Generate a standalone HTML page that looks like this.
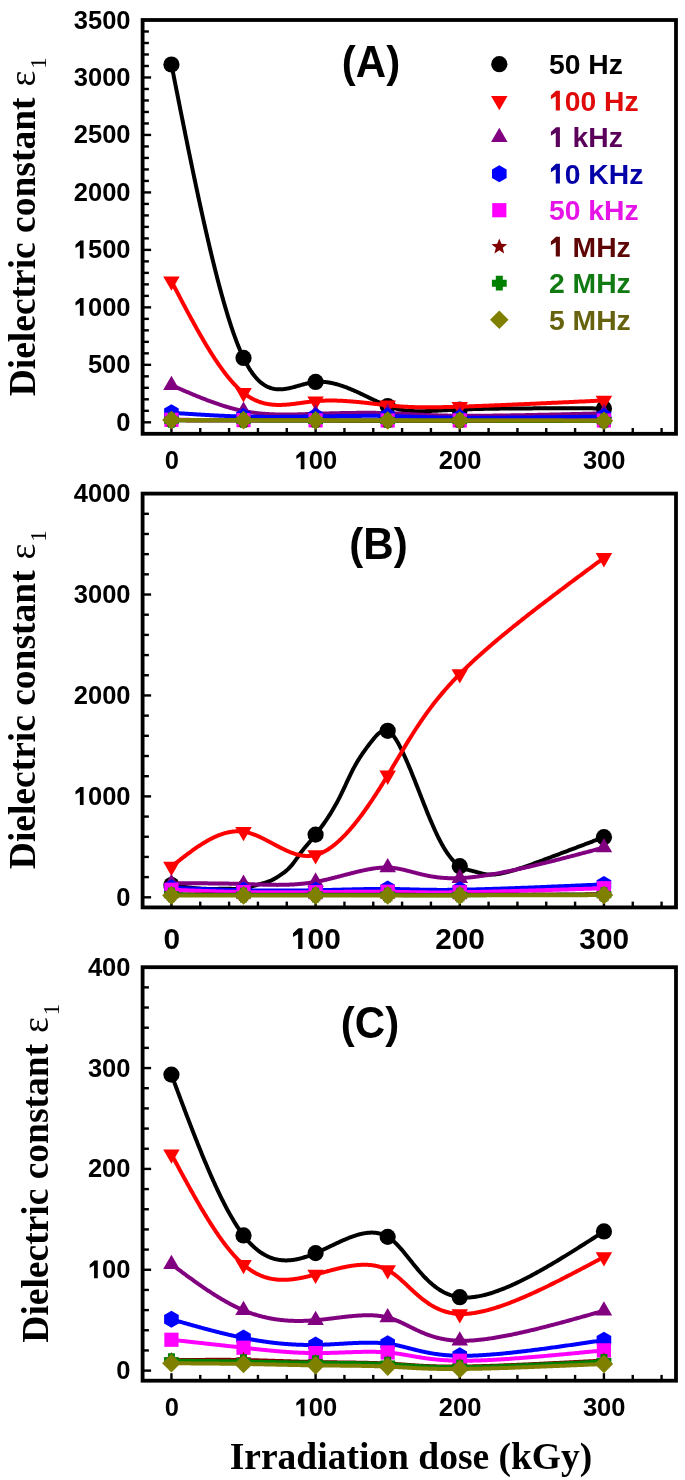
<!DOCTYPE html>
<html><head><meta charset="utf-8"><style>
html,body{margin:0;padding:0;background:#fff;width:685px;height:1480px;overflow:hidden}
svg{display:block;will-change:transform}
.t{font-family:"Liberation Sans",sans-serif;font-weight:bold}
.s{font-family:"Liberation Serif",serif}
</style></head><body>
<svg width="685" height="1480" viewBox="0 0 685 1480">
<rect width="685" height="1480" fill="#fff"/>
<line x1="142.60" y1="422.31" x2="151.10" y2="422.31" stroke="#000" stroke-width="2.4"/>
<text class="t" x="116.32" y="430.81" font-size="25.5">0</text>
<line x1="142.60" y1="410.81" x2="148.90" y2="410.81" stroke="#000" stroke-width="2.4"/>
<line x1="142.60" y1="399.32" x2="148.90" y2="399.32" stroke="#000" stroke-width="2.4"/>
<line x1="142.60" y1="387.82" x2="148.90" y2="387.82" stroke="#000" stroke-width="2.4"/>
<line x1="142.60" y1="376.33" x2="148.90" y2="376.33" stroke="#000" stroke-width="2.4"/>
<line x1="142.60" y1="364.83" x2="151.10" y2="364.83" stroke="#000" stroke-width="2.4"/>
<text class="t" x="87.95" y="373.33" font-size="25.5">500</text>
<line x1="142.60" y1="353.34" x2="148.90" y2="353.34" stroke="#000" stroke-width="2.4"/>
<line x1="142.60" y1="341.84" x2="148.90" y2="341.84" stroke="#000" stroke-width="2.4"/>
<line x1="142.60" y1="330.35" x2="148.90" y2="330.35" stroke="#000" stroke-width="2.4"/>
<line x1="142.60" y1="318.86" x2="148.90" y2="318.86" stroke="#000" stroke-width="2.4"/>
<line x1="142.60" y1="307.36" x2="151.10" y2="307.36" stroke="#000" stroke-width="2.4"/>
<text class="t" x="73.77" y="315.86" font-size="25.5"> 000</text><path transform="translate(73.77,315.86) scale(0.01245,-0.01245)" d="M789,0L490,0L490,1040L138,830L138,1090L510,1430L789,1430Z"/>
<line x1="142.60" y1="295.87" x2="148.90" y2="295.87" stroke="#000" stroke-width="2.4"/>
<line x1="142.60" y1="284.37" x2="148.90" y2="284.37" stroke="#000" stroke-width="2.4"/>
<line x1="142.60" y1="272.88" x2="148.90" y2="272.88" stroke="#000" stroke-width="2.4"/>
<line x1="142.60" y1="261.38" x2="148.90" y2="261.38" stroke="#000" stroke-width="2.4"/>
<line x1="142.60" y1="249.89" x2="151.10" y2="249.89" stroke="#000" stroke-width="2.4"/>
<text class="t" x="73.77" y="258.39" font-size="25.5"> 500</text><path transform="translate(73.77,258.39) scale(0.01245,-0.01245)" d="M789,0L490,0L490,1040L138,830L138,1090L510,1430L789,1430Z"/>
<line x1="142.60" y1="238.39" x2="148.90" y2="238.39" stroke="#000" stroke-width="2.4"/>
<line x1="142.60" y1="226.90" x2="148.90" y2="226.90" stroke="#000" stroke-width="2.4"/>
<line x1="142.60" y1="215.41" x2="148.90" y2="215.41" stroke="#000" stroke-width="2.4"/>
<line x1="142.60" y1="203.91" x2="148.90" y2="203.91" stroke="#000" stroke-width="2.4"/>
<line x1="142.60" y1="192.42" x2="151.10" y2="192.42" stroke="#000" stroke-width="2.4"/>
<text class="t" x="73.77" y="200.92" font-size="25.5">2000</text>
<line x1="142.60" y1="180.92" x2="148.90" y2="180.92" stroke="#000" stroke-width="2.4"/>
<line x1="142.60" y1="169.43" x2="148.90" y2="169.43" stroke="#000" stroke-width="2.4"/>
<line x1="142.60" y1="157.93" x2="148.90" y2="157.93" stroke="#000" stroke-width="2.4"/>
<line x1="142.60" y1="146.44" x2="148.90" y2="146.44" stroke="#000" stroke-width="2.4"/>
<line x1="142.60" y1="134.94" x2="151.10" y2="134.94" stroke="#000" stroke-width="2.4"/>
<text class="t" x="73.77" y="143.44" font-size="25.5">2500</text>
<line x1="142.60" y1="123.45" x2="148.90" y2="123.45" stroke="#000" stroke-width="2.4"/>
<line x1="142.60" y1="111.96" x2="148.90" y2="111.96" stroke="#000" stroke-width="2.4"/>
<line x1="142.60" y1="100.46" x2="148.90" y2="100.46" stroke="#000" stroke-width="2.4"/>
<line x1="142.60" y1="88.97" x2="148.90" y2="88.97" stroke="#000" stroke-width="2.4"/>
<line x1="142.60" y1="77.47" x2="151.10" y2="77.47" stroke="#000" stroke-width="2.4"/>
<text class="t" x="73.77" y="85.97" font-size="25.5">3000</text>
<line x1="142.60" y1="65.98" x2="148.90" y2="65.98" stroke="#000" stroke-width="2.4"/>
<line x1="142.60" y1="54.48" x2="148.90" y2="54.48" stroke="#000" stroke-width="2.4"/>
<line x1="142.60" y1="42.99" x2="148.90" y2="42.99" stroke="#000" stroke-width="2.4"/>
<line x1="142.60" y1="31.49" x2="148.90" y2="31.49" stroke="#000" stroke-width="2.4"/>
<text class="t" x="73.77" y="28.50" font-size="25.5">3500</text>
<line x1="171.43" y1="433.80" x2="171.43" y2="426.30" stroke="#000" stroke-width="2.4"/>
<text class="t" x="164.64" y="469.30" font-size="25.5">0</text>
<line x1="200.26" y1="433.80" x2="200.26" y2="428.00" stroke="#000" stroke-width="2.4"/>
<line x1="229.10" y1="433.80" x2="229.10" y2="428.00" stroke="#000" stroke-width="2.4"/>
<line x1="257.93" y1="433.80" x2="257.93" y2="428.00" stroke="#000" stroke-width="2.4"/>
<line x1="286.76" y1="433.80" x2="286.76" y2="428.00" stroke="#000" stroke-width="2.4"/>
<line x1="315.59" y1="433.80" x2="315.59" y2="426.30" stroke="#000" stroke-width="2.4"/>
<text class="t" x="294.62" y="469.30" font-size="25.5"> 00</text><path transform="translate(294.62,469.30) scale(0.01245,-0.01245)" d="M789,0L490,0L490,1040L138,830L138,1090L510,1430L789,1430Z"/>
<line x1="344.43" y1="433.80" x2="344.43" y2="428.00" stroke="#000" stroke-width="2.4"/>
<line x1="373.26" y1="433.80" x2="373.26" y2="428.00" stroke="#000" stroke-width="2.4"/>
<line x1="402.09" y1="433.80" x2="402.09" y2="428.00" stroke="#000" stroke-width="2.4"/>
<line x1="430.92" y1="433.80" x2="430.92" y2="428.00" stroke="#000" stroke-width="2.4"/>
<line x1="459.76" y1="433.80" x2="459.76" y2="426.30" stroke="#000" stroke-width="2.4"/>
<text class="t" x="438.78" y="469.30" font-size="25.5">200</text>
<line x1="488.59" y1="433.80" x2="488.59" y2="428.00" stroke="#000" stroke-width="2.4"/>
<line x1="517.42" y1="433.80" x2="517.42" y2="428.00" stroke="#000" stroke-width="2.4"/>
<line x1="546.25" y1="433.80" x2="546.25" y2="428.00" stroke="#000" stroke-width="2.4"/>
<line x1="575.09" y1="433.80" x2="575.09" y2="428.00" stroke="#000" stroke-width="2.4"/>
<line x1="603.92" y1="433.80" x2="603.92" y2="426.30" stroke="#000" stroke-width="2.4"/>
<text class="t" x="582.95" y="469.30" font-size="25.5">300</text>
<line x1="632.75" y1="433.80" x2="632.75" y2="428.00" stroke="#000" stroke-width="2.4"/>
<line x1="661.58" y1="433.80" x2="661.58" y2="428.00" stroke="#000" stroke-width="2.4"/>
<rect x="142.60" y="20.00" width="533.40" height="413.80" fill="none" stroke="#000" stroke-width="3.8"/>
<text class="t" transform="translate(371,77.1) scale(1,1.04)" font-size="42" text-anchor="middle">(A)</text>
<polyline points="171.43,64.48 172.16,68.14 172.88,71.80 173.61,75.46 174.33,79.12 175.05,82.78 175.78,86.43 176.50,90.08 177.23,93.73 177.95,97.37 178.67,101.01 179.40,104.65 180.12,108.28 180.85,111.91 181.57,115.53 182.30,119.14 183.02,122.75 183.74,126.35 184.47,129.94 185.19,133.53 185.91,137.11 186.64,140.67 187.36,144.23 188.09,147.78 188.81,151.32 189.53,154.85 190.26,158.37 190.98,161.88 191.70,165.37 192.43,168.86 193.15,172.33 193.87,175.79 194.60,179.23 195.32,182.66 196.04,186.08 196.77,189.48 197.49,192.86 198.21,196.23 198.94,199.59 199.66,202.92 200.38,206.25 201.10,209.55 201.83,212.83 202.55,216.10 203.27,219.35 203.99,222.58 204.71,225.79 205.44,228.98 206.16,232.15 206.88,235.29 207.60,238.42 208.32,241.53 209.05,244.61 209.77,247.67 210.49,250.71 211.21,253.72 211.93,256.71 212.65,259.67 213.37,262.61 214.09,265.53 214.81,268.42 215.53,271.28 216.25,274.12 216.97,276.93 217.69,279.71 218.41,282.47 219.13,285.19 219.85,287.89 220.57,290.56 221.29,293.20 222.01,295.80 222.73,298.38 223.45,300.93 224.17,303.45 224.89,305.93 225.61,308.38 226.32,310.80 227.04,313.19 227.76,315.54 228.48,317.86 229.20,320.14 229.91,322.39 230.63,324.61 231.35,326.79 232.07,328.93 232.78,331.03 233.50,333.10 234.22,335.13 234.93,337.13 235.65,339.08 236.36,341.00 237.08,342.88 237.80,344.71 238.51,346.51 239.23,348.27 239.94,349.98 240.66,351.66 241.37,353.29 242.09,354.88 242.80,356.43 243.51,357.94 244.23,359.40 244.94,360.82 245.65,362.19 246.37,363.53 247.08,364.82 247.79,366.07 248.51,367.29 249.22,368.46 249.93,369.59 250.64,370.69 251.36,371.74 252.07,372.76 252.78,373.75 253.49,374.69 254.20,375.60 254.92,376.48 255.63,377.32 256.34,378.13 257.05,378.90 257.76,379.64 258.48,380.35 259.19,381.03 259.90,381.67 260.61,382.29 261.32,382.87 262.04,383.43 262.75,383.96 263.46,384.45 264.17,384.92 264.88,385.37 265.60,385.78 266.31,386.17 267.02,386.54 267.73,386.88 268.45,387.19 269.16,387.48 269.87,387.75 270.59,387.99 271.30,388.22 272.01,388.42 272.73,388.60 273.44,388.75 274.16,388.89 274.87,389.01 275.59,389.11 276.30,389.20 277.02,389.26 277.73,389.31 278.45,389.34 279.17,389.35 279.88,389.35 280.60,389.34 281.32,389.31 282.03,389.26 282.75,389.21 283.47,389.14 284.19,389.05 284.91,388.96 285.63,388.85 286.35,388.74 287.07,388.61 287.79,388.48 288.51,388.34 289.23,388.18 289.95,388.02 290.68,387.86 291.40,387.68 292.12,387.51 292.85,387.32 293.57,387.13 294.30,386.94 295.02,386.74 295.75,386.54 296.48,386.34 297.20,386.13 297.93,385.92 298.66,385.72 299.39,385.51 300.12,385.30 300.85,385.09 301.58,384.89 302.31,384.68 303.04,384.48 303.77,384.28 304.51,384.09 305.24,383.90 305.98,383.71 306.71,383.53 307.45,383.35 308.18,383.18 308.92,383.02 309.66,382.86 310.40,382.72 311.14,382.58 311.88,382.45 312.62,382.33 313.36,382.22 314.11,382.12 314.85,382.04 315.59,381.96 316.34,381.90 317.09,381.85 317.83,381.81 318.58,381.78 319.33,381.77 320.08,381.76 320.83,381.77 321.58,381.79 322.33,381.82 323.08,381.86 323.83,381.91 324.58,381.98 325.33,382.05 326.09,382.13 326.84,382.22 327.59,382.32 328.35,382.43 329.10,382.56 329.85,382.68 330.61,382.82 331.36,382.97 332.11,383.13 332.87,383.29 333.62,383.46 334.37,383.64 335.13,383.83 335.88,384.03 336.63,384.23 337.39,384.44 338.14,384.66 338.89,384.88 339.64,385.11 340.39,385.35 341.14,385.59 341.89,385.84 342.64,386.09 343.39,386.36 344.14,386.62 344.89,386.89 345.64,387.17 346.38,387.45 347.13,387.74 347.87,388.03 348.62,388.32 349.36,388.62 350.10,388.93 350.84,389.23 351.58,389.54 352.32,389.86 353.06,390.18 353.79,390.50 354.53,390.82 355.26,391.15 356.00,391.47 356.73,391.81 357.46,392.14 358.19,392.47 358.92,392.81 359.64,393.15 360.37,393.49 361.09,393.83 361.81,394.17 362.53,394.51 363.25,394.85 363.97,395.20 364.68,395.54 365.39,395.88 366.10,396.23 366.81,396.57 367.52,396.91 368.23,397.25 368.93,397.59 369.63,397.93 370.33,398.27 371.03,398.61 371.72,398.94 372.42,399.28 373.11,399.61 373.80,399.94 374.48,400.26 375.17,400.59 375.85,400.91 376.53,401.22 377.21,401.54 377.88,401.85 378.55,402.16 379.22,402.46 379.89,402.76 380.55,403.06 381.22,403.35 381.87,403.64 382.53,403.92 383.18,404.20 383.83,404.47 384.48,404.73 385.13,405.00 385.77,405.25 386.41,405.50 387.04,405.75 387.68,405.98 388.31,406.21 388.93,406.44 389.56,406.66 390.18,406.87 390.80,407.08 391.41,407.28 392.03,407.47 392.64,407.66 393.25,407.84 393.86,408.02 394.46,408.19 395.07,408.36 395.67,408.52 396.27,408.67 396.88,408.82 397.48,408.96 398.08,409.10 398.68,409.24 399.28,409.37 399.87,409.49 400.47,409.61 401.07,409.72 401.67,409.83 402.27,409.93 402.87,410.03 403.47,410.13 404.07,410.22 404.67,410.30 405.27,410.38 405.87,410.46 406.48,410.53 407.09,410.60 407.69,410.67 408.30,410.73 408.91,410.79 409.53,410.84 410.14,410.89 410.76,410.93 411.38,410.97 412.01,411.01 412.63,411.05 413.26,411.08 413.89,411.11 414.53,411.13 415.17,411.15 415.81,411.17 416.45,411.19 417.10,411.20 417.76,411.21 418.41,411.21 419.08,411.22 419.74,411.22 420.41,411.22 421.09,411.21 421.77,411.21 422.45,411.20 423.14,411.19 423.84,411.17 424.54,411.16 425.25,411.14 425.96,411.12 426.68,411.10 427.40,411.07 428.13,411.05 428.87,411.02 429.61,410.99 430.36,410.96 431.12,410.93 431.88,410.90 432.65,410.86 433.43,410.83 434.21,410.79 435.00,410.75 435.80,410.71 436.61,410.67 437.43,410.63 438.25,410.59 439.08,410.54 439.92,410.50 440.77,410.46 441.63,410.41 442.49,410.37 443.37,410.32 444.25,410.27 445.15,410.23 446.05,410.18 446.96,410.13 447.88,410.09 448.82,410.04 449.76,409.99 450.71,409.95 451.67,409.90 452.64,409.85 453.63,409.81 454.62,409.76 455.63,409.72 456.64,409.67 457.67,409.63 458.71,409.59 459.76,409.55 460.82,409.51 461.89,409.47 462.97,409.43 464.07,409.39 465.18,409.35 466.29,409.31 467.42,409.28 468.56,409.24 469.71,409.21 470.87,409.18 472.04,409.14 473.22,409.11 474.41,409.08 475.61,409.05 476.83,409.02 478.05,408.99 479.28,408.97 480.52,408.94 481.77,408.91 483.03,408.89 484.30,408.86 485.57,408.84 486.86,408.81 488.16,408.79 489.46,408.77 490.77,408.75 492.09,408.73 493.43,408.71 494.76,408.69 496.11,408.67 497.47,408.65 498.83,408.63 500.20,408.62 501.58,408.60 502.96,408.58 504.36,408.57 505.76,408.55 507.17,408.54 508.58,408.53 510.01,408.51 511.43,408.50 512.87,408.49 514.31,408.48 515.76,408.47 517.22,408.46 518.68,408.45 520.15,408.44 521.63,408.43 523.11,408.42 524.60,408.41 526.09,408.40 527.59,408.40 529.09,408.39 530.60,408.38 532.11,408.38 533.63,408.37 535.16,408.37 536.69,408.36 538.22,408.36 539.76,408.35 541.31,408.35 542.86,408.35 544.41,408.35 545.97,408.34 547.53,408.34 549.10,408.34 550.67,408.34 552.24,408.34 553.82,408.33 555.40,408.33 556.98,408.33 558.57,408.33 560.16,408.33 561.75,408.33 563.35,408.33 564.95,408.34 566.55,408.34 568.16,408.34 569.77,408.34 571.38,408.34 572.99,408.34 574.61,408.34 576.22,408.35 577.84,408.35 579.46,408.35 581.09,408.35 582.71,408.36 584.34,408.36 585.96,408.36 587.59,408.36 589.22,408.37 590.85,408.37 592.48,408.37 594.11,408.38 595.75,408.38 597.38,408.38 599.02,408.39 600.65,408.39 602.28,408.39 603.92,408.40" fill="none" stroke="#000000" stroke-width="4.0" stroke-linejoin="round"/>
<circle cx="171.43" cy="64.48" r="8.10" fill="#000000"/>
<circle cx="243.51" cy="357.94" r="8.10" fill="#000000"/>
<circle cx="315.59" cy="381.96" r="8.10" fill="#000000"/>
<circle cx="387.68" cy="405.98" r="8.10" fill="#000000"/>
<circle cx="459.76" cy="409.55" r="8.10" fill="#000000"/>
<circle cx="603.92" cy="408.40" r="8.10" fill="#000000"/>
<polyline points="171.43,281.15 172.16,282.55 172.88,283.94 173.61,285.33 174.33,286.72 175.05,288.11 175.78,289.50 176.50,290.89 177.23,292.27 177.95,293.66 178.67,295.04 179.40,296.43 180.12,297.81 180.85,299.18 181.57,300.56 182.30,301.94 183.02,303.31 183.74,304.68 184.47,306.04 185.19,307.41 185.91,308.77 186.64,310.12 187.36,311.48 188.09,312.83 188.81,314.17 189.53,315.52 190.26,316.85 190.98,318.19 191.70,319.52 192.43,320.84 193.15,322.16 193.87,323.48 194.60,324.79 195.32,326.09 196.04,327.39 196.77,328.68 197.49,329.97 198.21,331.25 198.94,332.53 199.66,333.80 200.38,335.06 201.10,336.32 201.83,337.57 202.55,338.81 203.27,340.05 203.99,341.28 204.71,342.50 205.44,343.71 206.16,344.92 206.88,346.12 207.60,347.31 208.32,348.49 209.05,349.66 209.77,350.83 210.49,351.98 211.21,353.13 211.93,354.27 212.65,355.40 213.37,356.52 214.09,357.63 214.81,358.73 215.53,359.82 216.25,360.90 216.97,361.97 217.69,363.03 218.41,364.08 219.13,365.11 219.85,366.14 220.57,367.16 221.29,368.16 222.01,369.16 222.73,370.14 223.45,371.11 224.17,372.07 224.89,373.02 225.61,373.95 226.32,374.87 227.04,375.78 227.76,376.68 228.48,377.57 229.20,378.44 229.91,379.29 230.63,380.14 231.35,380.97 232.07,381.79 232.78,382.59 233.50,383.38 234.22,384.16 234.93,384.92 235.65,385.67 236.36,386.40 237.08,387.12 237.80,387.82 238.51,388.51 239.23,389.18 239.94,389.83 240.66,390.48 241.37,391.10 242.09,391.71 242.80,392.30 243.51,392.88 244.23,393.44 244.94,393.98 245.65,394.51 246.37,395.02 247.08,395.52 247.79,396.00 248.51,396.47 249.22,396.92 249.93,397.35 250.64,397.78 251.36,398.18 252.07,398.57 252.78,398.95 253.49,399.32 254.20,399.67 254.92,400.01 255.63,400.33 256.34,400.64 257.05,400.94 257.76,401.23 258.48,401.50 259.19,401.76 259.90,402.01 260.61,402.25 261.32,402.47 262.04,402.69 262.75,402.89 263.46,403.08 264.17,403.27 264.88,403.44 265.60,403.60 266.31,403.75 267.02,403.89 267.73,404.02 268.45,404.14 269.16,404.25 269.87,404.35 270.59,404.45 271.30,404.53 272.01,404.61 272.73,404.68 273.44,404.74 274.16,404.79 274.87,404.83 275.59,404.87 276.30,404.90 277.02,404.92 277.73,404.93 278.45,404.94 279.17,404.94 279.88,404.94 280.60,404.93 281.32,404.91 282.03,404.89 282.75,404.86 283.47,404.83 284.19,404.79 284.91,404.75 285.63,404.70 286.35,404.64 287.07,404.59 287.79,404.53 288.51,404.46 289.23,404.39 289.95,404.32 290.68,404.24 291.40,404.17 292.12,404.08 292.85,404.00 293.57,403.91 294.30,403.82 295.02,403.73 295.75,403.64 296.48,403.55 297.20,403.45 297.93,403.35 298.66,403.25 299.39,403.15 300.12,403.05 300.85,402.95 301.58,402.85 302.31,402.75 303.04,402.65 303.77,402.55 304.51,402.45 305.24,402.35 305.98,402.25 306.71,402.16 307.45,402.06 308.18,401.97 308.92,401.87 309.66,401.78 310.40,401.70 311.14,401.61 311.88,401.53 312.62,401.45 313.36,401.37 314.11,401.29 314.85,401.22 315.59,401.16 316.34,401.09 317.09,401.03 317.83,400.98 318.58,400.92 319.33,400.87 320.08,400.83 320.83,400.79 321.58,400.75 322.33,400.71 323.08,400.68 323.83,400.65 324.58,400.63 325.33,400.60 326.09,400.59 326.84,400.57 327.59,400.56 328.35,400.55 329.10,400.54 329.85,400.54 330.61,400.54 331.36,400.54 332.11,400.54 332.87,400.55 333.62,400.56 334.37,400.57 335.13,400.58 335.88,400.60 336.63,400.62 337.39,400.64 338.14,400.67 338.89,400.70 339.64,400.72 340.39,400.76 341.14,400.79 341.89,400.82 342.64,400.86 343.39,400.90 344.14,400.94 344.89,400.99 345.64,401.03 346.38,401.08 347.13,401.13 347.87,401.18 348.62,401.23 349.36,401.29 350.10,401.34 350.84,401.40 351.58,401.46 352.32,401.52 353.06,401.58 353.79,401.64 354.53,401.70 355.26,401.77 356.00,401.84 356.73,401.90 357.46,401.97 358.19,402.04 358.92,402.11 359.64,402.18 360.37,402.25 361.09,402.33 361.81,402.40 362.53,402.48 363.25,402.55 363.97,402.63 364.68,402.70 365.39,402.78 366.10,402.86 366.81,402.94 367.52,403.01 368.23,403.09 368.93,403.17 369.63,403.25 370.33,403.33 371.03,403.41 371.72,403.49 372.42,403.57 373.11,403.65 373.80,403.73 374.48,403.81 375.17,403.89 375.85,403.96 376.53,404.04 377.21,404.12 377.88,404.20 378.55,404.28 379.22,404.35 379.89,404.43 380.55,404.51 381.22,404.58 381.87,404.66 382.53,404.73 383.18,404.81 383.83,404.88 384.48,404.95 385.13,405.02 385.77,405.09 386.41,405.16 387.04,405.23 387.68,405.29 388.31,405.36 388.93,405.42 389.56,405.49 390.18,405.55 390.80,405.61 391.41,405.67 392.03,405.73 392.64,405.79 393.25,405.84 393.86,405.90 394.46,405.95 395.07,406.01 395.67,406.06 396.27,406.11 396.88,406.16 397.48,406.21 398.08,406.26 398.68,406.30 399.28,406.35 399.87,406.39 400.47,406.44 401.07,406.48 401.67,406.52 402.27,406.56 402.87,406.60 403.47,406.64 404.07,406.67 404.67,406.71 405.27,406.74 405.87,406.78 406.48,406.81 407.09,406.84 407.69,406.87 408.30,406.90 408.91,406.93 409.53,406.96 410.14,406.98 410.76,407.01 411.38,407.03 412.01,407.06 412.63,407.08 413.26,407.10 413.89,407.12 414.53,407.14 415.17,407.16 415.81,407.17 416.45,407.19 417.10,407.20 417.76,407.22 418.41,407.23 419.08,407.24 419.74,407.26 420.41,407.27 421.09,407.27 421.77,407.28 422.45,407.29 423.14,407.30 423.84,407.30 424.54,407.31 425.25,407.31 425.96,407.31 426.68,407.31 427.40,407.31 428.13,407.31 428.87,407.31 429.61,407.31 430.36,407.30 431.12,407.30 431.88,407.29 432.65,407.29 433.43,407.28 434.21,407.27 435.00,407.26 435.80,407.25 436.61,407.24 437.43,407.23 438.25,407.22 439.08,407.20 439.92,407.19 440.77,407.17 441.63,407.16 442.49,407.14 443.37,407.12 444.25,407.10 445.15,407.08 446.05,407.06 446.96,407.04 447.88,407.02 448.82,406.99 449.76,406.97 450.71,406.94 451.67,406.92 452.64,406.89 453.63,406.86 454.62,406.83 455.63,406.80 456.64,406.77 457.67,406.74 458.71,406.71 459.76,406.67 460.82,406.64 461.89,406.60 462.97,406.57 464.07,406.53 465.18,406.49 466.29,406.46 467.42,406.42 468.56,406.38 469.71,406.34 470.87,406.30 472.04,406.25 473.22,406.21 474.41,406.17 475.61,406.12 476.83,406.08 478.05,406.03 479.28,405.98 480.52,405.94 481.77,405.89 483.03,405.84 484.30,405.79 485.57,405.74 486.86,405.69 488.16,405.64 489.46,405.59 490.77,405.53 492.09,405.48 493.43,405.43 494.76,405.37 496.11,405.32 497.47,405.26 498.83,405.21 500.20,405.15 501.58,405.09 502.96,405.03 504.36,404.97 505.76,404.92 507.17,404.86 508.58,404.80 510.01,404.74 511.43,404.67 512.87,404.61 514.31,404.55 515.76,404.49 517.22,404.42 518.68,404.36 520.15,404.30 521.63,404.23 523.11,404.17 524.60,404.10 526.09,404.04 527.59,403.97 529.09,403.90 530.60,403.84 532.11,403.77 533.63,403.70 535.16,403.63 536.69,403.56 538.22,403.49 539.76,403.43 541.31,403.36 542.86,403.29 544.41,403.22 545.97,403.15 547.53,403.07 549.10,403.00 550.67,402.93 552.24,402.86 553.82,402.79 555.40,402.72 556.98,402.64 558.57,402.57 560.16,402.50 561.75,402.42 563.35,402.35 564.95,402.28 566.55,402.20 568.16,402.13 569.77,402.05 571.38,401.98 572.99,401.91 574.61,401.83 576.22,401.76 577.84,401.68 579.46,401.61 581.09,401.53 582.71,401.45 584.34,401.38 585.96,401.30 587.59,401.23 589.22,401.15 590.85,401.08 592.48,401.00 594.11,400.92 595.75,400.85 597.38,400.77 599.02,400.69 600.65,400.62 602.28,400.54 603.92,400.47" fill="none" stroke="#ff0000" stroke-width="4.0" stroke-linejoin="round"/>
<polygon points="163.18,276.39 179.68,276.39 171.43,290.69" fill="#ff0000"/>
<polygon points="235.26,388.11 251.76,388.11 243.51,402.41" fill="#ff0000"/>
<polygon points="307.34,396.39 323.84,396.39 315.59,410.69" fill="#ff0000"/>
<polygon points="379.43,400.53 395.93,400.53 387.68,414.83" fill="#ff0000"/>
<polygon points="451.51,401.91 468.01,401.91 459.76,416.21" fill="#ff0000"/>
<polygon points="595.67,395.70 612.17,395.70 603.92,410.00" fill="#ff0000"/>
<polyline points="171.43,385.18 172.16,385.50 172.88,385.81 173.61,386.13 174.33,386.45 175.05,386.76 175.78,387.08 176.50,387.40 177.23,387.71 177.95,388.03 178.67,388.34 179.40,388.66 180.12,388.97 180.85,389.29 181.57,389.60 182.30,389.92 183.02,390.23 183.74,390.54 184.47,390.85 185.19,391.16 185.91,391.48 186.64,391.78 187.36,392.09 188.09,392.40 188.81,392.71 189.53,393.02 190.26,393.32 190.98,393.63 191.70,393.93 192.43,394.23 193.15,394.54 193.87,394.84 194.60,395.14 195.32,395.43 196.04,395.73 196.77,396.03 197.49,396.32 198.21,396.62 198.94,396.91 199.66,397.20 200.38,397.49 201.10,397.78 201.83,398.07 202.55,398.35 203.27,398.64 203.99,398.92 204.71,399.20 205.44,399.48 206.16,399.76 206.88,400.03 207.60,400.31 208.32,400.58 209.05,400.85 209.77,401.12 210.49,401.38 211.21,401.65 211.93,401.91 212.65,402.17 213.37,402.43 214.09,402.69 214.81,402.94 215.53,403.20 216.25,403.45 216.97,403.70 217.69,403.94 218.41,404.19 219.13,404.43 219.85,404.67 220.57,404.91 221.29,405.14 222.01,405.37 222.73,405.60 223.45,405.83 224.17,406.05 224.89,406.28 225.61,406.50 226.32,406.71 227.04,406.93 227.76,407.14 228.48,407.35 229.20,407.55 229.91,407.76 230.63,407.96 231.35,408.16 232.07,408.35 232.78,408.54 233.50,408.73 234.22,408.92 234.93,409.10 235.65,409.28 236.36,409.46 237.08,409.63 237.80,409.80 238.51,409.97 239.23,410.13 239.94,410.29 240.66,410.45 241.37,410.60 242.09,410.75 242.80,410.90 243.51,411.04 244.23,411.18 244.94,411.32 245.65,411.45 246.37,411.58 247.08,411.71 247.79,411.83 248.51,411.95 249.22,412.06 249.93,412.18 250.64,412.29 251.36,412.39 252.07,412.50 252.78,412.60 253.49,412.70 254.20,412.79 254.92,412.88 255.63,412.97 256.34,413.06 257.05,413.14 257.76,413.22 258.48,413.30 259.19,413.37 259.90,413.44 260.61,413.51 261.32,413.58 262.04,413.64 262.75,413.70 263.46,413.76 264.17,413.82 264.88,413.87 265.60,413.92 266.31,413.97 267.02,414.02 267.73,414.06 268.45,414.11 269.16,414.15 269.87,414.19 270.59,414.22 271.30,414.25 272.01,414.29 272.73,414.32 273.44,414.34 274.16,414.37 274.87,414.39 275.59,414.42 276.30,414.44 277.02,414.45 277.73,414.47 278.45,414.48 279.17,414.50 279.88,414.51 280.60,414.52 281.32,414.53 282.03,414.53 282.75,414.54 283.47,414.54 284.19,414.54 284.91,414.54 285.63,414.54 286.35,414.54 287.07,414.54 287.79,414.53 288.51,414.53 289.23,414.52 289.95,414.51 290.68,414.50 291.40,414.49 292.12,414.48 292.85,414.47 293.57,414.46 294.30,414.44 295.02,414.43 295.75,414.41 296.48,414.40 297.20,414.38 297.93,414.36 298.66,414.34 299.39,414.32 300.12,414.30 300.85,414.28 301.58,414.26 302.31,414.24 303.04,414.22 303.77,414.19 304.51,414.17 305.24,414.15 305.98,414.12 306.71,414.10 307.45,414.07 308.18,414.05 308.92,414.02 309.66,414.00 310.40,413.97 311.14,413.95 311.88,413.92 312.62,413.90 313.36,413.87 314.11,413.85 314.85,413.82 315.59,413.80 316.34,413.78 317.09,413.75 317.83,413.73 318.58,413.70 319.33,413.68 320.08,413.66 320.83,413.63 321.58,413.61 322.33,413.59 323.08,413.56 323.83,413.54 324.58,413.52 325.33,413.50 326.09,413.48 326.84,413.45 327.59,413.43 328.35,413.41 329.10,413.39 329.85,413.37 330.61,413.35 331.36,413.33 332.11,413.31 332.87,413.29 333.62,413.27 334.37,413.26 335.13,413.24 335.88,413.22 336.63,413.20 337.39,413.19 338.14,413.17 338.89,413.15 339.64,413.14 340.39,413.12 341.14,413.10 341.89,413.09 342.64,413.07 343.39,413.06 344.14,413.05 344.89,413.03 345.64,413.02 346.38,413.01 347.13,412.99 347.87,412.98 348.62,412.97 349.36,412.96 350.10,412.95 350.84,412.94 351.58,412.93 352.32,412.92 353.06,412.91 353.79,412.90 354.53,412.89 355.26,412.88 356.00,412.88 356.73,412.87 357.46,412.86 358.19,412.86 358.92,412.85 359.64,412.85 360.37,412.84 361.09,412.84 361.81,412.83 362.53,412.83 363.25,412.83 363.97,412.83 364.68,412.82 365.39,412.82 366.10,412.82 366.81,412.82 367.52,412.82 368.23,412.82 368.93,412.83 369.63,412.83 370.33,412.83 371.03,412.83 371.72,412.84 372.42,412.84 373.11,412.85 373.80,412.85 374.48,412.86 375.17,412.87 375.85,412.87 376.53,412.88 377.21,412.89 377.88,412.90 378.55,412.91 379.22,412.92 379.89,412.93 380.55,412.94 381.22,412.95 381.87,412.97 382.53,412.98 383.18,412.99 383.83,413.01 384.48,413.02 385.13,413.04 385.77,413.06 386.41,413.07 387.04,413.09 387.68,413.11 388.31,413.13 388.93,413.15 389.56,413.17 390.18,413.19 390.80,413.21 391.41,413.24 392.03,413.26 392.64,413.28 393.25,413.31 393.86,413.33 394.46,413.36 395.07,413.38 395.67,413.41 396.27,413.44 396.88,413.46 397.48,413.49 398.08,413.52 398.68,413.55 399.28,413.58 399.87,413.61 400.47,413.64 401.07,413.67 401.67,413.70 402.27,413.73 402.87,413.76 403.47,413.79 404.07,413.82 404.67,413.85 405.27,413.89 405.87,413.92 406.48,413.95 407.09,413.98 407.69,414.02 408.30,414.05 408.91,414.08 409.53,414.12 410.14,414.15 410.76,414.18 411.38,414.22 412.01,414.25 412.63,414.28 413.26,414.32 413.89,414.35 414.53,414.38 415.17,414.42 415.81,414.45 416.45,414.48 417.10,414.52 417.76,414.55 418.41,414.58 419.08,414.62 419.74,414.65 420.41,414.68 421.09,414.72 421.77,414.75 422.45,414.78 423.14,414.81 423.84,414.84 424.54,414.88 425.25,414.91 425.96,414.94 426.68,414.97 427.40,415.00 428.13,415.03 428.87,415.06 429.61,415.09 430.36,415.12 431.12,415.15 431.88,415.17 432.65,415.20 433.43,415.23 434.21,415.26 435.00,415.28 435.80,415.31 436.61,415.33 437.43,415.36 438.25,415.38 439.08,415.41 439.92,415.43 440.77,415.45 441.63,415.47 442.49,415.50 443.37,415.52 444.25,415.54 445.15,415.56 446.05,415.57 446.96,415.59 447.88,415.61 448.82,415.63 449.76,415.64 450.71,415.66 451.67,415.67 452.64,415.68 453.63,415.70 454.62,415.71 455.63,415.72 456.64,415.73 457.67,415.74 458.71,415.75 459.76,415.75 460.82,415.76 461.89,415.77 462.97,415.77 464.07,415.77 465.18,415.78 466.29,415.78 467.42,415.78 468.56,415.78 469.71,415.78 470.87,415.78 472.04,415.77 473.22,415.77 474.41,415.77 475.61,415.76 476.83,415.76 478.05,415.75 479.28,415.74 480.52,415.74 481.77,415.73 483.03,415.72 484.30,415.71 485.57,415.70 486.86,415.68 488.16,415.67 489.46,415.66 490.77,415.64 492.09,415.63 493.43,415.62 494.76,415.60 496.11,415.58 497.47,415.57 498.83,415.55 500.20,415.53 501.58,415.51 502.96,415.49 504.36,415.47 505.76,415.45 507.17,415.43 508.58,415.41 510.01,415.38 511.43,415.36 512.87,415.34 514.31,415.31 515.76,415.29 517.22,415.26 518.68,415.24 520.15,415.21 521.63,415.18 523.11,415.16 524.60,415.13 526.09,415.10 527.59,415.07 529.09,415.04 530.60,415.01 532.11,414.98 533.63,414.95 535.16,414.92 536.69,414.89 538.22,414.86 539.76,414.83 541.31,414.79 542.86,414.76 544.41,414.73 545.97,414.69 547.53,414.66 549.10,414.63 550.67,414.59 552.24,414.56 553.82,414.52 555.40,414.49 556.98,414.45 558.57,414.42 560.16,414.38 561.75,414.34 563.35,414.31 564.95,414.27 566.55,414.23 568.16,414.20 569.77,414.16 571.38,414.12 572.99,414.08 574.61,414.04 576.22,414.01 577.84,413.97 579.46,413.93 581.09,413.89 582.71,413.85 584.34,413.81 585.96,413.77 587.59,413.73 589.22,413.70 590.85,413.66 592.48,413.62 594.11,413.58 595.75,413.54 597.38,413.50 599.02,413.46 600.65,413.42 602.28,413.38 603.92,413.34" fill="none" stroke="#800080" stroke-width="4.0" stroke-linejoin="round"/>
<polygon points="163.18,389.95 179.68,389.95 171.43,375.65" fill="#800080"/>
<polygon points="235.26,415.81 251.76,415.81 243.51,401.51" fill="#800080"/>
<polygon points="307.34,418.57 323.84,418.57 315.59,404.27" fill="#800080"/>
<polygon points="379.43,417.88 395.93,417.88 387.68,403.58" fill="#800080"/>
<polygon points="451.51,420.52 468.01,420.52 459.76,406.22" fill="#800080"/>
<polygon points="595.67,418.11 612.17,418.11 603.92,403.81" fill="#800080"/>
<polyline points="171.43,412.77 172.16,412.81 172.88,412.86 173.61,412.91 174.33,412.96 175.05,413.00 175.78,413.05 176.50,413.10 177.23,413.15 177.95,413.19 178.67,413.24 179.40,413.29 180.12,413.33 180.85,413.38 181.57,413.43 182.30,413.48 183.02,413.52 183.74,413.57 184.47,413.62 185.19,413.66 185.91,413.71 186.64,413.76 187.36,413.80 188.09,413.85 188.81,413.89 189.53,413.94 190.26,413.99 190.98,414.03 191.70,414.08 192.43,414.12 193.15,414.17 193.87,414.21 194.60,414.26 195.32,414.30 196.04,414.35 196.77,414.39 197.49,414.43 198.21,414.48 198.94,414.52 199.66,414.56 200.38,414.61 201.10,414.65 201.83,414.69 202.55,414.74 203.27,414.78 203.99,414.82 204.71,414.86 205.44,414.90 206.16,414.94 206.88,414.98 207.60,415.02 208.32,415.06 209.05,415.10 209.77,415.14 210.49,415.18 211.21,415.22 211.93,415.26 212.65,415.30 213.37,415.34 214.09,415.38 214.81,415.41 215.53,415.45 216.25,415.49 216.97,415.52 217.69,415.56 218.41,415.59 219.13,415.63 219.85,415.66 220.57,415.70 221.29,415.73 222.01,415.77 222.73,415.80 223.45,415.83 224.17,415.86 224.89,415.90 225.61,415.93 226.32,415.96 227.04,415.99 227.76,416.02 228.48,416.05 229.20,416.08 229.91,416.11 230.63,416.14 231.35,416.16 232.07,416.19 232.78,416.22 233.50,416.24 234.22,416.27 234.93,416.30 235.65,416.32 236.36,416.34 237.08,416.37 237.80,416.39 238.51,416.41 239.23,416.44 239.94,416.46 240.66,416.48 241.37,416.50 242.09,416.52 242.80,416.54 243.51,416.56 244.23,416.58 244.94,416.59 245.65,416.61 246.37,416.63 247.08,416.64 247.79,416.66 248.51,416.67 249.22,416.69 249.93,416.70 250.64,416.72 251.36,416.73 252.07,416.74 252.78,416.75 253.49,416.76 254.20,416.78 254.92,416.79 255.63,416.80 256.34,416.80 257.05,416.81 257.76,416.82 258.48,416.83 259.19,416.84 259.90,416.84 260.61,416.85 261.32,416.86 262.04,416.86 262.75,416.87 263.46,416.87 264.17,416.88 264.88,416.88 265.60,416.88 266.31,416.89 267.02,416.89 267.73,416.89 268.45,416.89 269.16,416.90 269.87,416.90 270.59,416.90 271.30,416.90 272.01,416.90 272.73,416.90 273.44,416.90 274.16,416.90 274.87,416.89 275.59,416.89 276.30,416.89 277.02,416.89 277.73,416.89 278.45,416.88 279.17,416.88 279.88,416.88 280.60,416.87 281.32,416.87 282.03,416.86 282.75,416.86 283.47,416.85 284.19,416.85 284.91,416.84 285.63,416.84 286.35,416.83 287.07,416.82 287.79,416.82 288.51,416.81 289.23,416.80 289.95,416.80 290.68,416.79 291.40,416.78 292.12,416.77 292.85,416.76 293.57,416.76 294.30,416.75 295.02,416.74 295.75,416.73 296.48,416.72 297.20,416.71 297.93,416.70 298.66,416.69 299.39,416.68 300.12,416.67 300.85,416.66 301.58,416.65 302.31,416.64 303.04,416.63 303.77,416.62 304.51,416.61 305.24,416.60 305.98,416.59 306.71,416.58 307.45,416.57 308.18,416.56 308.92,416.55 309.66,416.54 310.40,416.52 311.14,416.51 311.88,416.50 312.62,416.49 313.36,416.48 314.11,416.47 314.85,416.46 315.59,416.44 316.34,416.43 317.09,416.42 317.83,416.41 318.58,416.40 319.33,416.39 320.08,416.37 320.83,416.36 321.58,416.35 322.33,416.34 323.08,416.33 323.83,416.32 324.58,416.30 325.33,416.29 326.09,416.28 326.84,416.27 327.59,416.26 328.35,416.25 329.10,416.23 329.85,416.22 330.61,416.21 331.36,416.20 332.11,416.19 332.87,416.18 333.62,416.17 334.37,416.16 335.13,416.15 335.88,416.14 336.63,416.13 337.39,416.12 338.14,416.11 338.89,416.10 339.64,416.09 340.39,416.08 341.14,416.07 341.89,416.06 342.64,416.05 343.39,416.04 344.14,416.03 344.89,416.02 345.64,416.01 346.38,416.00 347.13,415.99 347.87,415.99 348.62,415.98 349.36,415.97 350.10,415.96 350.84,415.96 351.58,415.95 352.32,415.94 353.06,415.93 353.79,415.93 354.53,415.92 355.26,415.92 356.00,415.91 356.73,415.90 357.46,415.90 358.19,415.89 358.92,415.89 359.64,415.88 360.37,415.88 361.09,415.88 361.81,415.87 362.53,415.87 363.25,415.87 363.97,415.86 364.68,415.86 365.39,415.86 366.10,415.86 366.81,415.85 367.52,415.85 368.23,415.85 368.93,415.85 369.63,415.85 370.33,415.85 371.03,415.85 371.72,415.85 372.42,415.85 373.11,415.85 373.80,415.86 374.48,415.86 375.17,415.86 375.85,415.86 376.53,415.87 377.21,415.87 377.88,415.87 378.55,415.88 379.22,415.88 379.89,415.89 380.55,415.89 381.22,415.90 381.87,415.91 382.53,415.91 383.18,415.92 383.83,415.93 384.48,415.94 385.13,415.94 385.77,415.95 386.41,415.96 387.04,415.97 387.68,415.98 388.31,415.99 388.93,416.01 389.56,416.02 390.18,416.03 390.80,416.04 391.41,416.06 392.03,416.07 392.64,416.08 393.25,416.10 393.86,416.11 394.46,416.13 395.07,416.14 395.67,416.16 396.27,416.17 396.88,416.19 397.48,416.21 398.08,416.23 398.68,416.24 399.28,416.26 399.87,416.28 400.47,416.30 401.07,416.31 401.67,416.33 402.27,416.35 402.87,416.37 403.47,416.39 404.07,416.41 404.67,416.43 405.27,416.45 405.87,416.47 406.48,416.49 407.09,416.51 407.69,416.53 408.30,416.55 408.91,416.57 409.53,416.59 410.14,416.62 410.76,416.64 411.38,416.66 412.01,416.68 412.63,416.70 413.26,416.72 413.89,416.74 414.53,416.77 415.17,416.79 415.81,416.81 416.45,416.83 417.10,416.85 417.76,416.87 418.41,416.89 419.08,416.92 419.74,416.94 420.41,416.96 421.09,416.98 421.77,417.00 422.45,417.02 423.14,417.04 423.84,417.06 424.54,417.08 425.25,417.11 425.96,417.13 426.68,417.15 427.40,417.17 428.13,417.19 428.87,417.21 429.61,417.23 430.36,417.25 431.12,417.26 431.88,417.28 432.65,417.30 433.43,417.32 434.21,417.34 435.00,417.36 435.80,417.38 436.61,417.39 437.43,417.41 438.25,417.43 439.08,417.44 439.92,417.46 440.77,417.48 441.63,417.49 442.49,417.51 443.37,417.52 444.25,417.54 445.15,417.55 446.05,417.56 446.96,417.58 447.88,417.59 448.82,417.60 449.76,417.61 450.71,417.63 451.67,417.64 452.64,417.65 453.63,417.66 454.62,417.67 455.63,417.68 456.64,417.68 457.67,417.69 458.71,417.70 459.76,417.71 460.82,417.71 461.89,417.72 462.97,417.73 464.07,417.73 465.18,417.74 466.29,417.74 467.42,417.74 468.56,417.75 469.71,417.75 470.87,417.75 472.04,417.75 473.22,417.75 474.41,417.75 475.61,417.75 476.83,417.75 478.05,417.75 479.28,417.75 480.52,417.75 481.77,417.74 483.03,417.74 484.30,417.74 485.57,417.73 486.86,417.73 488.16,417.73 489.46,417.72 490.77,417.72 492.09,417.71 493.43,417.70 494.76,417.70 496.11,417.69 497.47,417.68 498.83,417.67 500.20,417.67 501.58,417.66 502.96,417.65 504.36,417.64 505.76,417.63 507.17,417.62 508.58,417.61 510.01,417.60 511.43,417.59 512.87,417.58 514.31,417.57 515.76,417.55 517.22,417.54 518.68,417.53 520.15,417.52 521.63,417.50 523.11,417.49 524.60,417.48 526.09,417.46 527.59,417.45 529.09,417.43 530.60,417.42 532.11,417.40 533.63,417.39 535.16,417.37 536.69,417.36 538.22,417.34 539.76,417.33 541.31,417.31 542.86,417.29 544.41,417.28 545.97,417.26 547.53,417.24 549.10,417.22 550.67,417.21 552.24,417.19 553.82,417.17 555.40,417.15 556.98,417.13 558.57,417.12 560.16,417.10 561.75,417.08 563.35,417.06 564.95,417.04 566.55,417.02 568.16,417.00 569.77,416.98 571.38,416.96 572.99,416.94 574.61,416.92 576.22,416.90 577.84,416.88 579.46,416.86 581.09,416.84 582.71,416.82 584.34,416.80 585.96,416.78 587.59,416.76 589.22,416.74 590.85,416.72 592.48,416.70 594.11,416.68 595.75,416.66 597.38,416.64 599.02,416.62 600.65,416.60 602.28,416.58 603.92,416.56" fill="none" stroke="#0000ff" stroke-width="4.0" stroke-linejoin="round"/>
<polygon points="171.43,421.22 164.11,416.99 164.11,408.54 171.43,404.32 178.75,408.54 178.75,416.99" fill="#0000ff"/>
<polygon points="243.51,425.01 236.20,420.78 236.20,412.33 243.51,408.11 250.83,412.33 250.83,420.78" fill="#0000ff"/>
<polygon points="315.59,424.89 308.28,420.67 308.28,412.22 315.59,407.99 322.91,412.22 322.91,420.67" fill="#0000ff"/>
<polygon points="387.68,424.43 380.36,420.21 380.36,411.76 387.68,407.53 394.99,411.76 394.99,420.21" fill="#0000ff"/>
<polygon points="459.76,426.16 452.44,421.93 452.44,413.48 459.76,409.26 467.07,413.48 467.07,421.93" fill="#0000ff"/>
<polygon points="603.92,425.01 596.60,420.78 596.60,412.33 603.92,408.11 611.24,412.33 611.24,420.78" fill="#0000ff"/>
<polyline points="171.43,419.78 172.16,419.78 172.88,419.78 173.61,419.79 174.33,419.79 175.05,419.80 175.78,419.80 176.50,419.80 177.23,419.81 177.95,419.81 178.67,419.81 179.40,419.82 180.12,419.82 180.85,419.82 181.57,419.83 182.30,419.83 183.02,419.84 183.74,419.84 184.47,419.84 185.19,419.85 185.91,419.85 186.64,419.85 187.36,419.86 188.09,419.86 188.81,419.87 189.53,419.87 190.26,419.87 190.98,419.88 191.70,419.88 192.43,419.88 193.15,419.89 193.87,419.89 194.60,419.89 195.32,419.90 196.04,419.90 196.77,419.91 197.49,419.91 198.21,419.91 198.94,419.92 199.66,419.92 200.38,419.92 201.10,419.93 201.83,419.93 202.55,419.93 203.27,419.94 203.99,419.94 204.71,419.94 205.44,419.95 206.16,419.95 206.88,419.95 207.60,419.96 208.32,419.96 209.05,419.97 209.77,419.97 210.49,419.97 211.21,419.98 211.93,419.98 212.65,419.98 213.37,419.99 214.09,419.99 214.81,419.99 215.53,420.00 216.25,420.00 216.97,420.00 217.69,420.01 218.41,420.01 219.13,420.01 219.85,420.02 220.57,420.02 221.29,420.02 222.01,420.03 222.73,420.03 223.45,420.03 224.17,420.04 224.89,420.04 225.61,420.04 226.32,420.05 227.04,420.05 227.76,420.05 228.48,420.06 229.20,420.06 229.91,420.06 230.63,420.07 231.35,420.07 232.07,420.07 232.78,420.08 233.50,420.08 234.22,420.08 234.93,420.09 235.65,420.09 236.36,420.09 237.08,420.09 237.80,420.10 238.51,420.10 239.23,420.10 239.94,420.11 240.66,420.11 241.37,420.11 242.09,420.12 242.80,420.12 243.51,420.12 244.23,420.12 244.94,420.13 245.65,420.13 246.37,420.13 247.08,420.14 247.79,420.14 248.51,420.14 249.22,420.14 249.93,420.15 250.64,420.15 251.36,420.15 252.07,420.16 252.78,420.16 253.49,420.16 254.20,420.16 254.92,420.17 255.63,420.17 256.34,420.17 257.05,420.18 257.76,420.18 258.48,420.18 259.19,420.18 259.90,420.19 260.61,420.19 261.32,420.19 262.04,420.19 262.75,420.20 263.46,420.20 264.17,420.20 264.88,420.20 265.60,420.21 266.31,420.21 267.02,420.21 267.73,420.21 268.45,420.22 269.16,420.22 269.87,420.22 270.59,420.22 271.30,420.23 272.01,420.23 272.73,420.23 273.44,420.23 274.16,420.24 274.87,420.24 275.59,420.24 276.30,420.24 277.02,420.24 277.73,420.25 278.45,420.25 279.17,420.25 279.88,420.25 280.60,420.26 281.32,420.26 282.03,420.26 282.75,420.26 283.47,420.27 284.19,420.27 284.91,420.27 285.63,420.27 286.35,420.27 287.07,420.28 287.79,420.28 288.51,420.28 289.23,420.28 289.95,420.28 290.68,420.29 291.40,420.29 292.12,420.29 292.85,420.29 293.57,420.29 294.30,420.30 295.02,420.30 295.75,420.30 296.48,420.30 297.20,420.31 297.93,420.31 298.66,420.31 299.39,420.31 300.12,420.31 300.85,420.31 301.58,420.32 302.31,420.32 303.04,420.32 303.77,420.32 304.51,420.32 305.24,420.33 305.98,420.33 306.71,420.33 307.45,420.33 308.18,420.33 308.92,420.34 309.66,420.34 310.40,420.34 311.14,420.34 311.88,420.34 312.62,420.34 313.36,420.35 314.11,420.35 314.85,420.35 315.59,420.35 316.34,420.35 317.09,420.35 317.83,420.36 318.58,420.36 319.33,420.36 320.08,420.36 320.83,420.36 321.58,420.37 322.33,420.37 323.08,420.37 323.83,420.37 324.58,420.37 325.33,420.37 326.09,420.37 326.84,420.38 327.59,420.38 328.35,420.38 329.10,420.38 329.85,420.38 330.61,420.38 331.36,420.39 332.11,420.39 332.87,420.39 333.62,420.39 334.37,420.39 335.13,420.39 335.88,420.39 336.63,420.40 337.39,420.40 338.14,420.40 338.89,420.40 339.64,420.40 340.39,420.40 341.14,420.40 341.89,420.41 342.64,420.41 343.39,420.41 344.14,420.41 344.89,420.41 345.64,420.41 346.38,420.41 347.13,420.42 347.87,420.42 348.62,420.42 349.36,420.42 350.10,420.42 350.84,420.42 351.58,420.42 352.32,420.42 353.06,420.42 353.79,420.43 354.53,420.43 355.26,420.43 356.00,420.43 356.73,420.43 357.46,420.43 358.19,420.43 358.92,420.43 359.64,420.43 360.37,420.44 361.09,420.44 361.81,420.44 362.53,420.44 363.25,420.44 363.97,420.44 364.68,420.44 365.39,420.44 366.10,420.44 366.81,420.44 367.52,420.45 368.23,420.45 368.93,420.45 369.63,420.45 370.33,420.45 371.03,420.45 371.72,420.45 372.42,420.45 373.11,420.45 373.80,420.45 374.48,420.45 375.17,420.45 375.85,420.46 376.53,420.46 377.21,420.46 377.88,420.46 378.55,420.46 379.22,420.46 379.89,420.46 380.55,420.46 381.22,420.46 381.87,420.46 382.53,420.46 383.18,420.46 383.83,420.46 384.48,420.46 385.13,420.46 385.77,420.46 386.41,420.47 387.04,420.47 387.68,420.47 388.31,420.47 388.93,420.47 389.56,420.47 390.18,420.47 390.80,420.47 391.41,420.47 392.03,420.47 392.64,420.47 393.25,420.47 393.86,420.47 394.46,420.47 395.07,420.47 395.67,420.47 396.27,420.47 396.88,420.47 397.48,420.47 398.08,420.47 398.68,420.47 399.28,420.47 399.87,420.47 400.47,420.47 401.07,420.47 401.67,420.47 402.27,420.47 402.87,420.47 403.47,420.47 404.07,420.47 404.67,420.47 405.27,420.47 405.87,420.47 406.48,420.47 407.09,420.47 407.69,420.47 408.30,420.47 408.91,420.47 409.53,420.47 410.14,420.47 410.76,420.47 411.38,420.47 412.01,420.47 412.63,420.47 413.26,420.47 413.89,420.47 414.53,420.47 415.17,420.47 415.81,420.47 416.45,420.47 417.10,420.47 417.76,420.47 418.41,420.47 419.08,420.47 419.74,420.47 420.41,420.47 421.09,420.47 421.77,420.47 422.45,420.47 423.14,420.47 423.84,420.47 424.54,420.47 425.25,420.47 425.96,420.47 426.68,420.47 427.40,420.47 428.13,420.47 428.87,420.47 429.61,420.47 430.36,420.47 431.12,420.47 431.88,420.47 432.65,420.47 433.43,420.47 434.21,420.47 435.00,420.47 435.80,420.47 436.61,420.47 437.43,420.47 438.25,420.47 439.08,420.47 439.92,420.47 440.77,420.47 441.63,420.47 442.49,420.47 443.37,420.47 444.25,420.47 445.15,420.47 446.05,420.47 446.96,420.47 447.88,420.47 448.82,420.47 449.76,420.47 450.71,420.47 451.67,420.47 452.64,420.47 453.63,420.47 454.62,420.47 455.63,420.47 456.64,420.47 457.67,420.47 458.71,420.47 459.76,420.47 460.82,420.47 461.89,420.47 462.97,420.47 464.07,420.47 465.18,420.47 466.29,420.47 467.42,420.47 468.56,420.47 469.71,420.47 470.87,420.47 472.04,420.47 473.22,420.47 474.41,420.47 475.61,420.46 476.83,420.46 478.05,420.46 479.28,420.46 480.52,420.46 481.77,420.46 483.03,420.46 484.30,420.46 485.57,420.46 486.86,420.46 488.16,420.46 489.46,420.46 490.77,420.46 492.09,420.46 493.43,420.46 494.76,420.46 496.11,420.46 497.47,420.46 498.83,420.46 500.20,420.46 501.58,420.46 502.96,420.46 504.36,420.46 505.76,420.46 507.17,420.46 508.58,420.46 510.01,420.46 511.43,420.46 512.87,420.46 514.31,420.46 515.76,420.46 517.22,420.46 518.68,420.46 520.15,420.46 521.63,420.46 523.11,420.46 524.60,420.46 526.09,420.46 527.59,420.46 529.09,420.46 530.60,420.46 532.11,420.46 533.63,420.46 535.16,420.46 536.69,420.46 538.22,420.46 539.76,420.46 541.31,420.46 542.86,420.46 544.41,420.46 545.97,420.46 547.53,420.46 549.10,420.46 550.67,420.46 552.24,420.46 553.82,420.46 555.40,420.46 556.98,420.46 558.57,420.46 560.16,420.46 561.75,420.46 563.35,420.46 564.95,420.46 566.55,420.47 568.16,420.47 569.77,420.47 571.38,420.47 572.99,420.47 574.61,420.47 576.22,420.47 577.84,420.47 579.46,420.47 581.09,420.47 582.71,420.47 584.34,420.47 585.96,420.47 587.59,420.47 589.22,420.47 590.85,420.47 592.48,420.47 594.11,420.47 595.75,420.47 597.38,420.47 599.02,420.47 600.65,420.47 602.28,420.47 603.92,420.47" fill="none" stroke="#ff00ff" stroke-width="4.0" stroke-linejoin="round"/>
<polygon points="164.33,412.68 178.53,412.68 178.53,426.88 164.33,426.88" fill="#ff00ff"/>
<polygon points="236.41,413.02 250.61,413.02 250.61,427.22 236.41,427.22" fill="#ff00ff"/>
<polygon points="308.49,413.25 322.69,413.25 322.69,427.45 308.49,427.45" fill="#ff00ff"/>
<polygon points="380.58,413.37 394.78,413.37 394.78,427.57 380.58,427.57" fill="#ff00ff"/>
<polygon points="452.66,413.37 466.86,413.37 466.86,427.57 452.66,427.57" fill="#ff00ff"/>
<polygon points="596.82,413.37 611.02,413.37 611.02,427.57 596.82,427.57" fill="#ff00ff"/>
<polyline points="171.43,420.35 172.16,420.35 172.88,420.35 173.61,420.36 174.33,420.36 175.05,420.36 175.78,420.36 176.50,420.36 177.23,420.36 177.95,420.36 178.67,420.36 179.40,420.36 180.12,420.37 180.85,420.37 181.57,420.37 182.30,420.37 183.02,420.37 183.74,420.37 184.47,420.37 185.19,420.37 185.91,420.38 186.64,420.38 187.36,420.38 188.09,420.38 188.81,420.38 189.53,420.38 190.26,420.38 190.98,420.38 191.70,420.38 192.43,420.39 193.15,420.39 193.87,420.39 194.60,420.39 195.32,420.39 196.04,420.39 196.77,420.39 197.49,420.39 198.21,420.39 198.94,420.40 199.66,420.40 200.38,420.40 201.10,420.40 201.83,420.40 202.55,420.40 203.27,420.40 203.99,420.40 204.71,420.41 205.44,420.41 206.16,420.41 206.88,420.41 207.60,420.41 208.32,420.41 209.05,420.41 209.77,420.41 210.49,420.41 211.21,420.42 211.93,420.42 212.65,420.42 213.37,420.42 214.09,420.42 214.81,420.42 215.53,420.42 216.25,420.42 216.97,420.42 217.69,420.43 218.41,420.43 219.13,420.43 219.85,420.43 220.57,420.43 221.29,420.43 222.01,420.43 222.73,420.43 223.45,420.44 224.17,420.44 224.89,420.44 225.61,420.44 226.32,420.44 227.04,420.44 227.76,420.44 228.48,420.44 229.20,420.44 229.91,420.45 230.63,420.45 231.35,420.45 232.07,420.45 232.78,420.45 233.50,420.45 234.22,420.45 234.93,420.45 235.65,420.45 236.36,420.46 237.08,420.46 237.80,420.46 238.51,420.46 239.23,420.46 239.94,420.46 240.66,420.46 241.37,420.46 242.09,420.46 242.80,420.47 243.51,420.47 244.23,420.47 244.94,420.47 245.65,420.47 246.37,420.47 247.08,420.47 247.79,420.47 248.51,420.47 249.22,420.48 249.93,420.48 250.64,420.48 251.36,420.48 252.07,420.48 252.78,420.48 253.49,420.48 254.20,420.48 254.92,420.48 255.63,420.48 256.34,420.49 257.05,420.49 257.76,420.49 258.48,420.49 259.19,420.49 259.90,420.49 260.61,420.49 261.32,420.49 262.04,420.49 262.75,420.50 263.46,420.50 264.17,420.50 264.88,420.50 265.60,420.50 266.31,420.50 267.02,420.50 267.73,420.50 268.45,420.50 269.16,420.51 269.87,420.51 270.59,420.51 271.30,420.51 272.01,420.51 272.73,420.51 273.44,420.51 274.16,420.51 274.87,420.51 275.59,420.52 276.30,420.52 277.02,420.52 277.73,420.52 278.45,420.52 279.17,420.52 279.88,420.52 280.60,420.52 281.32,420.52 282.03,420.53 282.75,420.53 283.47,420.53 284.19,420.53 284.91,420.53 285.63,420.53 286.35,420.53 287.07,420.53 287.79,420.53 288.51,420.54 289.23,420.54 289.95,420.54 290.68,420.54 291.40,420.54 292.12,420.54 292.85,420.54 293.57,420.54 294.30,420.54 295.02,420.55 295.75,420.55 296.48,420.55 297.20,420.55 297.93,420.55 298.66,420.55 299.39,420.55 300.12,420.55 300.85,420.56 301.58,420.56 302.31,420.56 303.04,420.56 303.77,420.56 304.51,420.56 305.24,420.56 305.98,420.56 306.71,420.57 307.45,420.57 308.18,420.57 308.92,420.57 309.66,420.57 310.40,420.57 311.14,420.57 311.88,420.57 312.62,420.58 313.36,420.58 314.11,420.58 314.85,420.58 315.59,420.58 316.34,420.58 317.09,420.58 317.83,420.59 318.58,420.59 319.33,420.59 320.08,420.59 320.83,420.59 321.58,420.59 322.33,420.59 323.08,420.60 323.83,420.60 324.58,420.60 325.33,420.60 326.09,420.60 326.84,420.60 327.59,420.60 328.35,420.60 329.10,420.61 329.85,420.61 330.61,420.61 331.36,420.61 332.11,420.61 332.87,420.61 333.62,420.61 334.37,420.62 335.13,420.62 335.88,420.62 336.63,420.62 337.39,420.62 338.14,420.62 338.89,420.62 339.64,420.63 340.39,420.63 341.14,420.63 341.89,420.63 342.64,420.63 343.39,420.63 344.14,420.63 344.89,420.64 345.64,420.64 346.38,420.64 347.13,420.64 347.87,420.64 348.62,420.64 349.36,420.64 350.10,420.65 350.84,420.65 351.58,420.65 352.32,420.65 353.06,420.65 353.79,420.65 354.53,420.65 355.26,420.65 356.00,420.66 356.73,420.66 357.46,420.66 358.19,420.66 358.92,420.66 359.64,420.66 360.37,420.66 361.09,420.66 361.81,420.66 362.53,420.67 363.25,420.67 363.97,420.67 364.68,420.67 365.39,420.67 366.10,420.67 366.81,420.67 367.52,420.67 368.23,420.67 368.93,420.68 369.63,420.68 370.33,420.68 371.03,420.68 371.72,420.68 372.42,420.68 373.11,420.68 373.80,420.68 374.48,420.68 375.17,420.68 375.85,420.68 376.53,420.69 377.21,420.69 377.88,420.69 378.55,420.69 379.22,420.69 379.89,420.69 380.55,420.69 381.22,420.69 381.87,420.69 382.53,420.69 383.18,420.69 383.83,420.69 384.48,420.69 385.13,420.69 385.77,420.69 386.41,420.70 387.04,420.70 387.68,420.70 388.31,420.70 388.93,420.70 389.56,420.70 390.18,420.70 390.80,420.70 391.41,420.70 392.03,420.70 392.64,420.70 393.25,420.70 393.86,420.70 394.46,420.70 395.07,420.70 395.67,420.70 396.27,420.70 396.88,420.70 397.48,420.70 398.08,420.70 398.68,420.70 399.28,420.70 399.87,420.70 400.47,420.70 401.07,420.70 401.67,420.70 402.27,420.70 402.87,420.70 403.47,420.70 404.07,420.70 404.67,420.70 405.27,420.70 405.87,420.70 406.48,420.70 407.09,420.70 407.69,420.70 408.30,420.70 408.91,420.70 409.53,420.70 410.14,420.70 410.76,420.70 411.38,420.70 412.01,420.70 412.63,420.70 413.26,420.70 413.89,420.70 414.53,420.70 415.17,420.70 415.81,420.70 416.45,420.70 417.10,420.70 417.76,420.70 418.41,420.70 419.08,420.70 419.74,420.70 420.41,420.70 421.09,420.70 421.77,420.70 422.45,420.70 423.14,420.70 423.84,420.70 424.54,420.70 425.25,420.70 425.96,420.70 426.68,420.69 427.40,420.69 428.13,420.69 428.87,420.69 429.61,420.69 430.36,420.69 431.12,420.69 431.88,420.69 432.65,420.69 433.43,420.69 434.21,420.69 435.00,420.69 435.80,420.69 436.61,420.69 437.43,420.69 438.25,420.69 439.08,420.69 439.92,420.69 440.77,420.69 441.63,420.69 442.49,420.69 443.37,420.69 444.25,420.69 445.15,420.69 446.05,420.69 446.96,420.69 447.88,420.69 448.82,420.69 449.76,420.69 450.71,420.69 451.67,420.69 452.64,420.69 453.63,420.69 454.62,420.69 455.63,420.70 456.64,420.70 457.67,420.70 458.71,420.70 459.76,420.70 460.82,420.70 461.89,420.70 462.97,420.70 464.07,420.70 465.18,420.70 466.29,420.70 467.42,420.70 468.56,420.70 469.71,420.70 470.87,420.70 472.04,420.70 473.22,420.70 474.41,420.70 475.61,420.70 476.83,420.70 478.05,420.71 479.28,420.71 480.52,420.71 481.77,420.71 483.03,420.71 484.30,420.71 485.57,420.71 486.86,420.71 488.16,420.71 489.46,420.71 490.77,420.71 492.09,420.71 493.43,420.71 494.76,420.72 496.11,420.72 497.47,420.72 498.83,420.72 500.20,420.72 501.58,420.72 502.96,420.72 504.36,420.72 505.76,420.72 507.17,420.73 508.58,420.73 510.01,420.73 511.43,420.73 512.87,420.73 514.31,420.73 515.76,420.73 517.22,420.73 518.68,420.73 520.15,420.74 521.63,420.74 523.11,420.74 524.60,420.74 526.09,420.74 527.59,420.74 529.09,420.74 530.60,420.74 532.11,420.75 533.63,420.75 535.16,420.75 536.69,420.75 538.22,420.75 539.76,420.75 541.31,420.75 542.86,420.75 544.41,420.76 545.97,420.76 547.53,420.76 549.10,420.76 550.67,420.76 552.24,420.76 553.82,420.76 555.40,420.77 556.98,420.77 558.57,420.77 560.16,420.77 561.75,420.77 563.35,420.77 564.95,420.77 566.55,420.78 568.16,420.78 569.77,420.78 571.38,420.78 572.99,420.78 574.61,420.78 576.22,420.79 577.84,420.79 579.46,420.79 581.09,420.79 582.71,420.79 584.34,420.79 585.96,420.79 587.59,420.80 589.22,420.80 590.85,420.80 592.48,420.80 594.11,420.80 595.75,420.80 597.38,420.81 599.02,420.81 600.65,420.81 602.28,420.81 603.92,420.81" fill="none" stroke="#800000" stroke-width="4.0" stroke-linejoin="round"/>
<polygon points="171.43,412.05 173.55,417.44 179.33,417.79 174.86,421.46 176.31,427.07 171.43,423.95 166.55,427.07 168.01,421.46 163.54,417.79 169.32,417.44" fill="#800000"/>
<polygon points="243.51,412.17 245.63,417.55 251.41,417.90 246.94,421.58 248.39,427.18 243.51,424.07 238.63,427.18 240.09,421.58 235.62,417.90 241.40,417.55" fill="#800000"/>
<polygon points="315.59,412.28 317.71,417.67 323.49,418.02 319.02,421.69 320.47,427.30 315.59,424.18 310.72,427.30 312.17,421.69 307.70,418.02 313.48,417.67" fill="#800000"/>
<polygon points="387.68,412.40 389.79,417.78 395.57,418.13 391.10,421.81 392.55,427.41 387.68,424.30 382.80,427.41 384.25,421.81 379.78,418.13 385.56,417.78" fill="#800000"/>
<polygon points="459.76,412.40 461.87,417.78 467.65,418.13 463.18,421.81 464.64,427.41 459.76,424.30 454.88,427.41 456.33,421.81 451.86,418.13 457.64,417.78" fill="#800000"/>
<polygon points="603.92,412.51 606.03,417.90 611.81,418.25 607.34,421.92 608.80,427.53 603.92,424.41 599.04,427.53 600.50,421.92 596.03,418.25 601.80,417.90" fill="#800000"/>
<polyline points="171.43,420.24 172.16,420.24 172.88,420.24 173.61,420.24 174.33,420.24 175.05,420.24 175.78,420.24 176.50,420.24 177.23,420.25 177.95,420.25 178.67,420.25 179.40,420.25 180.12,420.25 180.85,420.25 181.57,420.25 182.30,420.25 183.02,420.26 183.74,420.26 184.47,420.26 185.19,420.26 185.91,420.26 186.64,420.26 187.36,420.26 188.09,420.26 188.81,420.26 189.53,420.27 190.26,420.27 190.98,420.27 191.70,420.27 192.43,420.27 193.15,420.27 193.87,420.27 194.60,420.27 195.32,420.28 196.04,420.28 196.77,420.28 197.49,420.28 198.21,420.28 198.94,420.28 199.66,420.28 200.38,420.28 201.10,420.28 201.83,420.29 202.55,420.29 203.27,420.29 203.99,420.29 204.71,420.29 205.44,420.29 206.16,420.29 206.88,420.29 207.60,420.30 208.32,420.30 209.05,420.30 209.77,420.30 210.49,420.30 211.21,420.30 211.93,420.30 212.65,420.30 213.37,420.30 214.09,420.31 214.81,420.31 215.53,420.31 216.25,420.31 216.97,420.31 217.69,420.31 218.41,420.31 219.13,420.31 219.85,420.31 220.57,420.32 221.29,420.32 222.01,420.32 222.73,420.32 223.45,420.32 224.17,420.32 224.89,420.32 225.61,420.32 226.32,420.32 227.04,420.33 227.76,420.33 228.48,420.33 229.20,420.33 229.91,420.33 230.63,420.33 231.35,420.33 232.07,420.33 232.78,420.34 233.50,420.34 234.22,420.34 234.93,420.34 235.65,420.34 236.36,420.34 237.08,420.34 237.80,420.34 238.51,420.34 239.23,420.34 239.94,420.35 240.66,420.35 241.37,420.35 242.09,420.35 242.80,420.35 243.51,420.35 244.23,420.35 244.94,420.35 245.65,420.35 246.37,420.36 247.08,420.36 247.79,420.36 248.51,420.36 249.22,420.36 249.93,420.36 250.64,420.36 251.36,420.36 252.07,420.36 252.78,420.37 253.49,420.37 254.20,420.37 254.92,420.37 255.63,420.37 256.34,420.37 257.05,420.37 257.76,420.37 258.48,420.37 259.19,420.38 259.90,420.38 260.61,420.38 261.32,420.38 262.04,420.38 262.75,420.38 263.46,420.38 264.17,420.38 264.88,420.38 265.60,420.38 266.31,420.39 267.02,420.39 267.73,420.39 268.45,420.39 269.16,420.39 269.87,420.39 270.59,420.39 271.30,420.39 272.01,420.39 272.73,420.40 273.44,420.40 274.16,420.40 274.87,420.40 275.59,420.40 276.30,420.40 277.02,420.40 277.73,420.40 278.45,420.40 279.17,420.41 279.88,420.41 280.60,420.41 281.32,420.41 282.03,420.41 282.75,420.41 283.47,420.41 284.19,420.41 284.91,420.41 285.63,420.42 286.35,420.42 287.07,420.42 287.79,420.42 288.51,420.42 289.23,420.42 289.95,420.42 290.68,420.42 291.40,420.42 292.12,420.43 292.85,420.43 293.57,420.43 294.30,420.43 295.02,420.43 295.75,420.43 296.48,420.43 297.20,420.43 297.93,420.44 298.66,420.44 299.39,420.44 300.12,420.44 300.85,420.44 301.58,420.44 302.31,420.44 303.04,420.44 303.77,420.45 304.51,420.45 305.24,420.45 305.98,420.45 306.71,420.45 307.45,420.45 308.18,420.45 308.92,420.45 309.66,420.46 310.40,420.46 311.14,420.46 311.88,420.46 312.62,420.46 313.36,420.46 314.11,420.46 314.85,420.47 315.59,420.47 316.34,420.47 317.09,420.47 317.83,420.47 318.58,420.47 319.33,420.47 320.08,420.47 320.83,420.48 321.58,420.48 322.33,420.48 323.08,420.48 323.83,420.48 324.58,420.48 325.33,420.48 326.09,420.49 326.84,420.49 327.59,420.49 328.35,420.49 329.10,420.49 329.85,420.49 330.61,420.50 331.36,420.50 332.11,420.50 332.87,420.50 333.62,420.50 334.37,420.50 335.13,420.50 335.88,420.51 336.63,420.51 337.39,420.51 338.14,420.51 338.89,420.51 339.64,420.51 340.39,420.51 341.14,420.52 341.89,420.52 342.64,420.52 343.39,420.52 344.14,420.52 344.89,420.52 345.64,420.52 346.38,420.53 347.13,420.53 347.87,420.53 348.62,420.53 349.36,420.53 350.10,420.53 350.84,420.53 351.58,420.53 352.32,420.54 353.06,420.54 353.79,420.54 354.53,420.54 355.26,420.54 356.00,420.54 356.73,420.54 357.46,420.55 358.19,420.55 358.92,420.55 359.64,420.55 360.37,420.55 361.09,420.55 361.81,420.55 362.53,420.55 363.25,420.55 363.97,420.56 364.68,420.56 365.39,420.56 366.10,420.56 366.81,420.56 367.52,420.56 368.23,420.56 368.93,420.56 369.63,420.56 370.33,420.56 371.03,420.57 371.72,420.57 372.42,420.57 373.11,420.57 373.80,420.57 374.48,420.57 375.17,420.57 375.85,420.57 376.53,420.57 377.21,420.57 377.88,420.57 378.55,420.57 379.22,420.58 379.89,420.58 380.55,420.58 381.22,420.58 381.87,420.58 382.53,420.58 383.18,420.58 383.83,420.58 384.48,420.58 385.13,420.58 385.77,420.58 386.41,420.58 387.04,420.58 387.68,420.58 388.31,420.58 388.93,420.58 389.56,420.58 390.18,420.58 390.80,420.58 391.41,420.58 392.03,420.58 392.64,420.58 393.25,420.58 393.86,420.58 394.46,420.58 395.07,420.58 395.67,420.58 396.27,420.58 396.88,420.58 397.48,420.58 398.08,420.58 398.68,420.58 399.28,420.58 399.87,420.58 400.47,420.58 401.07,420.58 401.67,420.58 402.27,420.58 402.87,420.58 403.47,420.58 404.07,420.58 404.67,420.58 405.27,420.58 405.87,420.58 406.48,420.58 407.09,420.58 407.69,420.58 408.30,420.58 408.91,420.58 409.53,420.58 410.14,420.58 410.76,420.58 411.38,420.58 412.01,420.58 412.63,420.58 413.26,420.58 413.89,420.58 414.53,420.58 415.17,420.58 415.81,420.57 416.45,420.57 417.10,420.57 417.76,420.57 418.41,420.57 419.08,420.57 419.74,420.57 420.41,420.57 421.09,420.57 421.77,420.57 422.45,420.57 423.14,420.57 423.84,420.57 424.54,420.57 425.25,420.57 425.96,420.57 426.68,420.57 427.40,420.57 428.13,420.57 428.87,420.57 429.61,420.57 430.36,420.57 431.12,420.57 431.88,420.57 432.65,420.57 433.43,420.57 434.21,420.57 435.00,420.57 435.80,420.57 436.61,420.57 437.43,420.57 438.25,420.57 439.08,420.57 439.92,420.57 440.77,420.57 441.63,420.57 442.49,420.57 443.37,420.57 444.25,420.57 445.15,420.57 446.05,420.57 446.96,420.57 447.88,420.57 448.82,420.57 449.76,420.57 450.71,420.57 451.67,420.58 452.64,420.58 453.63,420.58 454.62,420.58 455.63,420.58 456.64,420.58 457.67,420.58 458.71,420.58 459.76,420.58 460.82,420.58 461.89,420.58 462.97,420.58 464.07,420.59 465.18,420.59 466.29,420.59 467.42,420.59 468.56,420.59 469.71,420.59 470.87,420.59 472.04,420.59 473.22,420.60 474.41,420.60 475.61,420.60 476.83,420.60 478.05,420.60 479.28,420.60 480.52,420.60 481.77,420.61 483.03,420.61 484.30,420.61 485.57,420.61 486.86,420.61 488.16,420.61 489.46,420.62 490.77,420.62 492.09,420.62 493.43,420.62 494.76,420.62 496.11,420.63 497.47,420.63 498.83,420.63 500.20,420.63 501.58,420.63 502.96,420.64 504.36,420.64 505.76,420.64 507.17,420.64 508.58,420.64 510.01,420.65 511.43,420.65 512.87,420.65 514.31,420.65 515.76,420.66 517.22,420.66 518.68,420.66 520.15,420.66 521.63,420.67 523.11,420.67 524.60,420.67 526.09,420.67 527.59,420.68 529.09,420.68 530.60,420.68 532.11,420.68 533.63,420.69 535.16,420.69 536.69,420.69 538.22,420.69 539.76,420.70 541.31,420.70 542.86,420.70 544.41,420.70 545.97,420.71 547.53,420.71 549.10,420.71 550.67,420.71 552.24,420.72 553.82,420.72 555.40,420.72 556.98,420.73 558.57,420.73 560.16,420.73 561.75,420.73 563.35,420.74 564.95,420.74 566.55,420.74 568.16,420.75 569.77,420.75 571.38,420.75 572.99,420.75 574.61,420.76 576.22,420.76 577.84,420.76 579.46,420.77 581.09,420.77 582.71,420.77 584.34,420.78 585.96,420.78 587.59,420.78 589.22,420.78 590.85,420.79 592.48,420.79 594.11,420.79 595.75,420.80 597.38,420.80 599.02,420.80 600.65,420.81 602.28,420.81 603.92,420.81" fill="none" stroke="#008000" stroke-width="4.0" stroke-linejoin="round"/>
<polygon points="167.93,412.84 174.93,412.84 174.93,416.74 178.83,416.74 178.83,423.74 174.93,423.74 174.93,427.64 167.93,427.64 167.93,423.74 164.03,423.74 164.03,416.74 167.93,416.74" fill="#008000"/>
<polygon points="240.01,412.95 247.01,412.95 247.01,416.85 250.91,416.85 250.91,423.85 247.01,423.85 247.01,427.75 240.01,427.75 240.01,423.85 236.11,423.85 236.11,416.85 240.01,416.85" fill="#008000"/>
<polygon points="312.09,413.07 319.09,413.07 319.09,416.97 322.99,416.97 322.99,423.97 319.09,423.97 319.09,427.87 312.09,427.87 312.09,423.97 308.19,423.97 308.19,416.97 312.09,416.97" fill="#008000"/>
<polygon points="384.18,413.18 391.18,413.18 391.18,417.08 395.08,417.08 395.08,424.08 391.18,424.08 391.18,427.98 384.18,427.98 384.18,424.08 380.28,424.08 380.28,417.08 384.18,417.08" fill="#008000"/>
<polygon points="456.26,413.18 463.26,413.18 463.26,417.08 467.16,417.08 467.16,424.08 463.26,424.08 463.26,427.98 456.26,427.98 456.26,424.08 452.36,424.08 452.36,417.08 456.26,417.08" fill="#008000"/>
<polygon points="600.42,413.41 607.42,413.41 607.42,417.31 611.32,417.31 611.32,424.31 607.42,424.31 607.42,428.21 600.42,428.21 600.42,424.31 596.52,424.31 596.52,417.31 600.42,417.31" fill="#008000"/>
<polyline points="171.43,420.01 172.16,420.01 172.88,420.01 173.61,420.01 174.33,420.01 175.05,420.01 175.78,420.01 176.50,420.01 177.23,420.01 177.95,420.01 178.67,420.01 179.40,420.02 180.12,420.02 180.85,420.02 181.57,420.02 182.30,420.02 183.02,420.02 183.74,420.02 184.47,420.02 185.19,420.02 185.91,420.02 186.64,420.02 187.36,420.02 188.09,420.03 188.81,420.03 189.53,420.03 190.26,420.03 190.98,420.03 191.70,420.03 192.43,420.03 193.15,420.03 193.87,420.03 194.60,420.03 195.32,420.03 196.04,420.03 196.77,420.04 197.49,420.04 198.21,420.04 198.94,420.04 199.66,420.04 200.38,420.04 201.10,420.04 201.83,420.04 202.55,420.04 203.27,420.04 203.99,420.05 204.71,420.05 205.44,420.05 206.16,420.05 206.88,420.05 207.60,420.05 208.32,420.05 209.05,420.05 209.77,420.05 210.49,420.06 211.21,420.06 211.93,420.06 212.65,420.06 213.37,420.06 214.09,420.06 214.81,420.06 215.53,420.06 216.25,420.06 216.97,420.07 217.69,420.07 218.41,420.07 219.13,420.07 219.85,420.07 220.57,420.07 221.29,420.07 222.01,420.07 222.73,420.08 223.45,420.08 224.17,420.08 224.89,420.08 225.61,420.08 226.32,420.08 227.04,420.08 227.76,420.09 228.48,420.09 229.20,420.09 229.91,420.09 230.63,420.09 231.35,420.09 232.07,420.09 232.78,420.10 233.50,420.10 234.22,420.10 234.93,420.10 235.65,420.10 236.36,420.10 237.08,420.11 237.80,420.11 238.51,420.11 239.23,420.11 239.94,420.11 240.66,420.11 241.37,420.12 242.09,420.12 242.80,420.12 243.51,420.12 244.23,420.12 244.94,420.13 245.65,420.13 246.37,420.13 247.08,420.13 247.79,420.13 248.51,420.14 249.22,420.14 249.93,420.14 250.64,420.14 251.36,420.14 252.07,420.15 252.78,420.15 253.49,420.15 254.20,420.15 254.92,420.15 255.63,420.16 256.34,420.16 257.05,420.16 257.76,420.16 258.48,420.16 259.19,420.17 259.90,420.17 260.61,420.17 261.32,420.17 262.04,420.18 262.75,420.18 263.46,420.18 264.17,420.18 264.88,420.19 265.60,420.19 266.31,420.19 267.02,420.19 267.73,420.19 268.45,420.20 269.16,420.20 269.87,420.20 270.59,420.20 271.30,420.21 272.01,420.21 272.73,420.21 273.44,420.21 274.16,420.22 274.87,420.22 275.59,420.22 276.30,420.22 277.02,420.23 277.73,420.23 278.45,420.23 279.17,420.23 279.88,420.24 280.60,420.24 281.32,420.24 282.03,420.24 282.75,420.25 283.47,420.25 284.19,420.25 284.91,420.25 285.63,420.26 286.35,420.26 287.07,420.26 287.79,420.26 288.51,420.27 289.23,420.27 289.95,420.27 290.68,420.27 291.40,420.28 292.12,420.28 292.85,420.28 293.57,420.28 294.30,420.29 295.02,420.29 295.75,420.29 296.48,420.29 297.20,420.29 297.93,420.30 298.66,420.30 299.39,420.30 300.12,420.30 300.85,420.31 301.58,420.31 302.31,420.31 303.04,420.31 303.77,420.32 304.51,420.32 305.24,420.32 305.98,420.32 306.71,420.33 307.45,420.33 308.18,420.33 308.92,420.33 309.66,420.33 310.40,420.34 311.14,420.34 311.88,420.34 312.62,420.34 313.36,420.35 314.11,420.35 314.85,420.35 315.59,420.35 316.34,420.35 317.09,420.36 317.83,420.36 318.58,420.36 319.33,420.36 320.08,420.36 320.83,420.37 321.58,420.37 322.33,420.37 323.08,420.37 323.83,420.37 324.58,420.38 325.33,420.38 326.09,420.38 326.84,420.38 327.59,420.38 328.35,420.38 329.10,420.39 329.85,420.39 330.61,420.39 331.36,420.39 332.11,420.39 332.87,420.40 333.62,420.40 334.37,420.40 335.13,420.40 335.88,420.40 336.63,420.40 337.39,420.40 338.14,420.41 338.89,420.41 339.64,420.41 340.39,420.41 341.14,420.41 341.89,420.41 342.64,420.42 343.39,420.42 344.14,420.42 344.89,420.42 345.64,420.42 346.38,420.42 347.13,420.42 347.87,420.43 348.62,420.43 349.36,420.43 350.10,420.43 350.84,420.43 351.58,420.43 352.32,420.43 353.06,420.43 353.79,420.44 354.53,420.44 355.26,420.44 356.00,420.44 356.73,420.44 357.46,420.44 358.19,420.44 358.92,420.44 359.64,420.44 360.37,420.44 361.09,420.45 361.81,420.45 362.53,420.45 363.25,420.45 363.97,420.45 364.68,420.45 365.39,420.45 366.10,420.45 366.81,420.45 367.52,420.45 368.23,420.45 368.93,420.45 369.63,420.46 370.33,420.46 371.03,420.46 371.72,420.46 372.42,420.46 373.11,420.46 373.80,420.46 374.48,420.46 375.17,420.46 375.85,420.46 376.53,420.46 377.21,420.46 377.88,420.46 378.55,420.46 379.22,420.46 379.89,420.46 380.55,420.46 381.22,420.46 381.87,420.46 382.53,420.46 383.18,420.47 383.83,420.47 384.48,420.47 385.13,420.47 385.77,420.47 386.41,420.47 387.04,420.47 387.68,420.47 388.31,420.47 388.93,420.47 389.56,420.47 390.18,420.47 390.80,420.47 391.41,420.47 392.03,420.47 392.64,420.47 393.25,420.47 393.86,420.47 394.46,420.47 395.07,420.47 395.67,420.47 396.27,420.47 396.88,420.47 397.48,420.47 398.08,420.47 398.68,420.47 399.28,420.46 399.87,420.46 400.47,420.46 401.07,420.46 401.67,420.46 402.27,420.46 402.87,420.46 403.47,420.46 404.07,420.46 404.67,420.46 405.27,420.46 405.87,420.46 406.48,420.46 407.09,420.46 407.69,420.46 408.30,420.46 408.91,420.46 409.53,420.46 410.14,420.46 410.76,420.46 411.38,420.46 412.01,420.46 412.63,420.46 413.26,420.46 413.89,420.46 414.53,420.46 415.17,420.46 415.81,420.46 416.45,420.46 417.10,420.46 417.76,420.46 418.41,420.46 419.08,420.46 419.74,420.46 420.41,420.45 421.09,420.45 421.77,420.45 422.45,420.45 423.14,420.45 423.84,420.45 424.54,420.45 425.25,420.45 425.96,420.45 426.68,420.45 427.40,420.45 428.13,420.45 428.87,420.45 429.61,420.45 430.36,420.45 431.12,420.45 431.88,420.45 432.65,420.45 433.43,420.45 434.21,420.45 435.00,420.45 435.80,420.45 436.61,420.45 437.43,420.45 438.25,420.45 439.08,420.45 439.92,420.45 440.77,420.45 441.63,420.45 442.49,420.46 443.37,420.46 444.25,420.46 445.15,420.46 446.05,420.46 446.96,420.46 447.88,420.46 448.82,420.46 449.76,420.46 450.71,420.46 451.67,420.46 452.64,420.46 453.63,420.46 454.62,420.46 455.63,420.46 456.64,420.46 457.67,420.46 458.71,420.47 459.76,420.47 460.82,420.47 461.89,420.47 462.97,420.47 464.07,420.47 465.18,420.47 466.29,420.47 467.42,420.47 468.56,420.48 469.71,420.48 470.87,420.48 472.04,420.48 473.22,420.48 474.41,420.48 475.61,420.48 476.83,420.49 478.05,420.49 479.28,420.49 480.52,420.49 481.77,420.49 483.03,420.49 484.30,420.49 485.57,420.50 486.86,420.50 488.16,420.50 489.46,420.50 490.77,420.50 492.09,420.51 493.43,420.51 494.76,420.51 496.11,420.51 497.47,420.51 498.83,420.52 500.20,420.52 501.58,420.52 502.96,420.52 504.36,420.52 505.76,420.53 507.17,420.53 508.58,420.53 510.01,420.53 511.43,420.53 512.87,420.54 514.31,420.54 515.76,420.54 517.22,420.54 518.68,420.55 520.15,420.55 521.63,420.55 523.11,420.55 524.60,420.56 526.09,420.56 527.59,420.56 529.09,420.56 530.60,420.57 532.11,420.57 533.63,420.57 535.16,420.57 536.69,420.58 538.22,420.58 539.76,420.58 541.31,420.58 542.86,420.59 544.41,420.59 545.97,420.59 547.53,420.60 549.10,420.60 550.67,420.60 552.24,420.60 553.82,420.61 555.40,420.61 556.98,420.61 558.57,420.61 560.16,420.62 561.75,420.62 563.35,420.62 564.95,420.63 566.55,420.63 568.16,420.63 569.77,420.63 571.38,420.64 572.99,420.64 574.61,420.64 576.22,420.65 577.84,420.65 579.46,420.65 581.09,420.65 582.71,420.66 584.34,420.66 585.96,420.66 587.59,420.67 589.22,420.67 590.85,420.67 592.48,420.68 594.11,420.68 595.75,420.68 597.38,420.68 599.02,420.69 600.65,420.69 602.28,420.69 603.92,420.70" fill="none" stroke="#808000" stroke-width="4.0" stroke-linejoin="round"/>
<polygon points="171.43,410.71 180.73,420.01 171.43,429.31 162.13,420.01" fill="#808000"/>
<polygon points="243.51,410.82 252.81,420.12 243.51,429.42 234.21,420.12" fill="#808000"/>
<polygon points="315.59,411.05 324.89,420.35 315.59,429.65 306.29,420.35" fill="#808000"/>
<polygon points="387.68,411.17 396.98,420.47 387.68,429.77 378.38,420.47" fill="#808000"/>
<polygon points="459.76,411.17 469.06,420.47 459.76,429.77 450.46,420.47" fill="#808000"/>
<polygon points="603.92,411.40 613.22,420.70 603.92,430.00 594.62,420.70" fill="#808000"/>
<line x1="142.60" y1="897.31" x2="151.10" y2="897.31" stroke="#000" stroke-width="2.4"/>
<text class="t" x="116.32" y="905.81" font-size="25.5">0</text>
<line x1="142.60" y1="877.12" x2="148.90" y2="877.12" stroke="#000" stroke-width="2.4"/>
<line x1="142.60" y1="856.94" x2="148.90" y2="856.94" stroke="#000" stroke-width="2.4"/>
<line x1="142.60" y1="836.75" x2="148.90" y2="836.75" stroke="#000" stroke-width="2.4"/>
<line x1="142.60" y1="816.57" x2="148.90" y2="816.57" stroke="#000" stroke-width="2.4"/>
<line x1="142.60" y1="796.38" x2="151.10" y2="796.38" stroke="#000" stroke-width="2.4"/>
<text class="t" x="73.77" y="804.88" font-size="25.5"> 000</text><path transform="translate(73.77,804.88) scale(0.01245,-0.01245)" d="M789,0L490,0L490,1040L138,830L138,1090L510,1430L789,1430Z"/>
<line x1="142.60" y1="776.20" x2="148.90" y2="776.20" stroke="#000" stroke-width="2.4"/>
<line x1="142.60" y1="756.01" x2="148.90" y2="756.01" stroke="#000" stroke-width="2.4"/>
<line x1="142.60" y1="735.82" x2="148.90" y2="735.82" stroke="#000" stroke-width="2.4"/>
<line x1="142.60" y1="715.64" x2="148.90" y2="715.64" stroke="#000" stroke-width="2.4"/>
<line x1="142.60" y1="695.45" x2="151.10" y2="695.45" stroke="#000" stroke-width="2.4"/>
<text class="t" x="73.77" y="703.95" font-size="25.5">2000</text>
<line x1="142.60" y1="675.27" x2="148.90" y2="675.27" stroke="#000" stroke-width="2.4"/>
<line x1="142.60" y1="655.08" x2="148.90" y2="655.08" stroke="#000" stroke-width="2.4"/>
<line x1="142.60" y1="634.90" x2="148.90" y2="634.90" stroke="#000" stroke-width="2.4"/>
<line x1="142.60" y1="614.71" x2="148.90" y2="614.71" stroke="#000" stroke-width="2.4"/>
<line x1="142.60" y1="594.53" x2="151.10" y2="594.53" stroke="#000" stroke-width="2.4"/>
<text class="t" x="73.77" y="603.03" font-size="25.5">3000</text>
<line x1="142.60" y1="574.34" x2="148.90" y2="574.34" stroke="#000" stroke-width="2.4"/>
<line x1="142.60" y1="554.16" x2="148.90" y2="554.16" stroke="#000" stroke-width="2.4"/>
<line x1="142.60" y1="533.97" x2="148.90" y2="533.97" stroke="#000" stroke-width="2.4"/>
<line x1="142.60" y1="513.79" x2="148.90" y2="513.79" stroke="#000" stroke-width="2.4"/>
<text class="t" x="73.77" y="502.10" font-size="25.5">4000</text>
<line x1="171.43" y1="907.40" x2="171.43" y2="899.90" stroke="#000" stroke-width="2.4"/>
<text class="t" x="163.45" y="949.10" font-size="29.8">0</text>
<line x1="200.26" y1="907.40" x2="200.26" y2="901.60" stroke="#000" stroke-width="2.4"/>
<line x1="229.10" y1="907.40" x2="229.10" y2="901.60" stroke="#000" stroke-width="2.4"/>
<line x1="257.93" y1="907.40" x2="257.93" y2="901.60" stroke="#000" stroke-width="2.4"/>
<line x1="286.76" y1="907.40" x2="286.76" y2="901.60" stroke="#000" stroke-width="2.4"/>
<line x1="315.59" y1="907.40" x2="315.59" y2="899.90" stroke="#000" stroke-width="2.4"/>
<text class="t" x="291.03" y="949.10" font-size="29.8"> 00</text><path transform="translate(291.03,949.10) scale(0.01455,-0.01455)" d="M789,0L490,0L490,1040L138,830L138,1090L510,1430L789,1430Z"/>
<line x1="344.43" y1="907.40" x2="344.43" y2="901.60" stroke="#000" stroke-width="2.4"/>
<line x1="373.26" y1="907.40" x2="373.26" y2="901.60" stroke="#000" stroke-width="2.4"/>
<line x1="402.09" y1="907.40" x2="402.09" y2="901.60" stroke="#000" stroke-width="2.4"/>
<line x1="430.92" y1="907.40" x2="430.92" y2="901.60" stroke="#000" stroke-width="2.4"/>
<line x1="459.76" y1="907.40" x2="459.76" y2="899.90" stroke="#000" stroke-width="2.4"/>
<text class="t" x="435.20" y="949.10" font-size="29.8">200</text>
<line x1="488.59" y1="907.40" x2="488.59" y2="901.60" stroke="#000" stroke-width="2.4"/>
<line x1="517.42" y1="907.40" x2="517.42" y2="901.60" stroke="#000" stroke-width="2.4"/>
<line x1="546.25" y1="907.40" x2="546.25" y2="901.60" stroke="#000" stroke-width="2.4"/>
<line x1="575.09" y1="907.40" x2="575.09" y2="901.60" stroke="#000" stroke-width="2.4"/>
<line x1="603.92" y1="907.40" x2="603.92" y2="899.90" stroke="#000" stroke-width="2.4"/>
<text class="t" x="579.36" y="949.10" font-size="29.8">300</text>
<line x1="632.75" y1="907.40" x2="632.75" y2="901.60" stroke="#000" stroke-width="2.4"/>
<line x1="661.58" y1="907.40" x2="661.58" y2="901.60" stroke="#000" stroke-width="2.4"/>
<rect x="142.60" y="493.60" width="533.40" height="413.80" fill="none" stroke="#000" stroke-width="3.8"/>
<text class="t" transform="translate(378.5,558.9) scale(1,1.04)" font-size="42" text-anchor="middle">(B)</text>
<polyline points="171.43,884.99 172.15,885.11 172.87,885.22 173.59,885.33 174.32,885.44 175.04,885.55 175.76,885.66 176.48,885.77 177.20,885.88 177.92,885.99 178.64,886.10 179.36,886.21 180.08,886.31 180.80,886.42 181.52,886.53 182.24,886.63 182.97,886.73 183.69,886.83 184.41,886.93 185.13,887.03 185.85,887.13 186.57,887.22 187.29,887.31 188.01,887.41 188.73,887.50 189.45,887.58 190.17,887.67 190.89,887.75 191.62,887.83 192.34,887.91 193.06,887.99 193.78,888.06 194.50,888.13 195.22,888.20 195.94,888.27 196.66,888.33 197.38,888.40 198.10,888.45 198.82,888.51 199.54,888.56 200.26,888.61 200.99,888.65 201.71,888.70 202.43,888.73 203.15,888.77 203.87,888.80 204.59,888.83 205.31,888.85 206.03,888.87 206.75,888.89 207.47,888.91 208.19,888.92 208.91,888.93 209.64,888.93 210.36,888.94 211.08,888.94 211.80,888.94 212.52,888.93 213.24,888.93 213.96,888.92 214.68,888.92 215.40,888.91 216.12,888.90 216.84,888.89 217.56,888.88 218.29,888.87 219.01,888.86 219.73,888.85 220.45,888.84 221.17,888.84 221.89,888.83 222.61,888.82 223.33,888.81 224.05,888.81 224.77,888.81 225.49,888.81 226.21,888.81 226.93,888.81 227.66,888.81 228.38,888.82 229.10,888.83 229.82,888.84 230.54,888.86 231.26,888.87 231.98,888.89 232.70,888.90 233.42,888.92 234.14,888.93 234.86,888.93 235.58,888.94 236.31,888.93 237.03,888.93 237.75,888.91 238.47,888.89 239.19,888.85 239.91,888.81 240.63,888.76 241.35,888.70 242.07,888.62 242.79,888.53 243.51,888.43 244.23,888.31 244.96,888.17 245.68,888.03 246.40,887.87 247.12,887.70 247.84,887.52 248.56,887.34 249.28,887.14 250.00,886.94 250.72,886.74 251.44,886.53 252.16,886.31 252.88,886.10 253.60,885.88 254.33,885.67 255.05,885.46 255.77,885.24 256.49,885.04 257.21,884.83 257.93,884.63 258.65,884.44 259.37,884.25 260.09,884.06 260.81,883.88 261.53,883.69 262.25,883.50 262.98,883.31 263.70,883.11 264.42,882.91 265.14,882.70 265.86,882.47 266.58,882.24 267.30,882.00 268.02,881.74 268.74,881.47 269.46,881.19 270.18,880.88 270.90,880.57 271.63,880.23 272.35,879.88 273.07,879.52 273.79,879.14 274.51,878.75 275.23,878.35 275.95,877.93 276.67,877.50 277.39,877.06 278.11,876.61 278.83,876.15 279.55,875.68 280.27,875.20 281.00,874.70 281.72,874.20 282.44,873.69 283.16,873.16 283.88,872.62 284.60,872.06 285.32,871.48 286.04,870.88 286.76,870.26 287.48,869.61 288.20,868.94 288.92,868.23 289.65,867.50 290.37,866.74 291.09,865.94 291.81,865.10 292.53,864.23 293.25,863.32 293.97,862.37 294.69,861.40 295.41,860.40 296.13,859.39 296.85,858.37 297.57,857.34 298.30,856.30 299.02,855.27 299.74,854.25 300.46,853.25 301.18,852.26 301.90,851.30 302.62,850.36 303.34,849.45 304.06,848.56 304.78,847.68 305.50,846.83 306.22,845.98 306.94,845.13 307.67,844.30 308.39,843.46 309.11,842.62 309.83,841.77 310.55,840.91 311.27,840.04 311.99,839.16 312.71,838.27 313.43,837.37 314.15,836.46 314.87,835.55 315.59,834.63 316.32,833.71 317.04,832.77 317.76,831.84 318.48,830.89 319.20,829.94 319.92,828.97 320.64,828.00 321.36,827.02 322.08,826.03 322.80,825.03 323.52,824.02 324.24,822.99 324.97,821.95 325.69,820.90 326.41,819.84 327.13,818.76 327.85,817.67 328.57,816.57 329.29,815.44 330.01,814.31 330.73,813.15 331.45,811.98 332.17,810.79 332.89,809.58 333.61,808.35 334.34,807.11 335.06,805.84 335.78,804.55 336.50,803.25 337.22,801.92 337.94,800.57 338.66,799.19 339.38,797.80 340.10,796.38 340.82,794.93 341.54,793.46 342.26,791.97 342.99,790.45 343.71,788.92 344.43,787.38 345.15,785.83 345.87,784.27 346.59,782.71 347.31,781.15 348.03,779.61 348.75,778.07 349.47,776.55 350.19,775.04 350.91,773.56 351.64,772.11 352.36,770.68 353.08,769.29 353.80,767.93 354.52,766.60 355.24,765.30 355.96,764.03 356.68,762.78 357.40,761.56 358.12,760.37 358.84,759.20 359.56,758.05 360.28,756.93 361.01,755.82 361.73,754.74 362.45,753.67 363.17,752.62 363.89,751.59 364.61,750.57 365.33,749.57 366.05,748.58 366.77,747.61 367.49,746.64 368.21,745.69 368.93,744.74 369.66,743.80 370.38,742.87 371.10,741.95 371.82,741.03 372.54,740.13 373.26,739.24 373.98,738.38 374.70,737.53 375.42,736.72 376.14,735.94 376.86,735.19 377.58,734.48 378.31,733.81 379.03,733.19 379.75,732.62 380.47,732.11 381.19,731.65 381.91,731.26 382.63,730.93 383.35,730.67 384.07,730.48 384.79,730.37 385.51,730.34 386.23,730.40 386.95,730.54 387.68,730.78 388.40,731.11 389.12,731.53 389.84,732.04 390.56,732.64 391.28,733.32 392.00,734.08 392.72,734.91 393.44,735.81 394.16,736.78 394.88,737.82 395.60,738.91 396.33,740.06 397.05,741.27 397.77,742.52 398.49,743.83 399.21,745.17 399.93,746.56 400.65,747.98 401.37,749.43 402.09,750.91 402.81,752.42 403.53,753.96 404.25,755.53 404.98,757.12 405.70,758.73 406.42,760.37 407.14,762.02 407.86,763.70 408.58,765.40 409.30,767.11 410.02,768.85 410.74,770.59 411.46,772.36 412.18,774.13 412.90,775.92 413.62,777.72 414.35,779.53 415.07,781.34 415.79,783.17 416.51,785.00 417.23,786.84 417.95,788.68 418.67,790.52 419.39,792.36 420.11,794.21 420.83,796.05 421.55,797.89 422.27,799.73 423.00,801.57 423.72,803.40 424.44,805.22 425.16,807.03 425.88,808.84 426.60,810.64 427.32,812.42 428.04,814.19 428.76,815.95 429.48,817.70 430.20,819.42 430.92,821.13 431.65,822.83 432.37,824.50 433.09,826.15 433.81,827.78 434.53,829.39 435.25,830.97 435.97,832.53 436.69,834.06 437.41,835.57 438.13,837.04 438.85,838.49 439.57,839.91 440.29,841.29 441.02,842.65 441.74,843.97 442.46,845.26 443.18,846.52 443.90,847.75 444.62,848.95 445.34,850.11 446.06,851.24 446.78,852.34 447.50,853.41 448.22,854.44 448.94,855.43 449.67,856.39 450.39,857.32 451.11,858.21 451.83,859.07 452.55,859.89 453.27,860.68 453.99,861.43 454.71,862.15 455.43,862.83 456.15,863.48 456.87,864.10 457.59,864.68 458.32,865.23 459.04,865.74 459.76,866.22 460.48,866.67 461.20,867.08 461.92,867.47 462.64,867.83 463.36,868.16 464.08,868.47 464.80,868.76 465.52,869.02 466.24,869.27 466.96,869.51 467.69,869.73 468.41,869.93 469.13,870.13 469.85,870.32 470.57,870.50 471.29,870.68 472.01,870.85 472.73,871.03 473.45,871.21 474.17,871.39 474.89,871.57 475.61,871.76 476.34,871.96 477.06,872.16 477.78,872.37 478.50,872.57 479.22,872.77 479.94,872.97 480.66,873.17 481.38,873.36 482.10,873.54 482.82,873.71 483.54,873.87 484.26,874.01 484.99,874.15 485.71,874.26 486.43,874.36 487.15,874.44 487.87,874.51 488.59,874.56 489.31,874.60 490.03,874.62 490.75,874.63 491.47,874.62 492.19,874.60 492.91,874.57 493.63,874.53 494.36,874.47 495.08,874.40 495.80,874.33 496.52,874.24 497.24,874.14 497.96,874.04 498.68,873.92 499.40,873.80 500.12,873.67 500.84,873.53 501.56,873.39 502.28,873.24 503.01,873.08 503.73,872.92 504.45,872.75 505.17,872.58 505.89,872.41 506.61,872.23 507.33,872.05 508.05,871.86 508.77,871.68 509.49,871.48 510.21,871.29 510.93,871.09 511.66,870.89 512.38,870.69 513.10,870.48 513.82,870.27 514.54,870.06 515.26,869.84 515.98,869.63 516.70,869.40 517.42,869.18 518.14,868.96 518.86,868.73 519.58,868.50 520.30,868.27 521.03,868.03 521.75,867.79 522.47,867.55 523.19,867.31 523.91,867.07 524.63,866.83 525.35,866.58 526.07,866.33 526.79,866.08 527.51,865.83 528.23,865.57 528.95,865.32 529.68,865.06 530.40,864.80 531.12,864.55 531.84,864.29 532.56,864.02 533.28,863.76 534.00,863.50 534.72,863.23 535.44,862.97 536.16,862.70 536.88,862.43 537.60,862.17 538.33,861.90 539.05,861.63 539.77,861.36 540.49,861.09 541.21,860.82 541.93,860.55 542.65,860.27 543.37,860.00 544.09,859.73 544.81,859.46 545.53,859.19 546.25,858.92 546.97,858.64 547.70,858.37 548.42,858.10 549.14,857.83 549.86,857.56 550.58,857.29 551.30,857.01 552.02,856.74 552.74,856.47 553.46,856.20 554.18,855.93 554.90,855.65 555.62,855.38 556.35,855.11 557.07,854.84 557.79,854.57 558.51,854.30 559.23,854.02 559.95,853.75 560.67,853.48 561.39,853.21 562.11,852.94 562.83,852.66 563.55,852.39 564.27,852.12 565.00,851.85 565.72,851.58 566.44,851.30 567.16,851.03 567.88,850.76 568.60,850.49 569.32,850.22 570.04,849.94 570.76,849.67 571.48,849.40 572.20,849.13 572.92,848.86 573.64,848.58 574.37,848.31 575.09,848.04 575.81,847.77 576.53,847.50 577.25,847.22 577.97,846.95 578.69,846.68 579.41,846.41 580.13,846.14 580.85,845.86 581.57,845.59 582.29,845.32 583.02,845.05 583.74,844.78 584.46,844.50 585.18,844.23 585.90,843.96 586.62,843.69 587.34,843.41 588.06,843.14 588.78,842.87 589.50,842.60 590.22,842.33 590.94,842.05 591.67,841.78 592.39,841.51 593.11,841.24 593.83,840.97 594.55,840.69 595.27,840.42 595.99,840.15 596.71,839.88 597.43,839.60 598.15,839.33 598.87,839.06 599.59,838.79 600.31,838.52 601.04,838.24 601.76,837.97 602.48,837.70 603.20,837.43 603.92,837.15" fill="none" stroke="#000000" stroke-width="4.0" stroke-linejoin="round"/>
<circle cx="171.43" cy="884.99" r="8.10" fill="#000000"/>
<circle cx="243.51" cy="888.43" r="8.10" fill="#000000"/>
<circle cx="315.59" cy="834.63" r="8.10" fill="#000000"/>
<circle cx="387.68" cy="730.78" r="8.10" fill="#000000"/>
<circle cx="459.76" cy="866.22" r="8.10" fill="#000000"/>
<circle cx="603.92" cy="837.15" r="8.10" fill="#000000"/>
<polyline points="171.43,866.63 172.16,866.05 172.88,865.47 173.61,864.90 174.33,864.32 175.05,863.75 175.78,863.18 176.50,862.60 177.23,862.03 177.95,861.46 178.67,860.89 179.40,860.32 180.12,859.76 180.85,859.19 181.57,858.63 182.30,858.07 183.02,857.51 183.74,856.95 184.47,856.40 185.19,855.84 185.91,855.29 186.64,854.75 187.36,854.20 188.09,853.66 188.81,853.12 189.53,852.59 190.26,852.06 190.98,851.53 191.70,851.00 192.43,850.48 193.15,849.97 193.87,849.45 194.60,848.95 195.32,848.44 196.04,847.94 196.77,847.45 197.49,846.96 198.21,846.47 198.94,845.99 199.66,845.52 200.38,845.05 201.10,844.58 201.83,844.12 202.55,843.67 203.27,843.22 203.99,842.78 204.71,842.35 205.44,841.92 206.16,841.50 206.88,841.08 207.60,840.67 208.32,840.27 209.05,839.87 209.77,839.49 210.49,839.10 211.21,838.73 211.93,838.36 212.65,838.01 213.37,837.65 214.09,837.31 214.81,836.98 215.53,836.65 216.25,836.33 216.97,836.02 217.69,835.72 218.41,835.43 219.13,835.14 219.85,834.87 220.57,834.60 221.29,834.34 222.01,834.10 222.73,833.86 223.45,833.63 224.17,833.41 224.89,833.20 225.61,833.00 226.32,832.82 227.04,832.64 227.76,832.47 228.48,832.31 229.20,832.17 229.91,832.03 230.63,831.91 231.35,831.79 232.07,831.69 232.78,831.60 233.50,831.52 234.22,831.45 234.93,831.40 235.65,831.36 236.36,831.32 237.08,831.30 237.80,831.30 238.51,831.30 239.23,831.32 239.94,831.35 240.66,831.40 241.37,831.45 242.09,831.52 242.80,831.61 243.51,831.70 244.23,831.82 244.94,831.94 245.65,832.08 246.37,832.23 247.08,832.39 247.79,832.56 248.51,832.75 249.22,832.94 249.93,833.15 250.64,833.37 251.36,833.59 252.07,833.83 252.78,834.08 253.49,834.34 254.20,834.60 254.92,834.88 255.63,835.16 256.34,835.45 257.05,835.75 257.76,836.06 258.48,836.37 259.19,836.69 259.90,837.02 260.61,837.35 261.32,837.69 262.04,838.03 262.75,838.38 263.46,838.73 264.17,839.09 264.88,839.45 265.60,839.81 266.31,840.18 267.02,840.55 267.73,840.92 268.45,841.30 269.16,841.68 269.87,842.06 270.59,842.44 271.30,842.82 272.01,843.21 272.73,843.59 273.44,843.97 274.16,844.36 274.87,844.74 275.59,845.12 276.30,845.50 277.02,845.88 277.73,846.26 278.45,846.63 279.17,847.00 279.88,847.37 280.60,847.74 281.32,848.10 282.03,848.46 282.75,848.81 283.47,849.16 284.19,849.51 284.91,849.85 285.63,850.18 286.35,850.51 287.07,850.83 287.79,851.15 288.51,851.45 289.23,851.76 289.95,852.05 290.68,852.33 291.40,852.61 292.12,852.88 292.85,853.14 293.57,853.39 294.30,853.63 295.02,853.87 295.75,854.09 296.48,854.30 297.20,854.50 297.93,854.69 298.66,854.87 299.39,855.03 300.12,855.19 300.85,855.33 301.58,855.45 302.31,855.57 303.04,855.67 303.77,855.76 304.51,855.83 305.24,855.89 305.98,855.94 306.71,855.97 307.45,855.98 308.18,855.98 308.92,855.96 309.66,855.93 310.40,855.87 311.14,855.81 311.88,855.72 312.62,855.62 313.36,855.50 314.11,855.36 314.85,855.20 315.59,855.02 316.34,854.82 317.09,854.61 317.83,854.37 318.58,854.12 319.33,853.84 320.08,853.55 320.83,853.24 321.58,852.92 322.33,852.57 323.08,852.21 323.83,851.83 324.58,851.43 325.33,851.02 326.09,850.59 326.84,850.14 327.59,849.68 328.35,849.20 329.10,848.71 329.85,848.20 330.61,847.68 331.36,847.14 332.11,846.58 332.87,846.01 333.62,845.43 334.37,844.83 335.13,844.22 335.88,843.59 336.63,842.95 337.39,842.30 338.14,841.63 338.89,840.96 339.64,840.26 340.39,839.56 341.14,838.85 341.89,838.12 342.64,837.38 343.39,836.63 344.14,835.86 344.89,835.09 345.64,834.30 346.38,833.51 347.13,832.70 347.87,831.89 348.62,831.06 349.36,830.22 350.10,829.38 350.84,828.52 351.58,827.66 352.32,826.78 353.06,825.90 353.79,825.01 354.53,824.11 355.26,823.20 356.00,822.29 356.73,821.36 357.46,820.43 358.19,819.50 358.92,818.55 359.64,817.60 360.37,816.64 361.09,815.68 361.81,814.71 362.53,813.73 363.25,812.75 363.97,811.76 364.68,810.76 365.39,809.77 366.10,808.76 366.81,807.76 367.52,806.74 368.23,805.73 368.93,804.71 369.63,803.68 370.33,802.65 371.03,801.62 371.72,800.59 372.42,799.55 373.11,798.51 373.80,797.47 374.48,796.42 375.17,795.38 375.85,794.33 376.53,793.28 377.21,792.23 377.88,791.17 378.55,790.12 379.22,789.06 379.89,788.01 380.55,786.95 381.22,785.90 381.87,784.84 382.53,783.79 383.18,782.73 383.83,781.68 384.48,780.63 385.13,779.58 385.77,778.53 386.41,777.48 387.04,776.43 387.68,775.39 388.31,774.35 388.93,773.31 389.56,772.27 390.18,771.23 390.80,770.20 391.41,769.17 392.03,768.14 392.64,767.11 393.25,766.09 393.86,765.06 394.46,764.04 395.07,763.02 395.67,762.00 396.27,760.98 396.88,759.97 397.48,758.96 398.08,757.94 398.68,756.93 399.28,755.92 399.87,754.91 400.47,753.91 401.07,752.90 401.67,751.90 402.27,750.89 402.87,749.89 403.47,748.89 404.07,747.89 404.67,746.89 405.27,745.89 405.87,744.89 406.48,743.90 407.09,742.90 407.69,741.91 408.30,740.91 408.91,739.92 409.53,738.92 410.14,737.93 410.76,736.94 411.38,735.94 412.01,734.95 412.63,733.96 413.26,732.97 413.89,731.98 414.53,730.99 415.17,729.99 415.81,729.00 416.45,728.01 417.10,727.02 417.76,726.03 418.41,725.04 419.08,724.04 419.74,723.05 420.41,722.06 421.09,721.07 421.77,720.07 422.45,719.08 423.14,718.08 423.84,717.09 424.54,716.09 425.25,715.09 425.96,714.10 426.68,713.10 427.40,712.10 428.13,711.10 428.87,710.10 429.61,709.10 430.36,708.09 431.12,707.09 431.88,706.08 432.65,705.08 433.43,704.07 434.21,703.06 435.00,702.05 435.80,701.04 436.61,700.02 437.43,699.01 438.25,697.99 439.08,696.97 439.92,695.95 440.77,694.93 441.63,693.91 442.49,692.88 443.37,691.86 444.25,690.83 445.15,689.80 446.05,688.76 446.96,687.73 447.88,686.69 448.82,685.65 449.76,684.61 450.71,683.56 451.67,682.52 452.64,681.47 453.63,680.42 454.62,679.36 455.63,678.31 456.64,677.25 457.67,676.19 458.71,675.12 459.76,674.06 460.82,672.99 461.89,671.91 462.97,670.84 464.07,669.76 465.18,668.68 466.29,667.60 467.42,666.51 468.56,665.42 469.71,664.33 470.87,663.24 472.04,662.14 473.22,661.04 474.41,659.94 475.61,658.84 476.83,657.73 478.05,656.62 479.28,655.51 480.52,654.40 481.77,653.29 483.03,652.17 484.30,651.05 485.57,649.93 486.86,648.80 488.16,647.68 489.46,646.55 490.77,645.42 492.09,644.28 493.43,643.15 494.76,642.01 496.11,640.87 497.47,639.73 498.83,638.59 500.20,637.45 501.58,636.30 502.96,635.15 504.36,634.00 505.76,632.85 507.17,631.69 508.58,630.54 510.01,629.38 511.43,628.22 512.87,627.06 514.31,625.90 515.76,624.74 517.22,623.57 518.68,622.41 520.15,621.24 521.63,620.07 523.11,618.90 524.60,617.72 526.09,616.55 527.59,615.37 529.09,614.20 530.60,613.02 532.11,611.84 533.63,610.66 535.16,609.48 536.69,608.29 538.22,607.11 539.76,605.93 541.31,604.74 542.86,603.55 544.41,602.36 545.97,601.17 547.53,599.98 549.10,598.79 550.67,597.60 552.24,596.40 553.82,595.21 555.40,594.01 556.98,592.82 558.57,591.62 560.16,590.42 561.75,589.23 563.35,588.03 564.95,586.83 566.55,585.63 568.16,584.42 569.77,583.22 571.38,582.02 572.99,580.82 574.61,579.61 576.22,578.41 577.84,577.20 579.46,576.00 581.09,574.79 582.71,573.59 584.34,572.38 585.96,571.18 587.59,569.97 589.22,568.76 590.85,567.55 592.48,566.35 594.11,565.14 595.75,563.93 597.38,562.72 599.02,561.52 600.65,560.31 602.28,559.10 603.92,557.89" fill="none" stroke="#ff0000" stroke-width="4.0" stroke-linejoin="round"/>
<polygon points="163.18,861.86 179.68,861.86 171.43,876.16" fill="#ff0000"/>
<polygon points="235.26,826.94 251.76,826.94 243.51,841.24" fill="#ff0000"/>
<polygon points="307.34,850.25 323.84,850.25 315.59,864.55" fill="#ff0000"/>
<polygon points="379.43,770.62 395.93,770.62 387.68,784.92" fill="#ff0000"/>
<polygon points="451.51,669.29 468.01,669.29 459.76,683.59" fill="#ff0000"/>
<polygon points="595.67,553.12 612.17,553.12 603.92,567.42" fill="#ff0000"/>
<polyline points="171.43,883.38 172.16,883.38 172.88,883.38 173.61,883.37 174.33,883.37 175.05,883.37 175.78,883.37 176.50,883.36 177.23,883.36 177.95,883.36 178.67,883.36 179.40,883.36 180.12,883.36 180.85,883.35 181.57,883.35 182.30,883.35 183.02,883.35 183.74,883.35 184.47,883.35 185.19,883.34 185.91,883.34 186.64,883.34 187.36,883.34 188.09,883.34 188.81,883.34 189.53,883.34 190.26,883.34 190.98,883.34 191.70,883.34 192.43,883.34 193.15,883.34 193.87,883.34 194.60,883.34 195.32,883.34 196.04,883.34 196.77,883.34 197.49,883.34 198.21,883.34 198.94,883.34 199.66,883.34 200.38,883.35 201.10,883.35 201.83,883.35 202.55,883.35 203.27,883.35 203.99,883.36 204.71,883.36 205.44,883.36 206.16,883.37 206.88,883.37 207.60,883.37 208.32,883.38 209.05,883.38 209.77,883.39 210.49,883.39 211.21,883.40 211.93,883.40 212.65,883.41 213.37,883.41 214.09,883.42 214.81,883.43 215.53,883.43 216.25,883.44 216.97,883.45 217.69,883.46 218.41,883.47 219.13,883.47 219.85,883.48 220.57,883.49 221.29,883.50 222.01,883.51 222.73,883.52 223.45,883.53 224.17,883.54 224.89,883.55 225.61,883.56 226.32,883.58 227.04,883.59 227.76,883.60 228.48,883.61 229.20,883.63 229.91,883.64 230.63,883.66 231.35,883.67 232.07,883.69 232.78,883.70 233.50,883.72 234.22,883.73 234.93,883.75 235.65,883.77 236.36,883.78 237.08,883.80 237.80,883.82 238.51,883.84 239.23,883.86 239.94,883.88 240.66,883.90 241.37,883.92 242.09,883.94 242.80,883.96 243.51,883.98 244.23,884.01 244.94,884.03 245.65,884.05 246.37,884.08 247.08,884.10 247.79,884.13 248.51,884.15 249.22,884.18 249.93,884.20 250.64,884.23 251.36,884.25 252.07,884.28 252.78,884.30 253.49,884.33 254.20,884.35 254.92,884.38 255.63,884.40 256.34,884.43 257.05,884.45 257.76,884.48 258.48,884.50 259.19,884.53 259.90,884.55 260.61,884.57 261.32,884.59 262.04,884.62 262.75,884.64 263.46,884.66 264.17,884.68 264.88,884.70 265.60,884.71 266.31,884.73 267.02,884.75 267.73,884.76 268.45,884.78 269.16,884.79 269.87,884.81 270.59,884.82 271.30,884.83 272.01,884.84 272.73,884.85 273.44,884.86 274.16,884.86 274.87,884.87 275.59,884.87 276.30,884.87 277.02,884.88 277.73,884.88 278.45,884.87 279.17,884.87 279.88,884.87 280.60,884.86 281.32,884.85 282.03,884.84 282.75,884.83 283.47,884.82 284.19,884.80 284.91,884.78 285.63,884.77 286.35,884.74 287.07,884.72 287.79,884.70 288.51,884.67 289.23,884.64 289.95,884.61 290.68,884.58 291.40,884.54 292.12,884.50 292.85,884.46 293.57,884.42 294.30,884.38 295.02,884.33 295.75,884.28 296.48,884.23 297.20,884.17 297.93,884.12 298.66,884.06 299.39,883.99 300.12,883.93 300.85,883.86 301.58,883.79 302.31,883.72 303.04,883.64 303.77,883.56 304.51,883.48 305.24,883.39 305.98,883.31 306.71,883.22 307.45,883.12 308.18,883.02 308.92,882.92 309.66,882.82 310.40,882.71 311.14,882.60 311.88,882.49 312.62,882.37 313.36,882.25 314.11,882.12 314.85,882.00 315.59,881.87 316.34,881.73 317.09,881.59 317.83,881.45 318.58,881.31 319.33,881.16 320.08,881.01 320.83,880.85 321.58,880.69 322.33,880.53 323.08,880.37 323.83,880.21 324.58,880.04 325.33,879.87 326.09,879.70 326.84,879.52 327.59,879.34 328.35,879.17 329.10,878.98 329.85,878.80 330.61,878.62 331.36,878.43 332.11,878.25 332.87,878.06 333.62,877.87 334.37,877.68 335.13,877.48 335.88,877.29 336.63,877.10 337.39,876.90 338.14,876.71 338.89,876.51 339.64,876.32 340.39,876.12 341.14,875.92 341.89,875.73 342.64,875.53 343.39,875.33 344.14,875.14 344.89,874.94 345.64,874.75 346.38,874.55 347.13,874.35 347.87,874.16 348.62,873.97 349.36,873.77 350.10,873.58 350.84,873.39 351.58,873.20 352.32,873.02 353.06,872.83 353.79,872.64 354.53,872.46 355.26,872.28 356.00,872.10 356.73,871.92 357.46,871.74 358.19,871.57 358.92,871.40 359.64,871.23 360.37,871.06 361.09,870.90 361.81,870.74 362.53,870.58 363.25,870.42 363.97,870.27 364.68,870.12 365.39,869.97 366.10,869.83 366.81,869.69 367.52,869.55 368.23,869.41 368.93,869.28 369.63,869.16 370.33,869.04 371.03,868.92 371.72,868.80 372.42,868.69 373.11,868.59 373.80,868.48 374.48,868.39 375.17,868.29 375.85,868.21 376.53,868.12 377.21,868.04 377.88,867.97 378.55,867.90 379.22,867.84 379.89,867.78 380.55,867.73 381.22,867.68 381.87,867.64 382.53,867.60 383.18,867.57 383.83,867.55 384.48,867.53 385.13,867.52 385.77,867.51 386.41,867.51 387.04,867.52 387.68,867.53 388.31,867.55 388.93,867.58 389.56,867.61 390.18,867.65 390.80,867.70 391.41,867.75 392.03,867.80 392.64,867.86 393.25,867.93 393.86,868.00 394.46,868.08 395.07,868.17 395.67,868.25 396.27,868.35 396.88,868.44 397.48,868.54 398.08,868.65 398.68,868.76 399.28,868.87 399.87,868.99 400.47,869.11 401.07,869.24 401.67,869.37 402.27,869.50 402.87,869.63 403.47,869.77 404.07,869.91 404.67,870.05 405.27,870.20 405.87,870.35 406.48,870.50 407.09,870.65 407.69,870.81 408.30,870.96 408.91,871.12 409.53,871.28 410.14,871.44 410.76,871.61 411.38,871.77 412.01,871.93 412.63,872.10 413.26,872.26 413.89,872.43 414.53,872.60 415.17,872.77 415.81,872.93 416.45,873.10 417.10,873.27 417.76,873.43 418.41,873.60 419.08,873.77 419.74,873.93 420.41,874.10 421.09,874.26 421.77,874.42 422.45,874.58 423.14,874.74 423.84,874.90 424.54,875.05 425.25,875.21 425.96,875.36 426.68,875.51 427.40,875.65 428.13,875.80 428.87,875.94 429.61,876.08 430.36,876.22 431.12,876.35 431.88,876.48 432.65,876.61 433.43,876.73 434.21,876.85 435.00,876.97 435.80,877.08 436.61,877.18 437.43,877.29 438.25,877.39 439.08,877.48 439.92,877.57 440.77,877.66 441.63,877.74 442.49,877.81 443.37,877.88 444.25,877.95 445.15,878.01 446.05,878.06 446.96,878.11 447.88,878.15 448.82,878.18 449.76,878.21 450.71,878.24 451.67,878.25 452.64,878.26 453.63,878.27 454.62,878.26 455.63,878.25 456.64,878.23 457.67,878.21 458.71,878.17 459.76,878.13 460.82,878.08 461.89,878.03 462.97,877.96 464.07,877.89 465.18,877.81 466.29,877.72 467.42,877.63 468.56,877.53 469.71,877.42 470.87,877.30 472.04,877.18 473.22,877.05 474.41,876.91 475.61,876.77 476.83,876.62 478.05,876.46 479.28,876.30 480.52,876.13 481.77,875.95 483.03,875.77 484.30,875.58 485.57,875.39 486.86,875.19 488.16,874.98 489.46,874.77 490.77,874.55 492.09,874.32 493.43,874.09 494.76,873.86 496.11,873.61 497.47,873.37 498.83,873.11 500.20,872.86 501.58,872.59 502.96,872.32 504.36,872.05 505.76,871.77 507.17,871.49 508.58,871.20 510.01,870.91 511.43,870.61 512.87,870.31 514.31,870.00 515.76,869.69 517.22,869.37 518.68,869.05 520.15,868.73 521.63,868.40 523.11,868.07 524.60,867.73 526.09,867.39 527.59,867.05 529.09,866.70 530.60,866.35 532.11,865.99 533.63,865.63 535.16,865.27 536.69,864.91 538.22,864.54 539.76,864.17 541.31,863.79 542.86,863.41 544.41,863.03 545.97,862.65 547.53,862.26 549.10,861.87 550.67,861.48 552.24,861.08 553.82,860.69 555.40,860.29 556.98,859.88 558.57,859.48 560.16,859.07 561.75,858.66 563.35,858.25 564.95,857.84 566.55,857.43 568.16,857.01 569.77,856.59 571.38,856.17 572.99,855.75 574.61,855.33 576.22,854.90 577.84,854.48 579.46,854.05 581.09,853.62 582.71,853.19 584.34,852.76 585.96,852.33 587.59,851.90 589.22,851.47 590.85,851.03 592.48,850.60 594.11,850.17 595.75,849.73 597.38,849.29 599.02,848.86 600.65,848.42 602.28,847.99 603.92,847.55" fill="none" stroke="#800080" stroke-width="4.0" stroke-linejoin="round"/>
<polygon points="163.18,888.15 179.68,888.15 171.43,873.85" fill="#800080"/>
<polygon points="235.26,888.75 251.76,888.75 243.51,874.45" fill="#800080"/>
<polygon points="307.34,886.63 323.84,886.63 315.59,872.33" fill="#800080"/>
<polygon points="379.43,872.30 395.93,872.30 387.68,858.00" fill="#800080"/>
<polygon points="451.51,882.90 468.01,882.90 459.76,868.60" fill="#800080"/>
<polygon points="595.67,852.32 612.17,852.32 603.92,838.02" fill="#800080"/>
<polyline points="171.43,887.72 172.16,887.75 172.88,887.78 173.61,887.81 174.33,887.84 175.05,887.87 175.78,887.90 176.50,887.93 177.23,887.96 177.95,887.99 178.67,888.02 179.40,888.05 180.12,888.08 180.85,888.11 181.57,888.14 182.30,888.17 183.02,888.20 183.74,888.23 184.47,888.26 185.19,888.29 185.91,888.32 186.64,888.35 187.36,888.38 188.09,888.41 188.81,888.44 189.53,888.47 190.26,888.50 190.98,888.53 191.70,888.56 192.43,888.59 193.15,888.62 193.87,888.64 194.60,888.67 195.32,888.70 196.04,888.73 196.77,888.76 197.49,888.79 198.21,888.82 198.94,888.84 199.66,888.87 200.38,888.90 201.10,888.93 201.83,888.96 202.55,888.98 203.27,889.01 203.99,889.04 204.71,889.07 205.44,889.09 206.16,889.12 206.88,889.15 207.60,889.17 208.32,889.20 209.05,889.23 209.77,889.25 210.49,889.28 211.21,889.30 211.93,889.33 212.65,889.35 213.37,889.38 214.09,889.40 214.81,889.43 215.53,889.45 216.25,889.48 216.97,889.50 217.69,889.53 218.41,889.55 219.13,889.58 219.85,889.60 220.57,889.62 221.29,889.65 222.01,889.67 222.73,889.69 223.45,889.71 224.17,889.74 224.89,889.76 225.61,889.78 226.32,889.80 227.04,889.82 227.76,889.84 228.48,889.86 229.20,889.89 229.91,889.91 230.63,889.93 231.35,889.95 232.07,889.97 232.78,889.98 233.50,890.00 234.22,890.02 234.93,890.04 235.65,890.06 236.36,890.08 237.08,890.10 237.80,890.11 238.51,890.13 239.23,890.15 239.94,890.16 240.66,890.18 241.37,890.20 242.09,890.21 242.80,890.23 243.51,890.24 244.23,890.26 244.94,890.27 245.65,890.29 246.37,890.30 247.08,890.31 247.79,890.33 248.51,890.34 249.22,890.35 249.93,890.36 250.64,890.38 251.36,890.39 252.07,890.40 252.78,890.41 253.49,890.42 254.20,890.43 254.92,890.44 255.63,890.45 256.34,890.46 257.05,890.47 257.76,890.48 258.48,890.49 259.19,890.50 259.90,890.51 260.61,890.51 261.32,890.52 262.04,890.53 262.75,890.54 263.46,890.54 264.17,890.55 264.88,890.56 265.60,890.56 266.31,890.57 267.02,890.57 267.73,890.58 268.45,890.58 269.16,890.58 269.87,890.59 270.59,890.59 271.30,890.60 272.01,890.60 272.73,890.60 273.44,890.60 274.16,890.61 274.87,890.61 275.59,890.61 276.30,890.61 277.02,890.61 277.73,890.61 278.45,890.61 279.17,890.61 279.88,890.61 280.60,890.61 281.32,890.61 282.03,890.61 282.75,890.61 283.47,890.61 284.19,890.60 284.91,890.60 285.63,890.60 286.35,890.60 287.07,890.59 287.79,890.59 288.51,890.59 289.23,890.58 289.95,890.58 290.68,890.57 291.40,890.57 292.12,890.56 292.85,890.56 293.57,890.55 294.30,890.55 295.02,890.54 295.75,890.53 296.48,890.53 297.20,890.52 297.93,890.51 298.66,890.50 299.39,890.49 300.12,890.49 300.85,890.48 301.58,890.47 302.31,890.46 303.04,890.45 303.77,890.44 304.51,890.43 305.24,890.42 305.98,890.41 306.71,890.40 307.45,890.39 308.18,890.37 308.92,890.36 309.66,890.35 310.40,890.34 311.14,890.33 311.88,890.31 312.62,890.30 313.36,890.29 314.11,890.27 314.85,890.26 315.59,890.24 316.34,890.23 317.09,890.21 317.83,890.20 318.58,890.18 319.33,890.17 320.08,890.15 320.83,890.13 321.58,890.12 322.33,890.10 323.08,890.08 323.83,890.07 324.58,890.05 325.33,890.03 326.09,890.01 326.84,890.00 327.59,889.98 328.35,889.96 329.10,889.94 329.85,889.92 330.61,889.91 331.36,889.89 332.11,889.87 332.87,889.85 333.62,889.83 334.37,889.81 335.13,889.79 335.88,889.77 336.63,889.76 337.39,889.74 338.14,889.72 338.89,889.70 339.64,889.68 340.39,889.66 341.14,889.64 341.89,889.62 342.64,889.60 343.39,889.59 344.14,889.57 344.89,889.55 345.64,889.53 346.38,889.51 347.13,889.49 347.87,889.47 348.62,889.46 349.36,889.44 350.10,889.42 350.84,889.40 351.58,889.39 352.32,889.37 353.06,889.35 353.79,889.33 354.53,889.32 355.26,889.30 356.00,889.28 356.73,889.27 357.46,889.25 358.19,889.24 358.92,889.22 359.64,889.21 360.37,889.19 361.09,889.18 361.81,889.16 362.53,889.15 363.25,889.14 363.97,889.12 364.68,889.11 365.39,889.10 366.10,889.08 366.81,889.07 367.52,889.06 368.23,889.05 368.93,889.04 369.63,889.03 370.33,889.02 371.03,889.01 371.72,889.00 372.42,888.99 373.11,888.98 373.80,888.97 374.48,888.97 375.17,888.96 375.85,888.95 376.53,888.95 377.21,888.94 377.88,888.94 378.55,888.93 379.22,888.93 379.89,888.93 380.55,888.92 381.22,888.92 381.87,888.92 382.53,888.92 383.18,888.92 383.83,888.92 384.48,888.92 385.13,888.92 385.77,888.92 386.41,888.92 387.04,888.93 387.68,888.93 388.31,888.93 388.93,888.94 389.56,888.95 390.18,888.95 390.80,888.96 391.41,888.97 392.03,888.97 392.64,888.98 393.25,888.99 393.86,889.00 394.46,889.01 395.07,889.02 395.67,889.03 396.27,889.05 396.88,889.06 397.48,889.07 398.08,889.08 398.68,889.10 399.28,889.11 399.87,889.12 400.47,889.14 401.07,889.15 401.67,889.17 402.27,889.18 402.87,889.20 403.47,889.21 404.07,889.23 404.67,889.24 405.27,889.26 405.87,889.27 406.48,889.29 407.09,889.31 407.69,889.32 408.30,889.34 408.91,889.36 409.53,889.37 410.14,889.39 410.76,889.41 411.38,889.42 412.01,889.44 412.63,889.46 413.26,889.47 413.89,889.49 414.53,889.51 415.17,889.52 415.81,889.54 416.45,889.55 417.10,889.57 417.76,889.59 418.41,889.60 419.08,889.62 419.74,889.63 420.41,889.65 421.09,889.66 421.77,889.68 422.45,889.69 423.14,889.70 423.84,889.72 424.54,889.73 425.25,889.74 425.96,889.75 426.68,889.77 427.40,889.78 428.13,889.79 428.87,889.80 429.61,889.81 430.36,889.82 431.12,889.83 431.88,889.83 432.65,889.84 433.43,889.85 434.21,889.86 435.00,889.86 435.80,889.87 436.61,889.87 437.43,889.88 438.25,889.88 439.08,889.88 439.92,889.89 440.77,889.89 441.63,889.89 442.49,889.89 443.37,889.89 444.25,889.89 445.15,889.88 446.05,889.88 446.96,889.88 447.88,889.87 448.82,889.86 449.76,889.86 450.71,889.85 451.67,889.84 452.64,889.83 453.63,889.82 454.62,889.81 455.63,889.80 456.64,889.78 457.67,889.77 458.71,889.75 459.76,889.74 460.82,889.72 461.89,889.70 462.97,889.68 464.07,889.66 465.18,889.64 466.29,889.62 467.42,889.59 468.56,889.57 469.71,889.54 470.87,889.51 472.04,889.49 473.22,889.46 474.41,889.43 475.61,889.40 476.83,889.36 478.05,889.33 479.28,889.30 480.52,889.26 481.77,889.23 483.03,889.19 484.30,889.15 485.57,889.12 486.86,889.08 488.16,889.04 489.46,889.00 490.77,888.95 492.09,888.91 493.43,888.87 494.76,888.83 496.11,888.78 497.47,888.74 498.83,888.69 500.20,888.64 501.58,888.60 502.96,888.55 504.36,888.50 505.76,888.45 507.17,888.40 508.58,888.35 510.01,888.30 511.43,888.24 512.87,888.19 514.31,888.14 515.76,888.08 517.22,888.03 518.68,887.97 520.15,887.92 521.63,887.86 523.11,887.80 524.60,887.74 526.09,887.69 527.59,887.63 529.09,887.57 530.60,887.51 532.11,887.45 533.63,887.39 535.16,887.32 536.69,887.26 538.22,887.20 539.76,887.14 541.31,887.07 542.86,887.01 544.41,886.95 545.97,886.88 547.53,886.82 549.10,886.75 550.67,886.69 552.24,886.62 553.82,886.56 555.40,886.49 556.98,886.42 558.57,886.35 560.16,886.29 561.75,886.22 563.35,886.15 564.95,886.08 566.55,886.01 568.16,885.95 569.77,885.88 571.38,885.81 572.99,885.74 574.61,885.67 576.22,885.60 577.84,885.53 579.46,885.46 581.09,885.39 582.71,885.32 584.34,885.25 585.96,885.17 587.59,885.10 589.22,885.03 590.85,884.96 592.48,884.89 594.11,884.82 595.75,884.75 597.38,884.68 599.02,884.60 600.65,884.53 602.28,884.46 603.92,884.39" fill="none" stroke="#0000ff" stroke-width="4.0" stroke-linejoin="round"/>
<polygon points="171.43,896.17 164.11,891.94 164.11,883.49 171.43,879.27 178.75,883.49 178.75,891.94" fill="#0000ff"/>
<polygon points="243.51,898.69 236.20,894.47 236.20,886.02 243.51,881.79 250.83,886.02 250.83,894.47" fill="#0000ff"/>
<polygon points="315.59,898.69 308.28,894.47 308.28,886.02 315.59,881.79 322.91,886.02 322.91,894.47" fill="#0000ff"/>
<polygon points="387.68,897.38 380.36,893.16 380.36,884.71 387.68,880.48 394.99,884.71 394.99,893.16" fill="#0000ff"/>
<polygon points="459.76,898.19 452.44,893.96 452.44,885.51 459.76,881.29 467.07,885.51 467.07,893.96" fill="#0000ff"/>
<polygon points="603.92,892.84 596.60,888.61 596.60,880.16 603.92,875.94 611.24,880.16 611.24,888.61" fill="#0000ff"/>
<polyline points="171.43,889.74 172.16,889.77 172.88,889.79 173.61,889.82 174.33,889.85 175.05,889.88 175.78,889.91 176.50,889.94 177.23,889.96 177.95,889.99 178.67,890.02 179.40,890.05 180.12,890.08 180.85,890.11 181.57,890.13 182.30,890.16 183.02,890.19 183.74,890.22 184.47,890.25 185.19,890.27 185.91,890.30 186.64,890.33 187.36,890.36 188.09,890.38 188.81,890.41 189.53,890.44 190.26,890.47 190.98,890.49 191.70,890.52 192.43,890.55 193.15,890.58 193.87,890.60 194.60,890.63 195.32,890.66 196.04,890.68 196.77,890.71 197.49,890.74 198.21,890.76 198.94,890.79 199.66,890.81 200.38,890.84 201.10,890.87 201.83,890.89 202.55,890.92 203.27,890.94 203.99,890.97 204.71,890.99 205.44,891.02 206.16,891.04 206.88,891.07 207.60,891.09 208.32,891.12 209.05,891.14 209.77,891.17 210.49,891.19 211.21,891.21 211.93,891.24 212.65,891.26 213.37,891.28 214.09,891.31 214.81,891.33 215.53,891.35 216.25,891.38 216.97,891.40 217.69,891.42 218.41,891.44 219.13,891.46 219.85,891.48 220.57,891.51 221.29,891.53 222.01,891.55 222.73,891.57 223.45,891.59 224.17,891.61 224.89,891.63 225.61,891.65 226.32,891.67 227.04,891.69 227.76,891.71 228.48,891.73 229.20,891.74 229.91,891.76 230.63,891.78 231.35,891.80 232.07,891.82 232.78,891.83 233.50,891.85 234.22,891.87 234.93,891.88 235.65,891.90 236.36,891.92 237.08,891.93 237.80,891.95 238.51,891.96 239.23,891.98 239.94,891.99 240.66,892.01 241.37,892.02 242.09,892.03 242.80,892.05 243.51,892.06 244.23,892.07 244.94,892.08 245.65,892.10 246.37,892.11 247.08,892.12 247.79,892.13 248.51,892.14 249.22,892.15 249.93,892.16 250.64,892.17 251.36,892.18 252.07,892.19 252.78,892.20 253.49,892.21 254.20,892.22 254.92,892.23 255.63,892.23 256.34,892.24 257.05,892.25 257.76,892.26 258.48,892.26 259.19,892.27 259.90,892.28 260.61,892.28 261.32,892.29 262.04,892.29 262.75,892.30 263.46,892.30 264.17,892.31 264.88,892.31 265.60,892.32 266.31,892.32 267.02,892.33 267.73,892.33 268.45,892.33 269.16,892.34 269.87,892.34 270.59,892.34 271.30,892.34 272.01,892.35 272.73,892.35 273.44,892.35 274.16,892.35 274.87,892.35 275.59,892.35 276.30,892.36 277.02,892.36 277.73,892.36 278.45,892.36 279.17,892.36 279.88,892.36 280.60,892.36 281.32,892.36 282.03,892.36 282.75,892.36 283.47,892.35 284.19,892.35 284.91,892.35 285.63,892.35 286.35,892.35 287.07,892.35 287.79,892.34 288.51,892.34 289.23,892.34 289.95,892.34 290.68,892.33 291.40,892.33 292.12,892.33 292.85,892.33 293.57,892.32 294.30,892.32 295.02,892.32 295.75,892.31 296.48,892.31 297.20,892.30 297.93,892.30 298.66,892.29 299.39,892.29 300.12,892.29 300.85,892.28 301.58,892.28 302.31,892.27 303.04,892.27 303.77,892.26 304.51,892.25 305.24,892.25 305.98,892.24 306.71,892.24 307.45,892.23 308.18,892.23 308.92,892.22 309.66,892.21 310.40,892.21 311.14,892.20 311.88,892.19 312.62,892.19 313.36,892.18 314.11,892.17 314.85,892.17 315.59,892.16 316.34,892.15 317.09,892.15 317.83,892.14 318.58,892.13 319.33,892.12 320.08,892.12 320.83,892.11 321.58,892.10 322.33,892.09 323.08,892.09 323.83,892.08 324.58,892.07 325.33,892.06 326.09,892.06 326.84,892.05 327.59,892.04 328.35,892.03 329.10,892.02 329.85,892.02 330.61,892.01 331.36,892.00 332.11,891.99 332.87,891.98 333.62,891.98 334.37,891.97 335.13,891.96 335.88,891.95 336.63,891.95 337.39,891.94 338.14,891.93 338.89,891.92 339.64,891.92 340.39,891.91 341.14,891.90 341.89,891.89 342.64,891.89 343.39,891.88 344.14,891.87 344.89,891.86 345.64,891.86 346.38,891.85 347.13,891.84 347.87,891.84 348.62,891.83 349.36,891.82 350.10,891.82 350.84,891.81 351.58,891.80 352.32,891.80 353.06,891.79 353.79,891.79 354.53,891.78 355.26,891.78 356.00,891.77 356.73,891.77 357.46,891.76 358.19,891.76 358.92,891.75 359.64,891.75 360.37,891.74 361.09,891.74 361.81,891.73 362.53,891.73 363.25,891.73 363.97,891.72 364.68,891.72 365.39,891.72 366.10,891.71 366.81,891.71 367.52,891.71 368.23,891.71 368.93,891.70 369.63,891.70 370.33,891.70 371.03,891.70 371.72,891.70 372.42,891.70 373.11,891.70 373.80,891.70 374.48,891.70 375.17,891.70 375.85,891.70 376.53,891.70 377.21,891.70 377.88,891.70 378.55,891.70 379.22,891.70 379.89,891.71 380.55,891.71 381.22,891.71 381.87,891.71 382.53,891.72 383.18,891.72 383.83,891.73 384.48,891.73 385.13,891.73 385.77,891.74 386.41,891.74 387.04,891.75 387.68,891.76 388.31,891.76 388.93,891.77 389.56,891.78 390.18,891.78 390.80,891.79 391.41,891.80 392.03,891.81 392.64,891.82 393.25,891.82 393.86,891.83 394.46,891.84 395.07,891.85 395.67,891.86 396.27,891.87 396.88,891.88 397.48,891.89 398.08,891.90 398.68,891.91 399.28,891.92 399.87,891.94 400.47,891.95 401.07,891.96 401.67,891.97 402.27,891.98 402.87,891.99 403.47,892.00 404.07,892.01 404.67,892.03 405.27,892.04 405.87,892.05 406.48,892.06 407.09,892.07 407.69,892.08 408.30,892.10 408.91,892.11 409.53,892.12 410.14,892.13 410.76,892.14 411.38,892.15 412.01,892.16 412.63,892.18 413.26,892.19 413.89,892.20 414.53,892.21 415.17,892.22 415.81,892.23 416.45,892.24 417.10,892.25 417.76,892.26 418.41,892.27 419.08,892.28 419.74,892.29 420.41,892.30 421.09,892.31 421.77,892.32 422.45,892.32 423.14,892.33 423.84,892.34 424.54,892.35 425.25,892.36 425.96,892.36 426.68,892.37 427.40,892.37 428.13,892.38 428.87,892.39 429.61,892.39 430.36,892.40 431.12,892.40 431.88,892.40 432.65,892.41 433.43,892.41 434.21,892.41 435.00,892.42 435.80,892.42 436.61,892.42 437.43,892.42 438.25,892.42 439.08,892.42 439.92,892.42 440.77,892.42 441.63,892.42 442.49,892.41 443.37,892.41 444.25,892.41 445.15,892.40 446.05,892.40 446.96,892.39 447.88,892.39 448.82,892.38 449.76,892.37 450.71,892.36 451.67,892.36 452.64,892.35 453.63,892.34 454.62,892.33 455.63,892.31 456.64,892.30 457.67,892.29 458.71,892.28 459.76,892.26 460.82,892.25 461.89,892.23 462.97,892.21 464.07,892.20 465.18,892.18 466.29,892.16 467.42,892.14 468.56,892.12 469.71,892.10 470.87,892.08 472.04,892.05 473.22,892.03 474.41,892.01 475.61,891.98 476.83,891.96 478.05,891.93 479.28,891.91 480.52,891.88 481.77,891.85 483.03,891.82 484.30,891.79 485.57,891.76 486.86,891.73 488.16,891.70 489.46,891.67 490.77,891.64 492.09,891.61 493.43,891.57 494.76,891.54 496.11,891.51 497.47,891.47 498.83,891.44 500.20,891.40 501.58,891.37 502.96,891.33 504.36,891.29 505.76,891.25 507.17,891.22 508.58,891.18 510.01,891.14 511.43,891.10 512.87,891.06 514.31,891.02 515.76,890.98 517.22,890.94 518.68,890.89 520.15,890.85 521.63,890.81 523.11,890.77 524.60,890.72 526.09,890.68 527.59,890.63 529.09,890.59 530.60,890.55 532.11,890.50 533.63,890.45 535.16,890.41 536.69,890.36 538.22,890.32 539.76,890.27 541.31,890.22 542.86,890.17 544.41,890.13 545.97,890.08 547.53,890.03 549.10,889.98 550.67,889.93 552.24,889.88 553.82,889.83 555.40,889.78 556.98,889.73 558.57,889.68 560.16,889.63 561.75,889.58 563.35,889.53 564.95,889.48 566.55,889.43 568.16,889.38 569.77,889.33 571.38,889.28 572.99,889.23 574.61,889.17 576.22,889.12 577.84,889.07 579.46,889.02 581.09,888.96 582.71,888.91 584.34,888.86 585.96,888.81 587.59,888.75 589.22,888.70 590.85,888.65 592.48,888.60 594.11,888.54 595.75,888.49 597.38,888.44 599.02,888.38 600.65,888.33 602.28,888.28 603.92,888.22" fill="none" stroke="#ff00ff" stroke-width="4.0" stroke-linejoin="round"/>
<polygon points="164.33,882.64 178.53,882.64 178.53,896.84 164.33,896.84" fill="#ff00ff"/>
<polygon points="236.41,884.96 250.61,884.96 250.61,899.16 236.41,899.16" fill="#ff00ff"/>
<polygon points="308.49,885.06 322.69,885.06 322.69,899.26 308.49,899.26" fill="#ff00ff"/>
<polygon points="380.58,884.66 394.78,884.66 394.78,898.86 380.58,898.86" fill="#ff00ff"/>
<polygon points="452.66,885.16 466.86,885.16 466.86,899.36 452.66,899.36" fill="#ff00ff"/>
<polygon points="596.82,881.12 611.02,881.12 611.02,895.32 596.82,895.32" fill="#ff00ff"/>
<polyline points="171.43,894.28 172.16,894.29 172.88,894.29 173.61,894.30 174.33,894.30 175.05,894.31 175.78,894.32 176.50,894.32 177.23,894.33 177.95,894.34 178.67,894.34 179.40,894.35 180.12,894.36 180.85,894.36 181.57,894.37 182.30,894.37 183.02,894.38 183.74,894.39 184.47,894.39 185.19,894.40 185.91,894.41 186.64,894.41 187.36,894.42 188.09,894.42 188.81,894.43 189.53,894.44 190.26,894.44 190.98,894.45 191.70,894.45 192.43,894.46 193.15,894.47 193.87,894.47 194.60,894.48 195.32,894.48 196.04,894.49 196.77,894.50 197.49,894.50 198.21,894.51 198.94,894.51 199.66,894.52 200.38,894.53 201.10,894.53 201.83,894.54 202.55,894.54 203.27,894.55 203.99,894.55 204.71,894.56 205.44,894.56 206.16,894.57 206.88,894.58 207.60,894.58 208.32,894.59 209.05,894.59 209.77,894.60 210.49,894.60 211.21,894.61 211.93,894.61 212.65,894.62 213.37,894.62 214.09,894.63 214.81,894.63 215.53,894.64 216.25,894.64 216.97,894.65 217.69,894.65 218.41,894.66 219.13,894.66 219.85,894.67 220.57,894.67 221.29,894.67 222.01,894.68 222.73,894.68 223.45,894.69 224.17,894.69 224.89,894.70 225.61,894.70 226.32,894.70 227.04,894.71 227.76,894.71 228.48,894.72 229.20,894.72 229.91,894.72 230.63,894.73 231.35,894.73 232.07,894.74 232.78,894.74 233.50,894.74 234.22,894.75 234.93,894.75 235.65,894.75 236.36,894.76 237.08,894.76 237.80,894.76 238.51,894.77 239.23,894.77 239.94,894.77 240.66,894.77 241.37,894.78 242.09,894.78 242.80,894.78 243.51,894.78 244.23,894.79 244.94,894.79 245.65,894.79 246.37,894.79 247.08,894.80 247.79,894.80 248.51,894.80 249.22,894.80 249.93,894.80 250.64,894.80 251.36,894.81 252.07,894.81 252.78,894.81 253.49,894.81 254.20,894.81 254.92,894.81 255.63,894.82 256.34,894.82 257.05,894.82 257.76,894.82 258.48,894.82 259.19,894.82 259.90,894.82 260.61,894.82 261.32,894.82 262.04,894.82 262.75,894.82 263.46,894.83 264.17,894.83 264.88,894.83 265.60,894.83 266.31,894.83 267.02,894.83 267.73,894.83 268.45,894.83 269.16,894.83 269.87,894.83 270.59,894.83 271.30,894.83 272.01,894.83 272.73,894.83 273.44,894.83 274.16,894.83 274.87,894.83 275.59,894.83 276.30,894.83 277.02,894.83 277.73,894.83 278.45,894.83 279.17,894.83 279.88,894.83 280.60,894.83 281.32,894.83 282.03,894.83 282.75,894.83 283.47,894.82 284.19,894.82 284.91,894.82 285.63,894.82 286.35,894.82 287.07,894.82 287.79,894.82 288.51,894.82 289.23,894.82 289.95,894.82 290.68,894.82 291.40,894.82 292.12,894.82 292.85,894.82 293.57,894.81 294.30,894.81 295.02,894.81 295.75,894.81 296.48,894.81 297.20,894.81 297.93,894.81 298.66,894.81 299.39,894.81 300.12,894.81 300.85,894.80 301.58,894.80 302.31,894.80 303.04,894.80 303.77,894.80 304.51,894.80 305.24,894.80 305.98,894.80 306.71,894.80 307.45,894.80 308.18,894.79 308.92,894.79 309.66,894.79 310.40,894.79 311.14,894.79 311.88,894.79 312.62,894.79 313.36,894.79 314.11,894.79 314.85,894.79 315.59,894.78 316.34,894.78 317.09,894.78 317.83,894.78 318.58,894.78 319.33,894.78 320.08,894.78 320.83,894.78 321.58,894.78 322.33,894.78 323.08,894.77 323.83,894.77 324.58,894.77 325.33,894.77 326.09,894.77 326.84,894.77 327.59,894.77 328.35,894.77 329.10,894.77 329.85,894.77 330.61,894.77 331.36,894.77 332.11,894.76 332.87,894.76 333.62,894.76 334.37,894.76 335.13,894.76 335.88,894.76 336.63,894.76 337.39,894.76 338.14,894.76 338.89,894.76 339.64,894.76 340.39,894.76 341.14,894.76 341.89,894.76 342.64,894.76 343.39,894.76 344.14,894.76 344.89,894.76 345.64,894.75 346.38,894.75 347.13,894.75 347.87,894.75 348.62,894.75 349.36,894.75 350.10,894.75 350.84,894.75 351.58,894.75 352.32,894.75 353.06,894.75 353.79,894.75 354.53,894.75 355.26,894.75 356.00,894.75 356.73,894.75 357.46,894.75 358.19,894.75 358.92,894.75 359.64,894.75 360.37,894.75 361.09,894.75 361.81,894.75 362.53,894.75 363.25,894.75 363.97,894.75 364.68,894.75 365.39,894.75 366.10,894.75 366.81,894.75 367.52,894.76 368.23,894.76 368.93,894.76 369.63,894.76 370.33,894.76 371.03,894.76 371.72,894.76 372.42,894.76 373.11,894.76 373.80,894.76 374.48,894.76 375.17,894.76 375.85,894.76 376.53,894.76 377.21,894.76 377.88,894.77 378.55,894.77 379.22,894.77 379.89,894.77 380.55,894.77 381.22,894.77 381.87,894.77 382.53,894.77 383.18,894.77 383.83,894.78 384.48,894.78 385.13,894.78 385.77,894.78 386.41,894.78 387.04,894.78 387.68,894.78 388.31,894.79 388.93,894.79 389.56,894.79 390.18,894.79 390.80,894.79 391.41,894.79 392.03,894.80 392.64,894.80 393.25,894.80 393.86,894.80 394.46,894.80 395.07,894.81 395.67,894.81 396.27,894.81 396.88,894.81 397.48,894.81 398.08,894.82 398.68,894.82 399.28,894.82 399.87,894.82 400.47,894.82 401.07,894.83 401.67,894.83 402.27,894.83 402.87,894.83 403.47,894.83 404.07,894.84 404.67,894.84 405.27,894.84 405.87,894.84 406.48,894.84 407.09,894.85 407.69,894.85 408.30,894.85 408.91,894.85 409.53,894.85 410.14,894.86 410.76,894.86 411.38,894.86 412.01,894.86 412.63,894.86 413.26,894.87 413.89,894.87 414.53,894.87 415.17,894.87 415.81,894.87 416.45,894.88 417.10,894.88 417.76,894.88 418.41,894.88 419.08,894.88 419.74,894.88 420.41,894.89 421.09,894.89 421.77,894.89 422.45,894.89 423.14,894.89 423.84,894.89 424.54,894.89 425.25,894.90 425.96,894.90 426.68,894.90 427.40,894.90 428.13,894.90 428.87,894.90 429.61,894.90 430.36,894.90 431.12,894.90 431.88,894.90 432.65,894.90 433.43,894.91 434.21,894.91 435.00,894.91 435.80,894.91 436.61,894.91 437.43,894.91 438.25,894.91 439.08,894.91 439.92,894.91 440.77,894.91 441.63,894.91 442.49,894.91 443.37,894.91 444.25,894.91 445.15,894.91 446.05,894.90 446.96,894.90 447.88,894.90 448.82,894.90 449.76,894.90 450.71,894.90 451.67,894.90 452.64,894.90 453.63,894.90 454.62,894.89 455.63,894.89 456.64,894.89 457.67,894.89 458.71,894.89 459.76,894.89 460.82,894.88 461.89,894.88 462.97,894.88 464.07,894.88 465.18,894.87 466.29,894.87 467.42,894.87 468.56,894.86 469.71,894.86 470.87,894.86 472.04,894.85 473.22,894.85 474.41,894.85 475.61,894.84 476.83,894.84 478.05,894.84 479.28,894.83 480.52,894.83 481.77,894.82 483.03,894.82 484.30,894.82 485.57,894.81 486.86,894.81 488.16,894.80 489.46,894.80 490.77,894.79 492.09,894.79 493.43,894.78 494.76,894.78 496.11,894.77 497.47,894.77 498.83,894.76 500.20,894.76 501.58,894.75 502.96,894.75 504.36,894.74 505.76,894.73 507.17,894.73 508.58,894.72 510.01,894.72 511.43,894.71 512.87,894.71 514.31,894.70 515.76,894.69 517.22,894.69 518.68,894.68 520.15,894.67 521.63,894.67 523.11,894.66 524.60,894.66 526.09,894.65 527.59,894.64 529.09,894.64 530.60,894.63 532.11,894.62 533.63,894.61 535.16,894.61 536.69,894.60 538.22,894.59 539.76,894.59 541.31,894.58 542.86,894.57 544.41,894.57 545.97,894.56 547.53,894.55 549.10,894.54 550.67,894.54 552.24,894.53 553.82,894.52 555.40,894.51 556.98,894.51 558.57,894.50 560.16,894.49 561.75,894.48 563.35,894.48 564.95,894.47 566.55,894.46 568.16,894.45 569.77,894.45 571.38,894.44 572.99,894.43 574.61,894.42 576.22,894.41 577.84,894.41 579.46,894.40 581.09,894.39 582.71,894.38 584.34,894.38 585.96,894.37 587.59,894.36 589.22,894.35 590.85,894.34 592.48,894.34 594.11,894.33 595.75,894.32 597.38,894.31 599.02,894.30 600.65,894.30 602.28,894.29 603.92,894.28" fill="none" stroke="#800000" stroke-width="4.0" stroke-linejoin="round"/>
<polygon points="171.43,885.98 173.55,891.37 179.33,891.71 174.86,895.39 176.31,900.99 171.43,897.88 166.55,900.99 168.01,895.39 163.54,891.71 169.32,891.37" fill="#800000"/>
<polygon points="243.51,886.48 245.63,891.87 251.41,892.22 246.94,895.90 248.39,901.50 243.51,898.38 238.63,901.50 240.09,895.90 235.62,892.22 241.40,891.87" fill="#800000"/>
<polygon points="315.59,886.48 317.71,891.87 323.49,892.22 319.02,895.90 320.47,901.50 315.59,898.38 310.72,901.50 312.17,895.90 307.70,892.22 313.48,891.87" fill="#800000"/>
<polygon points="387.68,886.48 389.79,891.87 395.57,892.22 391.10,895.90 392.55,901.50 387.68,898.38 382.80,901.50 384.25,895.90 379.78,892.22 385.56,891.87" fill="#800000"/>
<polygon points="459.76,886.59 461.87,891.97 467.65,892.32 463.18,896.00 464.64,901.60 459.76,898.49 454.88,901.60 456.33,896.00 451.86,892.32 457.64,891.97" fill="#800000"/>
<polygon points="603.92,885.98 606.03,891.37 611.81,891.71 607.34,895.39 608.80,900.99 603.92,897.88 599.04,900.99 600.50,895.39 596.03,891.71 601.80,891.37" fill="#800000"/>
<polyline points="171.43,894.78 172.16,894.79 172.88,894.79 173.61,894.80 174.33,894.80 175.05,894.80 175.78,894.81 176.50,894.81 177.23,894.81 177.95,894.82 178.67,894.82 179.40,894.83 180.12,894.83 180.85,894.83 181.57,894.84 182.30,894.84 183.02,894.84 183.74,894.85 184.47,894.85 185.19,894.86 185.91,894.86 186.64,894.86 187.36,894.87 188.09,894.87 188.81,894.87 189.53,894.88 190.26,894.88 190.98,894.88 191.70,894.89 192.43,894.89 193.15,894.90 193.87,894.90 194.60,894.90 195.32,894.91 196.04,894.91 196.77,894.91 197.49,894.92 198.21,894.92 198.94,894.92 199.66,894.93 200.38,894.93 201.10,894.93 201.83,894.94 202.55,894.94 203.27,894.94 203.99,894.95 204.71,894.95 205.44,894.95 206.16,894.96 206.88,894.96 207.60,894.96 208.32,894.97 209.05,894.97 209.77,894.97 210.49,894.98 211.21,894.98 211.93,894.98 212.65,894.99 213.37,894.99 214.09,894.99 214.81,895.00 215.53,895.00 216.25,895.00 216.97,895.00 217.69,895.01 218.41,895.01 219.13,895.01 219.85,895.02 220.57,895.02 221.29,895.02 222.01,895.02 222.73,895.03 223.45,895.03 224.17,895.03 224.89,895.03 225.61,895.04 226.32,895.04 227.04,895.04 227.76,895.04 228.48,895.05 229.20,895.05 229.91,895.05 230.63,895.05 231.35,895.06 232.07,895.06 232.78,895.06 233.50,895.06 234.22,895.06 234.93,895.07 235.65,895.07 236.36,895.07 237.08,895.07 237.80,895.07 238.51,895.08 239.23,895.08 239.94,895.08 240.66,895.08 241.37,895.08 242.09,895.08 242.80,895.09 243.51,895.09 244.23,895.09 244.94,895.09 245.65,895.09 246.37,895.09 247.08,895.09 247.79,895.10 248.51,895.10 249.22,895.10 249.93,895.10 250.64,895.10 251.36,895.10 252.07,895.10 252.78,895.10 253.49,895.10 254.20,895.10 254.92,895.11 255.63,895.11 256.34,895.11 257.05,895.11 257.76,895.11 258.48,895.11 259.19,895.11 259.90,895.11 260.61,895.11 261.32,895.11 262.04,895.11 262.75,895.11 263.46,895.11 264.17,895.11 264.88,895.11 265.60,895.11 266.31,895.11 267.02,895.11 267.73,895.11 268.45,895.11 269.16,895.12 269.87,895.12 270.59,895.12 271.30,895.12 272.01,895.12 272.73,895.12 273.44,895.12 274.16,895.12 274.87,895.12 275.59,895.12 276.30,895.12 277.02,895.12 277.73,895.11 278.45,895.11 279.17,895.11 279.88,895.11 280.60,895.11 281.32,895.11 282.03,895.11 282.75,895.11 283.47,895.11 284.19,895.11 284.91,895.11 285.63,895.11 286.35,895.11 287.07,895.11 287.79,895.11 288.51,895.11 289.23,895.11 289.95,895.11 290.68,895.11 291.40,895.11 292.12,895.11 292.85,895.11 293.57,895.11 294.30,895.11 295.02,895.11 295.75,895.11 296.48,895.10 297.20,895.10 297.93,895.10 298.66,895.10 299.39,895.10 300.12,895.10 300.85,895.10 301.58,895.10 302.31,895.10 303.04,895.10 303.77,895.10 304.51,895.10 305.24,895.10 305.98,895.10 306.71,895.10 307.45,895.09 308.18,895.09 308.92,895.09 309.66,895.09 310.40,895.09 311.14,895.09 311.88,895.09 312.62,895.09 313.36,895.09 314.11,895.09 314.85,895.09 315.59,895.09 316.34,895.09 317.09,895.09 317.83,895.08 318.58,895.08 319.33,895.08 320.08,895.08 320.83,895.08 321.58,895.08 322.33,895.08 323.08,895.08 323.83,895.08 324.58,895.08 325.33,895.08 326.09,895.08 326.84,895.08 327.59,895.08 328.35,895.08 329.10,895.07 329.85,895.07 330.61,895.07 331.36,895.07 332.11,895.07 332.87,895.07 333.62,895.07 334.37,895.07 335.13,895.07 335.88,895.07 336.63,895.07 337.39,895.07 338.14,895.07 338.89,895.07 339.64,895.07 340.39,895.07 341.14,895.07 341.89,895.07 342.64,895.07 343.39,895.06 344.14,895.06 344.89,895.06 345.64,895.06 346.38,895.06 347.13,895.06 347.87,895.06 348.62,895.06 349.36,895.06 350.10,895.06 350.84,895.06 351.58,895.06 352.32,895.06 353.06,895.06 353.79,895.06 354.53,895.06 355.26,895.06 356.00,895.06 356.73,895.06 357.46,895.06 358.19,895.06 358.92,895.06 359.64,895.06 360.37,895.06 361.09,895.06 361.81,895.06 362.53,895.06 363.25,895.06 363.97,895.06 364.68,895.06 365.39,895.06 366.10,895.06 366.81,895.06 367.52,895.06 368.23,895.06 368.93,895.06 369.63,895.06 370.33,895.06 371.03,895.06 371.72,895.06 372.42,895.07 373.11,895.07 373.80,895.07 374.48,895.07 375.17,895.07 375.85,895.07 376.53,895.07 377.21,895.07 377.88,895.07 378.55,895.07 379.22,895.07 379.89,895.07 380.55,895.07 381.22,895.08 381.87,895.08 382.53,895.08 383.18,895.08 383.83,895.08 384.48,895.08 385.13,895.08 385.77,895.08 386.41,895.08 387.04,895.09 387.68,895.09 388.31,895.09 388.93,895.09 389.56,895.09 390.18,895.09 390.80,895.09 391.41,895.10 392.03,895.10 392.64,895.10 393.25,895.10 393.86,895.10 394.46,895.10 395.07,895.11 395.67,895.11 396.27,895.11 396.88,895.11 397.48,895.11 398.08,895.11 398.68,895.12 399.28,895.12 399.87,895.12 400.47,895.12 401.07,895.12 401.67,895.13 402.27,895.13 402.87,895.13 403.47,895.13 404.07,895.13 404.67,895.14 405.27,895.14 405.87,895.14 406.48,895.14 407.09,895.14 407.69,895.15 408.30,895.15 408.91,895.15 409.53,895.15 410.14,895.15 410.76,895.15 411.38,895.16 412.01,895.16 412.63,895.16 413.26,895.16 413.89,895.16 414.53,895.17 415.17,895.17 415.81,895.17 416.45,895.17 417.10,895.17 417.76,895.17 418.41,895.18 419.08,895.18 419.74,895.18 420.41,895.18 421.09,895.18 421.77,895.18 422.45,895.18 423.14,895.19 423.84,895.19 424.54,895.19 425.25,895.19 425.96,895.19 426.68,895.19 427.40,895.19 428.13,895.19 428.87,895.20 429.61,895.20 430.36,895.20 431.12,895.20 431.88,895.20 432.65,895.20 433.43,895.20 434.21,895.20 435.00,895.20 435.80,895.20 436.61,895.20 437.43,895.20 438.25,895.20 439.08,895.20 439.92,895.20 440.77,895.20 441.63,895.20 442.49,895.20 443.37,895.20 444.25,895.20 445.15,895.20 446.05,895.20 446.96,895.20 447.88,895.20 448.82,895.20 449.76,895.20 450.71,895.20 451.67,895.20 452.64,895.20 453.63,895.20 454.62,895.20 455.63,895.19 456.64,895.19 457.67,895.19 458.71,895.19 459.76,895.19 460.82,895.19 461.89,895.18 462.97,895.18 464.07,895.18 465.18,895.18 466.29,895.18 467.42,895.17 468.56,895.17 469.71,895.17 470.87,895.17 472.04,895.16 473.22,895.16 474.41,895.16 475.61,895.15 476.83,895.15 478.05,895.15 479.28,895.15 480.52,895.14 481.77,895.14 483.03,895.14 484.30,895.13 485.57,895.13 486.86,895.12 488.16,895.12 489.46,895.12 490.77,895.11 492.09,895.11 493.43,895.10 494.76,895.10 496.11,895.10 497.47,895.09 498.83,895.09 500.20,895.08 501.58,895.08 502.96,895.07 504.36,895.07 505.76,895.06 507.17,895.06 508.58,895.06 510.01,895.05 511.43,895.05 512.87,895.04 514.31,895.04 515.76,895.03 517.22,895.03 518.68,895.02 520.15,895.01 521.63,895.01 523.11,895.00 524.60,895.00 526.09,894.99 527.59,894.99 529.09,894.98 530.60,894.98 532.11,894.97 533.63,894.96 535.16,894.96 536.69,894.95 538.22,894.95 539.76,894.94 541.31,894.94 542.86,894.93 544.41,894.92 545.97,894.92 547.53,894.91 549.10,894.91 550.67,894.90 552.24,894.89 553.82,894.89 555.40,894.88 556.98,894.87 558.57,894.87 560.16,894.86 561.75,894.86 563.35,894.85 564.95,894.84 566.55,894.84 568.16,894.83 569.77,894.82 571.38,894.82 572.99,894.81 574.61,894.80 576.22,894.80 577.84,894.79 579.46,894.78 581.09,894.78 582.71,894.77 584.34,894.76 585.96,894.76 587.59,894.75 589.22,894.74 590.85,894.74 592.48,894.73 594.11,894.72 595.75,894.72 597.38,894.71 599.02,894.70 600.65,894.70 602.28,894.69 603.92,894.68" fill="none" stroke="#008000" stroke-width="4.0" stroke-linejoin="round"/>
<polygon points="167.93,887.38 174.93,887.38 174.93,891.28 178.83,891.28 178.83,898.28 174.93,898.28 174.93,902.18 167.93,902.18 167.93,898.28 164.03,898.28 164.03,891.28 167.93,891.28" fill="#008000"/>
<polygon points="240.01,887.69 247.01,887.69 247.01,891.59 250.91,891.59 250.91,898.59 247.01,898.59 247.01,902.49 240.01,902.49 240.01,898.59 236.11,898.59 236.11,891.59 240.01,891.59" fill="#008000"/>
<polygon points="312.09,887.69 319.09,887.69 319.09,891.59 322.99,891.59 322.99,898.59 319.09,898.59 319.09,902.49 312.09,902.49 312.09,898.59 308.19,898.59 308.19,891.59 312.09,891.59" fill="#008000"/>
<polygon points="384.18,887.69 391.18,887.69 391.18,891.59 395.08,891.59 395.08,898.59 391.18,898.59 391.18,902.49 384.18,902.49 384.18,898.59 380.28,898.59 380.28,891.59 384.18,891.59" fill="#008000"/>
<polygon points="456.26,887.79 463.26,887.79 463.26,891.69 467.16,891.69 467.16,898.69 463.26,898.69 463.26,902.59 456.26,902.59 456.26,898.69 452.36,898.69 452.36,891.69 456.26,891.69" fill="#008000"/>
<polygon points="600.42,887.28 607.42,887.28 607.42,891.18 611.32,891.18 611.32,898.18 607.42,898.18 607.42,902.08 600.42,902.08 600.42,898.18 596.52,898.18 596.52,891.18 600.42,891.18" fill="#008000"/>
<polyline points="171.43,895.39 172.16,895.39 172.88,895.39 173.61,895.39 174.33,895.39 175.05,895.39 175.78,895.39 176.50,895.39 177.23,895.39 177.95,895.39 178.67,895.39 179.40,895.39 180.12,895.39 180.85,895.39 181.57,895.39 182.30,895.39 183.02,895.39 183.74,895.39 184.47,895.39 185.19,895.39 185.91,895.39 186.64,895.39 187.36,895.39 188.09,895.39 188.81,895.39 189.53,895.39 190.26,895.39 190.98,895.39 191.70,895.39 192.43,895.39 193.15,895.39 193.87,895.39 194.60,895.39 195.32,895.39 196.04,895.39 196.77,895.39 197.49,895.39 198.21,895.39 198.94,895.39 199.66,895.39 200.38,895.39 201.10,895.39 201.83,895.39 202.55,895.39 203.27,895.39 203.99,895.39 204.71,895.39 205.44,895.39 206.16,895.39 206.88,895.39 207.60,895.39 208.32,895.39 209.05,895.39 209.77,895.39 210.49,895.39 211.21,895.39 211.93,895.39 212.65,895.39 213.37,895.39 214.09,895.39 214.81,895.39 215.53,895.39 216.25,895.39 216.97,895.39 217.69,895.39 218.41,895.39 219.13,895.39 219.85,895.39 220.57,895.39 221.29,895.39 222.01,895.39 222.73,895.39 223.45,895.39 224.17,895.39 224.89,895.39 225.61,895.39 226.32,895.39 227.04,895.39 227.76,895.39 228.48,895.39 229.20,895.39 229.91,895.39 230.63,895.39 231.35,895.39 232.07,895.39 232.78,895.39 233.50,895.39 234.22,895.39 234.93,895.39 235.65,895.39 236.36,895.39 237.08,895.39 237.80,895.39 238.51,895.39 239.23,895.39 239.94,895.39 240.66,895.39 241.37,895.39 242.09,895.39 242.80,895.39 243.51,895.39 244.23,895.39 244.94,895.39 245.65,895.39 246.37,895.39 247.08,895.39 247.79,895.39 248.51,895.39 249.22,895.39 249.93,895.39 250.64,895.39 251.36,895.39 252.07,895.39 252.78,895.39 253.49,895.39 254.20,895.39 254.92,895.39 255.63,895.39 256.34,895.39 257.05,895.39 257.76,895.39 258.48,895.39 259.19,895.39 259.90,895.39 260.61,895.39 261.32,895.39 262.04,895.39 262.75,895.39 263.46,895.39 264.17,895.39 264.88,895.39 265.60,895.39 266.31,895.39 267.02,895.39 267.73,895.39 268.45,895.39 269.16,895.39 269.87,895.39 270.59,895.39 271.30,895.39 272.01,895.39 272.73,895.39 273.44,895.39 274.16,895.39 274.87,895.39 275.59,895.39 276.30,895.39 277.02,895.39 277.73,895.39 278.45,895.39 279.17,895.39 279.88,895.39 280.60,895.39 281.32,895.39 282.03,895.39 282.75,895.39 283.47,895.39 284.19,895.39 284.91,895.39 285.63,895.39 286.35,895.39 287.07,895.39 287.79,895.39 288.51,895.39 289.23,895.39 289.95,895.39 290.68,895.39 291.40,895.39 292.12,895.39 292.85,895.39 293.57,895.39 294.30,895.39 295.02,895.39 295.75,895.39 296.48,895.39 297.20,895.39 297.93,895.39 298.66,895.39 299.39,895.39 300.12,895.39 300.85,895.39 301.58,895.39 302.31,895.39 303.04,895.39 303.77,895.39 304.51,895.39 305.24,895.39 305.98,895.39 306.71,895.39 307.45,895.39 308.18,895.39 308.92,895.39 309.66,895.39 310.40,895.39 311.14,895.39 311.88,895.39 312.62,895.39 313.36,895.39 314.11,895.39 314.85,895.39 315.59,895.39 316.34,895.39 317.09,895.39 317.83,895.39 318.58,895.39 319.33,895.39 320.08,895.39 320.83,895.39 321.58,895.39 322.33,895.39 323.08,895.39 323.83,895.39 324.58,895.39 325.33,895.39 326.09,895.39 326.84,895.39 327.59,895.39 328.35,895.39 329.10,895.39 329.85,895.39 330.61,895.39 331.36,895.39 332.11,895.39 332.87,895.39 333.62,895.39 334.37,895.39 335.13,895.39 335.88,895.39 336.63,895.39 337.39,895.39 338.14,895.39 338.89,895.39 339.64,895.39 340.39,895.39 341.14,895.39 341.89,895.39 342.64,895.39 343.39,895.38 344.14,895.38 344.89,895.38 345.64,895.38 346.38,895.38 347.13,895.38 347.87,895.38 348.62,895.38 349.36,895.38 350.10,895.38 350.84,895.38 351.58,895.38 352.32,895.38 353.06,895.38 353.79,895.38 354.53,895.38 355.26,895.38 356.00,895.38 356.73,895.38 357.46,895.38 358.19,895.38 358.92,895.38 359.64,895.38 360.37,895.38 361.09,895.38 361.81,895.38 362.53,895.38 363.25,895.38 363.97,895.38 364.68,895.38 365.39,895.38 366.10,895.38 366.81,895.38 367.52,895.38 368.23,895.38 368.93,895.38 369.63,895.38 370.33,895.38 371.03,895.38 371.72,895.38 372.42,895.38 373.11,895.38 373.80,895.38 374.48,895.38 375.17,895.38 375.85,895.38 376.53,895.39 377.21,895.39 377.88,895.39 378.55,895.39 379.22,895.39 379.89,895.39 380.55,895.39 381.22,895.39 381.87,895.39 382.53,895.39 383.18,895.39 383.83,895.39 384.48,895.39 385.13,895.39 385.77,895.39 386.41,895.39 387.04,895.39 387.68,895.39 388.31,895.39 388.93,895.39 389.56,895.39 390.18,895.39 390.80,895.39 391.41,895.39 392.03,895.39 392.64,895.39 393.25,895.39 393.86,895.39 394.46,895.39 395.07,895.39 395.67,895.40 396.27,895.40 396.88,895.40 397.48,895.40 398.08,895.40 398.68,895.40 399.28,895.40 399.87,895.40 400.47,895.40 401.07,895.40 401.67,895.40 402.27,895.40 402.87,895.40 403.47,895.40 404.07,895.40 404.67,895.40 405.27,895.40 405.87,895.40 406.48,895.40 407.09,895.41 407.69,895.41 408.30,895.41 408.91,895.41 409.53,895.41 410.14,895.41 410.76,895.41 411.38,895.41 412.01,895.41 412.63,895.41 413.26,895.41 413.89,895.41 414.53,895.41 415.17,895.41 415.81,895.41 416.45,895.41 417.10,895.41 417.76,895.41 418.41,895.41 419.08,895.41 419.74,895.41 420.41,895.41 421.09,895.41 421.77,895.41 422.45,895.41 423.14,895.41 423.84,895.41 424.54,895.41 425.25,895.41 425.96,895.41 426.68,895.41 427.40,895.41 428.13,895.41 428.87,895.41 429.61,895.41 430.36,895.41 431.12,895.41 431.88,895.41 432.65,895.41 433.43,895.41 434.21,895.41 435.00,895.41 435.80,895.41 436.61,895.41 437.43,895.41 438.25,895.41 439.08,895.41 439.92,895.41 440.77,895.41 441.63,895.41 442.49,895.41 443.37,895.41 444.25,895.41 445.15,895.41 446.05,895.40 446.96,895.40 447.88,895.40 448.82,895.40 449.76,895.40 450.71,895.40 451.67,895.40 452.64,895.40 453.63,895.40 454.62,895.40 455.63,895.39 456.64,895.39 457.67,895.39 458.71,895.39 459.76,895.39 460.82,895.39 461.89,895.39 462.97,895.39 464.07,895.38 465.18,895.38 466.29,895.38 467.42,895.38 468.56,895.38 469.71,895.38 470.87,895.37 472.04,895.37 473.22,895.37 474.41,895.37 475.61,895.37 476.83,895.36 478.05,895.36 479.28,895.36 480.52,895.36 481.77,895.35 483.03,895.35 484.30,895.35 485.57,895.35 486.86,895.35 488.16,895.34 489.46,895.34 490.77,895.34 492.09,895.34 493.43,895.33 494.76,895.33 496.11,895.33 497.47,895.33 498.83,895.32 500.20,895.32 501.58,895.32 502.96,895.31 504.36,895.31 505.76,895.31 507.17,895.31 508.58,895.30 510.01,895.30 511.43,895.30 512.87,895.29 514.31,895.29 515.76,895.29 517.22,895.28 518.68,895.28 520.15,895.28 521.63,895.28 523.11,895.27 524.60,895.27 526.09,895.27 527.59,895.26 529.09,895.26 530.60,895.26 532.11,895.25 533.63,895.25 535.16,895.25 536.69,895.24 538.22,895.24 539.76,895.24 541.31,895.23 542.86,895.23 544.41,895.22 545.97,895.22 547.53,895.22 549.10,895.21 550.67,895.21 552.24,895.21 553.82,895.20 555.40,895.20 556.98,895.20 558.57,895.19 560.16,895.19 561.75,895.19 563.35,895.18 564.95,895.18 566.55,895.17 568.16,895.17 569.77,895.17 571.38,895.16 572.99,895.16 574.61,895.16 576.22,895.15 577.84,895.15 579.46,895.14 581.09,895.14 582.71,895.14 584.34,895.13 585.96,895.13 587.59,895.13 589.22,895.12 590.85,895.12 592.48,895.11 594.11,895.11 595.75,895.11 597.38,895.10 599.02,895.10 600.65,895.09 602.28,895.09 603.92,895.09" fill="none" stroke="#808000" stroke-width="4.0" stroke-linejoin="round"/>
<polygon points="171.43,886.09 180.73,895.39 171.43,904.69 162.13,895.39" fill="#808000"/>
<polygon points="243.51,886.09 252.81,895.39 243.51,904.69 234.21,895.39" fill="#808000"/>
<polygon points="315.59,886.09 324.89,895.39 315.59,904.69 306.29,895.39" fill="#808000"/>
<polygon points="387.68,886.09 396.98,895.39 387.68,904.69 378.38,895.39" fill="#808000"/>
<polygon points="459.76,886.09 469.06,895.39 459.76,904.69 450.46,895.39" fill="#808000"/>
<polygon points="603.92,885.79 613.22,895.09 603.92,904.39 594.62,895.09" fill="#808000"/>
<line x1="142.60" y1="1370.61" x2="151.10" y2="1370.61" stroke="#000" stroke-width="2.4"/>
<text class="t" x="116.32" y="1379.11" font-size="25.5">0</text>
<line x1="142.60" y1="1350.44" x2="148.90" y2="1350.44" stroke="#000" stroke-width="2.4"/>
<line x1="142.60" y1="1330.27" x2="148.90" y2="1330.27" stroke="#000" stroke-width="2.4"/>
<line x1="142.60" y1="1310.10" x2="148.90" y2="1310.10" stroke="#000" stroke-width="2.4"/>
<line x1="142.60" y1="1289.93" x2="148.90" y2="1289.93" stroke="#000" stroke-width="2.4"/>
<line x1="142.60" y1="1269.76" x2="151.10" y2="1269.76" stroke="#000" stroke-width="2.4"/>
<text class="t" x="87.95" y="1278.26" font-size="25.5"> 00</text><path transform="translate(87.95,1278.26) scale(0.01245,-0.01245)" d="M789,0L490,0L490,1040L138,830L138,1090L510,1430L789,1430Z"/>
<line x1="142.60" y1="1249.59" x2="148.90" y2="1249.59" stroke="#000" stroke-width="2.4"/>
<line x1="142.60" y1="1229.42" x2="148.90" y2="1229.42" stroke="#000" stroke-width="2.4"/>
<line x1="142.60" y1="1209.25" x2="148.90" y2="1209.25" stroke="#000" stroke-width="2.4"/>
<line x1="142.60" y1="1189.08" x2="148.90" y2="1189.08" stroke="#000" stroke-width="2.4"/>
<line x1="142.60" y1="1168.91" x2="151.10" y2="1168.91" stroke="#000" stroke-width="2.4"/>
<text class="t" x="87.95" y="1177.41" font-size="25.5">200</text>
<line x1="142.60" y1="1148.74" x2="148.90" y2="1148.74" stroke="#000" stroke-width="2.4"/>
<line x1="142.60" y1="1128.57" x2="148.90" y2="1128.57" stroke="#000" stroke-width="2.4"/>
<line x1="142.60" y1="1108.40" x2="148.90" y2="1108.40" stroke="#000" stroke-width="2.4"/>
<line x1="142.60" y1="1088.22" x2="148.90" y2="1088.22" stroke="#000" stroke-width="2.4"/>
<line x1="142.60" y1="1068.05" x2="151.10" y2="1068.05" stroke="#000" stroke-width="2.4"/>
<text class="t" x="87.95" y="1076.55" font-size="25.5">300</text>
<line x1="142.60" y1="1047.88" x2="148.90" y2="1047.88" stroke="#000" stroke-width="2.4"/>
<line x1="142.60" y1="1027.71" x2="148.90" y2="1027.71" stroke="#000" stroke-width="2.4"/>
<line x1="142.60" y1="1007.54" x2="148.90" y2="1007.54" stroke="#000" stroke-width="2.4"/>
<line x1="142.60" y1="987.37" x2="148.90" y2="987.37" stroke="#000" stroke-width="2.4"/>
<text class="t" x="87.95" y="975.70" font-size="25.5">400</text>
<line x1="171.43" y1="1380.70" x2="171.43" y2="1373.20" stroke="#000" stroke-width="2.4"/>
<text class="t" x="164.64" y="1416.20" font-size="25.5">0</text>
<line x1="200.26" y1="1380.70" x2="200.26" y2="1374.90" stroke="#000" stroke-width="2.4"/>
<line x1="229.10" y1="1380.70" x2="229.10" y2="1374.90" stroke="#000" stroke-width="2.4"/>
<line x1="257.93" y1="1380.70" x2="257.93" y2="1374.90" stroke="#000" stroke-width="2.4"/>
<line x1="286.76" y1="1380.70" x2="286.76" y2="1374.90" stroke="#000" stroke-width="2.4"/>
<line x1="315.59" y1="1380.70" x2="315.59" y2="1373.20" stroke="#000" stroke-width="2.4"/>
<text class="t" x="294.62" y="1416.20" font-size="25.5"> 00</text><path transform="translate(294.62,1416.20) scale(0.01245,-0.01245)" d="M789,0L490,0L490,1040L138,830L138,1090L510,1430L789,1430Z"/>
<line x1="344.43" y1="1380.70" x2="344.43" y2="1374.90" stroke="#000" stroke-width="2.4"/>
<line x1="373.26" y1="1380.70" x2="373.26" y2="1374.90" stroke="#000" stroke-width="2.4"/>
<line x1="402.09" y1="1380.70" x2="402.09" y2="1374.90" stroke="#000" stroke-width="2.4"/>
<line x1="430.92" y1="1380.70" x2="430.92" y2="1374.90" stroke="#000" stroke-width="2.4"/>
<line x1="459.76" y1="1380.70" x2="459.76" y2="1373.20" stroke="#000" stroke-width="2.4"/>
<text class="t" x="438.78" y="1416.20" font-size="25.5">200</text>
<line x1="488.59" y1="1380.70" x2="488.59" y2="1374.90" stroke="#000" stroke-width="2.4"/>
<line x1="517.42" y1="1380.70" x2="517.42" y2="1374.90" stroke="#000" stroke-width="2.4"/>
<line x1="546.25" y1="1380.70" x2="546.25" y2="1374.90" stroke="#000" stroke-width="2.4"/>
<line x1="575.09" y1="1380.70" x2="575.09" y2="1374.90" stroke="#000" stroke-width="2.4"/>
<line x1="603.92" y1="1380.70" x2="603.92" y2="1373.20" stroke="#000" stroke-width="2.4"/>
<text class="t" x="582.95" y="1416.20" font-size="25.5">300</text>
<line x1="632.75" y1="1380.70" x2="632.75" y2="1374.90" stroke="#000" stroke-width="2.4"/>
<line x1="661.58" y1="1380.70" x2="661.58" y2="1374.90" stroke="#000" stroke-width="2.4"/>
<rect x="142.60" y="967.20" width="533.40" height="413.50" fill="none" stroke="#000" stroke-width="3.8"/>
<text class="t" transform="translate(370,1037.8) scale(1,1.04)" font-size="42" text-anchor="middle">(C)</text>
<polyline points="171.43,1074.61 172.16,1076.56 172.88,1078.50 173.61,1080.45 174.33,1082.40 175.05,1084.34 175.78,1086.29 176.50,1088.23 177.23,1090.17 177.95,1092.11 178.67,1094.05 179.40,1095.98 180.12,1097.92 180.85,1099.85 181.57,1101.78 182.30,1103.70 183.02,1105.63 183.74,1107.55 184.47,1109.46 185.19,1111.38 185.91,1113.28 186.64,1115.19 187.36,1117.09 188.09,1118.99 188.81,1120.88 189.53,1122.76 190.26,1124.64 190.98,1126.52 191.70,1128.39 192.43,1130.26 193.15,1132.11 193.87,1133.97 194.60,1135.81 195.32,1137.65 196.04,1139.49 196.77,1141.31 197.49,1143.13 198.21,1144.94 198.94,1146.75 199.66,1148.55 200.38,1150.33 201.10,1152.12 201.83,1153.89 202.55,1155.65 203.27,1157.41 203.99,1159.15 204.71,1160.89 205.44,1162.62 206.16,1164.34 206.88,1166.04 207.60,1167.74 208.32,1169.43 209.05,1171.11 209.77,1172.78 210.49,1174.43 211.21,1176.08 211.93,1177.71 212.65,1179.33 213.37,1180.95 214.09,1182.55 214.81,1184.13 215.53,1185.71 216.25,1187.27 216.97,1188.82 217.69,1190.36 218.41,1191.88 219.13,1193.40 219.85,1194.89 220.57,1196.38 221.29,1197.85 222.01,1199.30 222.73,1200.75 223.45,1202.17 224.17,1203.59 224.89,1204.99 225.61,1206.37 226.32,1207.74 227.04,1209.09 227.76,1210.43 228.48,1211.75 229.20,1213.05 229.91,1214.34 230.63,1215.61 231.35,1216.87 232.07,1218.11 232.78,1219.33 233.50,1220.54 234.22,1221.72 234.93,1222.89 235.65,1224.04 236.36,1225.18 237.08,1226.29 237.80,1227.39 238.51,1228.47 239.23,1229.53 239.94,1230.57 240.66,1231.59 241.37,1232.59 242.09,1233.57 242.80,1234.53 243.51,1235.47 244.23,1236.39 244.94,1237.29 245.65,1238.17 246.37,1239.03 247.08,1239.88 247.79,1240.70 248.51,1241.50 249.22,1242.28 249.93,1243.05 250.64,1243.79 251.36,1244.52 252.07,1245.23 252.78,1245.92 253.49,1246.59 254.20,1247.24 254.92,1247.88 255.63,1248.49 256.34,1249.09 257.05,1249.67 257.76,1250.24 258.48,1250.79 259.19,1251.32 259.90,1251.83 260.61,1252.33 261.32,1252.81 262.04,1253.27 262.75,1253.72 263.46,1254.15 264.17,1254.57 264.88,1254.97 265.60,1255.35 266.31,1255.72 267.02,1256.07 267.73,1256.41 268.45,1256.73 269.16,1257.04 269.87,1257.34 270.59,1257.62 271.30,1257.88 272.01,1258.13 272.73,1258.37 273.44,1258.59 274.16,1258.80 274.87,1259.00 275.59,1259.18 276.30,1259.35 277.02,1259.50 277.73,1259.65 278.45,1259.78 279.17,1259.89 279.88,1260.00 280.60,1260.09 281.32,1260.17 282.03,1260.24 282.75,1260.30 283.47,1260.34 284.19,1260.37 284.91,1260.40 285.63,1260.41 286.35,1260.41 287.07,1260.40 287.79,1260.37 288.51,1260.34 289.23,1260.30 289.95,1260.24 290.68,1260.18 291.40,1260.11 292.12,1260.02 292.85,1259.93 293.57,1259.83 294.30,1259.72 295.02,1259.60 295.75,1259.47 296.48,1259.33 297.20,1259.18 297.93,1259.02 298.66,1258.86 299.39,1258.69 300.12,1258.51 300.85,1258.32 301.58,1258.12 302.31,1257.92 303.04,1257.71 303.77,1257.49 304.51,1257.26 305.24,1257.03 305.98,1256.79 306.71,1256.54 307.45,1256.29 308.18,1256.03 308.92,1255.76 309.66,1255.49 310.40,1255.21 311.14,1254.93 311.88,1254.64 312.62,1254.35 313.36,1254.05 314.11,1253.74 314.85,1253.43 315.59,1253.12 316.34,1252.80 317.09,1252.48 317.83,1252.15 318.58,1251.82 319.33,1251.48 320.08,1251.14 320.83,1250.80 321.58,1250.46 322.33,1250.11 323.08,1249.76 323.83,1249.41 324.58,1249.05 325.33,1248.70 326.09,1248.34 326.84,1247.98 327.59,1247.62 328.35,1247.26 329.10,1246.89 329.85,1246.53 330.61,1246.17 331.36,1245.81 332.11,1245.44 332.87,1245.08 333.62,1244.72 334.37,1244.36 335.13,1244.00 335.88,1243.64 336.63,1243.28 337.39,1242.93 338.14,1242.58 338.89,1242.23 339.64,1241.88 340.39,1241.53 341.14,1241.19 341.89,1240.85 342.64,1240.52 343.39,1240.19 344.14,1239.86 344.89,1239.54 345.64,1239.22 346.38,1238.90 347.13,1238.59 347.87,1238.29 348.62,1237.99 349.36,1237.70 350.10,1237.41 350.84,1237.13 351.58,1236.85 352.32,1236.58 353.06,1236.32 353.79,1236.06 354.53,1235.82 355.26,1235.57 356.00,1235.34 356.73,1235.12 357.46,1234.90 358.19,1234.69 358.92,1234.49 359.64,1234.30 360.37,1234.12 361.09,1233.94 361.81,1233.78 362.53,1233.63 363.25,1233.48 363.97,1233.35 364.68,1233.22 365.39,1233.11 366.10,1233.01 366.81,1232.92 367.52,1232.84 368.23,1232.77 368.93,1232.72 369.63,1232.67 370.33,1232.64 371.03,1232.62 371.72,1232.61 372.42,1232.62 373.11,1232.64 373.80,1232.67 374.48,1232.72 375.17,1232.78 375.85,1232.86 376.53,1232.95 377.21,1233.05 377.88,1233.17 378.55,1233.30 379.22,1233.45 379.89,1233.61 380.55,1233.79 381.22,1233.99 381.87,1234.20 382.53,1234.43 383.18,1234.68 383.83,1234.94 384.48,1235.22 385.13,1235.52 385.77,1235.83 386.41,1236.16 387.04,1236.51 387.68,1236.88 388.31,1237.27 388.93,1237.68 389.56,1238.10 390.18,1238.54 390.80,1239.00 391.41,1239.47 392.03,1239.96 392.64,1240.46 393.25,1240.98 393.86,1241.52 394.46,1242.07 395.07,1242.63 395.67,1243.21 396.27,1243.80 396.88,1244.40 397.48,1245.01 398.08,1245.64 398.68,1246.28 399.28,1246.93 399.87,1247.59 400.47,1248.25 401.07,1248.93 401.67,1249.62 402.27,1250.32 402.87,1251.02 403.47,1251.74 404.07,1252.46 404.67,1253.19 405.27,1253.92 405.87,1254.66 406.48,1255.41 407.09,1256.16 407.69,1256.92 408.30,1257.68 408.91,1258.45 409.53,1259.22 410.14,1260.00 410.76,1260.77 411.38,1261.55 412.01,1262.33 412.63,1263.12 413.26,1263.90 413.89,1264.69 414.53,1265.47 415.17,1266.26 415.81,1267.04 416.45,1267.83 417.10,1268.61 417.76,1269.39 418.41,1270.17 419.08,1270.95 419.74,1271.72 420.41,1272.49 421.09,1273.26 421.77,1274.02 422.45,1274.78 423.14,1275.54 423.84,1276.28 424.54,1277.03 425.25,1277.76 425.96,1278.49 426.68,1279.21 427.40,1279.93 428.13,1280.63 428.87,1281.33 429.61,1282.02 430.36,1282.70 431.12,1283.37 431.88,1284.03 432.65,1284.68 433.43,1285.32 434.21,1285.94 435.00,1286.56 435.80,1287.16 436.61,1287.75 437.43,1288.33 438.25,1288.89 439.08,1289.45 439.92,1289.98 440.77,1290.50 441.63,1291.01 442.49,1291.50 443.37,1291.97 444.25,1292.43 445.15,1292.87 446.05,1293.30 446.96,1293.70 447.88,1294.09 448.82,1294.46 449.76,1294.81 450.71,1295.15 451.67,1295.46 452.64,1295.75 453.63,1296.02 454.62,1296.27 455.63,1296.50 456.64,1296.71 457.67,1296.89 458.71,1297.05 459.76,1297.19 460.82,1297.31 461.89,1297.40 462.97,1297.47 464.07,1297.52 465.18,1297.54 466.29,1297.54 467.42,1297.52 468.56,1297.48 469.71,1297.41 470.87,1297.33 472.04,1297.22 473.22,1297.09 474.41,1296.94 475.61,1296.77 476.83,1296.58 478.05,1296.38 479.28,1296.15 480.52,1295.90 481.77,1295.63 483.03,1295.34 484.30,1295.04 485.57,1294.71 486.86,1294.37 488.16,1294.01 489.46,1293.63 490.77,1293.23 492.09,1292.82 493.43,1292.39 494.76,1291.94 496.11,1291.47 497.47,1290.99 498.83,1290.49 500.20,1289.98 501.58,1289.45 502.96,1288.91 504.36,1288.35 505.76,1287.77 507.17,1287.18 508.58,1286.58 510.01,1285.96 511.43,1285.32 512.87,1284.68 514.31,1284.02 515.76,1283.34 517.22,1282.65 518.68,1281.95 520.15,1281.24 521.63,1280.52 523.11,1279.78 524.60,1279.03 526.09,1278.27 527.59,1277.49 529.09,1276.71 530.60,1275.91 532.11,1275.11 533.63,1274.29 535.16,1273.46 536.69,1272.63 538.22,1271.78 539.76,1270.92 541.31,1270.06 542.86,1269.18 544.41,1268.30 545.97,1267.40 547.53,1266.50 549.10,1265.59 550.67,1264.67 552.24,1263.75 553.82,1262.82 555.40,1261.87 556.98,1260.93 558.57,1259.97 560.16,1259.01 561.75,1258.05 563.35,1257.07 564.95,1256.09 566.55,1255.11 568.16,1254.12 569.77,1253.12 571.38,1252.12 572.99,1251.12 574.61,1250.11 576.22,1249.09 577.84,1248.07 579.46,1247.05 581.09,1246.03 582.71,1245.00 584.34,1243.97 585.96,1242.93 587.59,1241.90 589.22,1240.86 590.85,1239.82 592.48,1238.77 594.11,1237.73 595.75,1236.68 597.38,1235.63 599.02,1234.59 600.65,1233.54 602.28,1232.49 603.92,1231.44" fill="none" stroke="#000000" stroke-width="4.0" stroke-linejoin="round"/>
<circle cx="171.43" cy="1074.61" r="8.10" fill="#000000"/>
<circle cx="243.51" cy="1235.47" r="8.10" fill="#000000"/>
<circle cx="315.59" cy="1253.12" r="8.10" fill="#000000"/>
<circle cx="387.68" cy="1236.88" r="8.10" fill="#000000"/>
<circle cx="459.76" cy="1297.19" r="8.10" fill="#000000"/>
<circle cx="603.92" cy="1231.44" r="8.10" fill="#000000"/>
<polyline points="171.43,1154.28 172.16,1155.63 172.88,1156.98 173.61,1158.33 174.33,1159.68 175.05,1161.03 175.78,1162.38 176.50,1163.72 177.23,1165.07 177.95,1166.41 178.67,1167.76 179.40,1169.10 180.12,1170.44 180.85,1171.78 181.57,1173.11 182.30,1174.45 183.02,1175.78 183.74,1177.11 184.47,1178.44 185.19,1179.76 185.91,1181.08 186.64,1182.40 187.36,1183.72 188.09,1185.03 188.81,1186.34 189.53,1187.64 190.26,1188.95 190.98,1190.24 191.70,1191.54 192.43,1192.83 193.15,1194.11 193.87,1195.39 194.60,1196.67 195.32,1197.94 196.04,1199.21 196.77,1200.47 197.49,1201.73 198.21,1202.98 198.94,1204.23 199.66,1205.47 200.38,1206.70 201.10,1207.93 201.83,1209.16 202.55,1210.37 203.27,1211.58 203.99,1212.79 204.71,1213.98 205.44,1215.17 206.16,1216.36 206.88,1217.53 207.60,1218.70 208.32,1219.87 209.05,1221.02 209.77,1222.17 210.49,1223.31 211.21,1224.44 211.93,1225.56 212.65,1226.67 213.37,1227.78 214.09,1228.88 214.81,1229.97 215.53,1231.05 216.25,1232.12 216.97,1233.18 217.69,1234.23 218.41,1235.28 219.13,1236.31 219.85,1237.34 220.57,1238.35 221.29,1239.35 222.01,1240.35 222.73,1241.33 223.45,1242.31 224.17,1243.27 224.89,1244.22 225.61,1245.16 226.32,1246.09 227.04,1247.01 227.76,1247.92 228.48,1248.81 229.20,1249.70 229.91,1250.57 230.63,1251.43 231.35,1252.28 232.07,1253.12 232.78,1253.94 233.50,1254.75 234.22,1255.55 234.93,1256.34 235.65,1257.11 236.36,1257.87 237.08,1258.62 237.80,1259.35 238.51,1260.07 239.23,1260.78 239.94,1261.47 240.66,1262.15 241.37,1262.81 242.09,1263.46 242.80,1264.10 243.51,1264.72 244.23,1265.32 244.94,1265.92 245.65,1266.49 246.37,1267.06 247.08,1267.60 247.79,1268.14 248.51,1268.66 249.22,1269.17 249.93,1269.66 250.64,1270.14 251.36,1270.61 252.07,1271.06 252.78,1271.50 253.49,1271.93 254.20,1272.34 254.92,1272.74 255.63,1273.13 256.34,1273.50 257.05,1273.87 257.76,1274.22 258.48,1274.56 259.19,1274.89 259.90,1275.20 260.61,1275.51 261.32,1275.80 262.04,1276.08 262.75,1276.35 263.46,1276.61 264.17,1276.86 264.88,1277.09 265.60,1277.32 266.31,1277.53 267.02,1277.74 267.73,1277.93 268.45,1278.12 269.16,1278.29 269.87,1278.46 270.59,1278.61 271.30,1278.76 272.01,1278.89 272.73,1279.02 273.44,1279.13 274.16,1279.24 274.87,1279.34 275.59,1279.43 276.30,1279.51 277.02,1279.58 277.73,1279.64 278.45,1279.70 279.17,1279.75 279.88,1279.78 280.60,1279.81 281.32,1279.84 282.03,1279.85 282.75,1279.86 283.47,1279.86 284.19,1279.85 284.91,1279.84 285.63,1279.82 286.35,1279.79 287.07,1279.75 287.79,1279.71 288.51,1279.66 289.23,1279.61 289.95,1279.55 290.68,1279.48 291.40,1279.41 292.12,1279.33 292.85,1279.24 293.57,1279.15 294.30,1279.06 295.02,1278.96 295.75,1278.85 296.48,1278.74 297.20,1278.62 297.93,1278.50 298.66,1278.38 299.39,1278.25 300.12,1278.11 300.85,1277.97 301.58,1277.83 302.31,1277.68 303.04,1277.53 303.77,1277.38 304.51,1277.22 305.24,1277.06 305.98,1276.89 306.71,1276.72 307.45,1276.55 308.18,1276.38 308.92,1276.20 309.66,1276.02 310.40,1275.84 311.14,1275.65 311.88,1275.47 312.62,1275.28 313.36,1275.09 314.11,1274.89 314.85,1274.70 315.59,1274.50 316.34,1274.30 317.09,1274.10 317.83,1273.90 318.58,1273.70 319.33,1273.50 320.08,1273.30 320.83,1273.09 321.58,1272.89 322.33,1272.68 323.08,1272.48 323.83,1272.27 324.58,1272.07 325.33,1271.86 326.09,1271.65 326.84,1271.45 327.59,1271.25 328.35,1271.04 329.10,1270.84 329.85,1270.64 330.61,1270.44 331.36,1270.24 332.11,1270.04 332.87,1269.84 333.62,1269.65 334.37,1269.46 335.13,1269.27 335.88,1269.08 336.63,1268.89 337.39,1268.71 338.14,1268.52 338.89,1268.34 339.64,1268.17 340.39,1267.99 341.14,1267.82 341.89,1267.66 342.64,1267.49 343.39,1267.33 344.14,1267.17 344.89,1267.02 345.64,1266.87 346.38,1266.72 347.13,1266.58 347.87,1266.45 348.62,1266.31 349.36,1266.18 350.10,1266.06 350.84,1265.94 351.58,1265.83 352.32,1265.72 353.06,1265.61 353.79,1265.52 354.53,1265.42 355.26,1265.33 356.00,1265.25 356.73,1265.18 357.46,1265.11 358.19,1265.04 358.92,1264.99 359.64,1264.94 360.37,1264.89 361.09,1264.85 361.81,1264.82 362.53,1264.80 363.25,1264.78 363.97,1264.77 364.68,1264.77 365.39,1264.78 366.10,1264.79 366.81,1264.81 367.52,1264.84 368.23,1264.87 368.93,1264.92 369.63,1264.97 370.33,1265.03 371.03,1265.11 371.72,1265.18 372.42,1265.27 373.11,1265.37 373.80,1265.48 374.48,1265.59 375.17,1265.72 375.85,1265.85 376.53,1265.99 377.21,1266.15 377.88,1266.31 378.55,1266.49 379.22,1266.67 379.89,1266.87 380.55,1267.07 381.22,1267.29 381.87,1267.51 382.53,1267.75 383.18,1268.00 383.83,1268.26 384.48,1268.53 385.13,1268.81 385.77,1269.11 386.41,1269.42 387.04,1269.73 387.68,1270.06 388.31,1270.41 388.93,1270.76 389.56,1271.13 390.18,1271.50 390.80,1271.89 391.41,1272.29 392.03,1272.70 392.64,1273.12 393.25,1273.54 393.86,1273.98 394.46,1274.43 395.07,1274.89 395.67,1275.35 396.27,1275.82 396.88,1276.30 397.48,1276.79 398.08,1277.29 398.68,1277.79 399.28,1278.30 399.87,1278.81 400.47,1279.34 401.07,1279.86 401.67,1280.40 402.27,1280.93 402.87,1281.48 403.47,1282.03 404.07,1282.58 404.67,1283.13 405.27,1283.69 405.87,1284.26 406.48,1284.82 407.09,1285.39 407.69,1285.96 408.30,1286.53 408.91,1287.11 409.53,1287.69 410.14,1288.26 410.76,1288.84 411.38,1289.42 412.01,1290.00 412.63,1290.58 413.26,1291.16 413.89,1291.74 414.53,1292.32 415.17,1292.90 415.81,1293.47 416.45,1294.05 417.10,1294.62 417.76,1295.19 418.41,1295.75 419.08,1296.32 419.74,1296.88 420.41,1297.43 421.09,1297.99 421.77,1298.54 422.45,1299.08 423.14,1299.62 423.84,1300.15 424.54,1300.68 425.25,1301.20 425.96,1301.72 426.68,1302.23 427.40,1302.73 428.13,1303.23 428.87,1303.72 429.61,1304.20 430.36,1304.68 431.12,1305.14 431.88,1305.60 432.65,1306.05 433.43,1306.49 434.21,1306.92 435.00,1307.34 435.80,1307.75 436.61,1308.15 437.43,1308.54 438.25,1308.92 439.08,1309.29 439.92,1309.65 440.77,1309.99 441.63,1310.32 442.49,1310.64 443.37,1310.95 444.25,1311.24 445.15,1311.52 446.05,1311.79 446.96,1312.05 447.88,1312.28 448.82,1312.51 449.76,1312.72 450.71,1312.91 451.67,1313.09 452.64,1313.26 453.63,1313.40 454.62,1313.54 455.63,1313.65 456.64,1313.75 457.67,1313.83 458.71,1313.89 459.76,1313.93 460.82,1313.96 461.89,1313.97 462.97,1313.96 464.07,1313.93 465.18,1313.89 466.29,1313.83 467.42,1313.75 468.56,1313.66 469.71,1313.54 470.87,1313.41 472.04,1313.27 473.22,1313.11 474.41,1312.93 475.61,1312.74 476.83,1312.53 478.05,1312.31 479.28,1312.07 480.52,1311.81 481.77,1311.54 483.03,1311.26 484.30,1310.96 485.57,1310.65 486.86,1310.32 488.16,1309.98 489.46,1309.63 490.77,1309.26 492.09,1308.87 493.43,1308.48 494.76,1308.07 496.11,1307.65 497.47,1307.22 498.83,1306.77 500.20,1306.31 501.58,1305.84 502.96,1305.36 504.36,1304.86 505.76,1304.36 507.17,1303.84 508.58,1303.31 510.01,1302.77 511.43,1302.22 512.87,1301.66 514.31,1301.08 515.76,1300.50 517.22,1299.91 518.68,1299.31 520.15,1298.69 521.63,1298.07 523.11,1297.44 524.60,1296.80 526.09,1296.15 527.59,1295.49 529.09,1294.82 530.60,1294.15 532.11,1293.46 533.63,1292.77 535.16,1292.07 536.69,1291.36 538.22,1290.64 539.76,1289.92 541.31,1289.19 542.86,1288.45 544.41,1287.71 545.97,1286.95 547.53,1286.20 549.10,1285.43 550.67,1284.66 552.24,1283.88 553.82,1283.10 555.40,1282.31 556.98,1281.52 558.57,1280.72 560.16,1279.92 561.75,1279.11 563.35,1278.30 564.95,1277.48 566.55,1276.65 568.16,1275.83 569.77,1275.00 571.38,1274.16 572.99,1273.32 574.61,1272.48 576.22,1271.64 577.84,1270.79 579.46,1269.94 581.09,1269.09 582.71,1268.23 584.34,1267.37 585.96,1266.51 587.59,1265.65 589.22,1264.78 590.85,1263.92 592.48,1263.05 594.11,1262.18 595.75,1261.31 597.38,1260.44 599.02,1259.57 600.65,1258.70 602.28,1257.83 603.92,1256.95" fill="none" stroke="#ff0000" stroke-width="4.0" stroke-linejoin="round"/>
<polygon points="163.18,1149.52 179.68,1149.52 171.43,1163.82" fill="#ff0000"/>
<polygon points="235.26,1259.95 251.76,1259.95 243.51,1274.25" fill="#ff0000"/>
<polygon points="307.34,1269.73 323.84,1269.73 315.59,1284.03" fill="#ff0000"/>
<polygon points="379.43,1265.30 395.93,1265.30 387.68,1279.60" fill="#ff0000"/>
<polygon points="451.51,1309.17 468.01,1309.17 459.76,1323.47" fill="#ff0000"/>
<polygon points="595.67,1252.19 612.17,1252.19 603.92,1266.49" fill="#ff0000"/>
<polyline points="171.43,1264.21 172.16,1264.76 172.88,1265.30 173.61,1265.84 174.33,1266.38 175.05,1266.92 175.78,1267.46 176.50,1268.00 177.23,1268.54 177.95,1269.08 178.67,1269.62 179.40,1270.16 180.12,1270.70 180.85,1271.23 181.57,1271.77 182.30,1272.31 183.02,1272.84 183.74,1273.38 184.47,1273.91 185.19,1274.44 185.91,1274.98 186.64,1275.51 187.36,1276.04 188.09,1276.57 188.81,1277.09 189.53,1277.62 190.26,1278.15 190.98,1278.67 191.70,1279.19 192.43,1279.72 193.15,1280.24 193.87,1280.76 194.60,1281.27 195.32,1281.79 196.04,1282.30 196.77,1282.82 197.49,1283.33 198.21,1283.84 198.94,1284.34 199.66,1284.85 200.38,1285.35 201.10,1285.85 201.83,1286.35 202.55,1286.85 203.27,1287.35 203.99,1287.84 204.71,1288.33 205.44,1288.82 206.16,1289.31 206.88,1289.79 207.60,1290.28 208.32,1290.76 209.05,1291.23 209.77,1291.71 210.49,1292.18 211.21,1292.65 211.93,1293.12 212.65,1293.58 213.37,1294.04 214.09,1294.50 214.81,1294.96 215.53,1295.41 216.25,1295.86 216.97,1296.31 217.69,1296.75 218.41,1297.19 219.13,1297.63 219.85,1298.06 220.57,1298.50 221.29,1298.92 222.01,1299.35 222.73,1299.77 223.45,1300.19 224.17,1300.60 224.89,1301.01 225.61,1301.42 226.32,1301.82 227.04,1302.22 227.76,1302.62 228.48,1303.01 229.20,1303.40 229.91,1303.79 230.63,1304.17 231.35,1304.55 232.07,1304.92 232.78,1305.29 233.50,1305.65 234.22,1306.01 234.93,1306.37 235.65,1306.72 236.36,1307.07 237.08,1307.41 237.80,1307.75 238.51,1308.09 239.23,1308.42 239.94,1308.74 240.66,1309.07 241.37,1309.38 242.09,1309.69 242.80,1310.00 243.51,1310.30 244.23,1310.60 244.94,1310.89 245.65,1311.18 246.37,1311.47 247.08,1311.74 247.79,1312.02 248.51,1312.29 249.22,1312.55 249.93,1312.81 250.64,1313.07 251.36,1313.32 252.07,1313.56 252.78,1313.81 253.49,1314.04 254.20,1314.28 254.92,1314.50 255.63,1314.73 256.34,1314.95 257.05,1315.16 257.76,1315.37 258.48,1315.58 259.19,1315.78 259.90,1315.98 260.61,1316.17 261.32,1316.36 262.04,1316.54 262.75,1316.73 263.46,1316.90 264.17,1317.07 264.88,1317.24 265.60,1317.41 266.31,1317.57 267.02,1317.72 267.73,1317.87 268.45,1318.02 269.16,1318.17 269.87,1318.31 270.59,1318.44 271.30,1318.57 272.01,1318.70 272.73,1318.83 273.44,1318.95 274.16,1319.06 274.87,1319.18 275.59,1319.28 276.30,1319.39 277.02,1319.49 277.73,1319.59 278.45,1319.68 279.17,1319.77 279.88,1319.86 280.60,1319.95 281.32,1320.03 282.03,1320.10 282.75,1320.17 283.47,1320.24 284.19,1320.31 284.91,1320.37 285.63,1320.43 286.35,1320.49 287.07,1320.54 287.79,1320.59 288.51,1320.63 289.23,1320.67 289.95,1320.71 290.68,1320.75 291.40,1320.78 292.12,1320.81 292.85,1320.84 293.57,1320.86 294.30,1320.88 295.02,1320.89 295.75,1320.91 296.48,1320.92 297.20,1320.93 297.93,1320.93 298.66,1320.93 299.39,1320.93 300.12,1320.92 300.85,1320.92 301.58,1320.91 302.31,1320.89 303.04,1320.88 303.77,1320.86 304.51,1320.84 305.24,1320.81 305.98,1320.78 306.71,1320.75 307.45,1320.72 308.18,1320.69 308.92,1320.65 309.66,1320.61 310.40,1320.56 311.14,1320.52 311.88,1320.47 312.62,1320.42 313.36,1320.36 314.11,1320.31 314.85,1320.25 315.59,1320.19 316.34,1320.12 317.09,1320.06 317.83,1319.99 318.58,1319.92 319.33,1319.85 320.08,1319.77 320.83,1319.70 321.58,1319.62 322.33,1319.54 323.08,1319.46 323.83,1319.38 324.58,1319.29 325.33,1319.21 326.09,1319.12 326.84,1319.03 327.59,1318.95 328.35,1318.86 329.10,1318.77 329.85,1318.67 330.61,1318.58 331.36,1318.49 332.11,1318.40 332.87,1318.31 333.62,1318.21 334.37,1318.12 335.13,1318.03 335.88,1317.93 336.63,1317.84 337.39,1317.74 338.14,1317.65 338.89,1317.56 339.64,1317.47 340.39,1317.38 341.14,1317.29 341.89,1317.20 342.64,1317.11 343.39,1317.02 344.14,1316.93 344.89,1316.84 345.64,1316.76 346.38,1316.68 347.13,1316.59 347.87,1316.51 348.62,1316.43 349.36,1316.36 350.10,1316.28 350.84,1316.21 351.58,1316.14 352.32,1316.07 353.06,1316.00 353.79,1315.93 354.53,1315.87 355.26,1315.81 356.00,1315.75 356.73,1315.70 357.46,1315.65 358.19,1315.60 358.92,1315.55 359.64,1315.51 360.37,1315.47 361.09,1315.43 361.81,1315.39 362.53,1315.36 363.25,1315.34 363.97,1315.31 364.68,1315.29 365.39,1315.28 366.10,1315.26 366.81,1315.26 367.52,1315.25 368.23,1315.25 368.93,1315.26 369.63,1315.26 370.33,1315.28 371.03,1315.29 371.72,1315.32 372.42,1315.34 373.11,1315.37 373.80,1315.41 374.48,1315.45 375.17,1315.50 375.85,1315.55 376.53,1315.61 377.21,1315.67 377.88,1315.74 378.55,1315.81 379.22,1315.89 379.89,1315.97 380.55,1316.06 381.22,1316.16 381.87,1316.26 382.53,1316.37 383.18,1316.48 383.83,1316.60 384.48,1316.73 385.13,1316.86 385.77,1317.00 386.41,1317.15 387.04,1317.30 387.68,1317.46 388.31,1317.63 388.93,1317.81 389.56,1317.99 390.18,1318.17 390.80,1318.37 391.41,1318.57 392.03,1318.77 392.64,1318.98 393.25,1319.20 393.86,1319.42 394.46,1319.65 395.07,1319.88 395.67,1320.12 396.27,1320.36 396.88,1320.61 397.48,1320.86 398.08,1321.12 398.68,1321.38 399.28,1321.64 399.87,1321.91 400.47,1322.18 401.07,1322.45 401.67,1322.73 402.27,1323.01 402.87,1323.30 403.47,1323.58 404.07,1323.87 404.67,1324.16 405.27,1324.46 405.87,1324.75 406.48,1325.05 407.09,1325.35 407.69,1325.65 408.30,1325.96 408.91,1326.26 409.53,1326.57 410.14,1326.87 410.76,1327.18 411.38,1327.49 412.01,1327.79 412.63,1328.10 413.26,1328.41 413.89,1328.72 414.53,1329.03 415.17,1329.33 415.81,1329.64 416.45,1329.95 417.10,1330.25 417.76,1330.56 418.41,1330.86 419.08,1331.16 419.74,1331.46 420.41,1331.76 421.09,1332.06 421.77,1332.35 422.45,1332.64 423.14,1332.93 423.84,1333.22 424.54,1333.51 425.25,1333.79 425.96,1334.07 426.68,1334.34 427.40,1334.61 428.13,1334.88 428.87,1335.15 429.61,1335.41 430.36,1335.66 431.12,1335.92 431.88,1336.16 432.65,1336.41 433.43,1336.65 434.21,1336.88 435.00,1337.11 435.80,1337.33 436.61,1337.55 437.43,1337.76 438.25,1337.97 439.08,1338.17 439.92,1338.37 440.77,1338.56 441.63,1338.74 442.49,1338.91 443.37,1339.08 444.25,1339.24 445.15,1339.40 446.05,1339.55 446.96,1339.69 447.88,1339.82 448.82,1339.95 449.76,1340.06 450.71,1340.17 451.67,1340.27 452.64,1340.36 453.63,1340.45 454.62,1340.52 455.63,1340.59 456.64,1340.65 457.67,1340.69 458.71,1340.73 459.76,1340.76 460.82,1340.78 461.89,1340.79 462.97,1340.79 464.07,1340.78 465.18,1340.76 466.29,1340.73 467.42,1340.70 468.56,1340.65 469.71,1340.60 470.87,1340.53 472.04,1340.46 473.22,1340.38 474.41,1340.29 475.61,1340.19 476.83,1340.08 478.05,1339.97 479.28,1339.84 480.52,1339.71 481.77,1339.57 483.03,1339.43 484.30,1339.27 485.57,1339.11 486.86,1338.94 488.16,1338.76 489.46,1338.57 490.77,1338.38 492.09,1338.18 493.43,1337.97 494.76,1337.76 496.11,1337.54 497.47,1337.31 498.83,1337.08 500.20,1336.84 501.58,1336.59 502.96,1336.34 504.36,1336.08 505.76,1335.81 507.17,1335.54 508.58,1335.26 510.01,1334.97 511.43,1334.68 512.87,1334.39 514.31,1334.08 515.76,1333.78 517.22,1333.46 518.68,1333.15 520.15,1332.82 521.63,1332.49 523.11,1332.16 524.60,1331.82 526.09,1331.48 527.59,1331.13 529.09,1330.78 530.60,1330.42 532.11,1330.06 533.63,1329.69 535.16,1329.32 536.69,1328.94 538.22,1328.57 539.76,1328.18 541.31,1327.80 542.86,1327.41 544.41,1327.01 545.97,1326.61 547.53,1326.21 549.10,1325.81 550.67,1325.40 552.24,1324.99 553.82,1324.57 555.40,1324.15 556.98,1323.73 558.57,1323.31 560.16,1322.89 561.75,1322.46 563.35,1322.03 564.95,1321.59 566.55,1321.16 568.16,1320.72 569.77,1320.28 571.38,1319.83 572.99,1319.39 574.61,1318.94 576.22,1318.50 577.84,1318.05 579.46,1317.60 581.09,1317.14 582.71,1316.69 584.34,1316.23 585.96,1315.78 587.59,1315.32 589.22,1314.86 590.85,1314.40 592.48,1313.94 594.11,1313.48 595.75,1313.02 597.38,1312.56 599.02,1312.10 600.65,1311.63 602.28,1311.17 603.92,1310.71" fill="none" stroke="#800080" stroke-width="4.0" stroke-linejoin="round"/>
<polygon points="163.18,1268.98 179.68,1268.98 171.43,1254.68" fill="#800080"/>
<polygon points="235.26,1315.07 251.76,1315.07 243.51,1300.77" fill="#800080"/>
<polygon points="307.34,1324.95 323.84,1324.95 315.59,1310.65" fill="#800080"/>
<polygon points="379.43,1322.23 395.93,1322.23 387.68,1307.93" fill="#800080"/>
<polygon points="451.51,1345.53 468.01,1345.53 459.76,1331.23" fill="#800080"/>
<polygon points="595.67,1315.47 612.17,1315.47 603.92,1301.17" fill="#800080"/>
<polyline points="171.43,1319.28 172.16,1319.49 172.88,1319.70 173.61,1319.90 174.33,1320.11 175.05,1320.32 175.78,1320.53 176.50,1320.74 177.23,1320.94 177.95,1321.15 178.67,1321.36 179.40,1321.57 180.12,1321.77 180.85,1321.98 181.57,1322.19 182.30,1322.40 183.02,1322.60 183.74,1322.81 184.47,1323.01 185.19,1323.22 185.91,1323.43 186.64,1323.63 187.36,1323.84 188.09,1324.04 188.81,1324.25 189.53,1324.45 190.26,1324.66 190.98,1324.86 191.70,1325.06 192.43,1325.26 193.15,1325.47 193.87,1325.67 194.60,1325.87 195.32,1326.07 196.04,1326.27 196.77,1326.47 197.49,1326.67 198.21,1326.87 198.94,1327.07 199.66,1327.27 200.38,1327.47 201.10,1327.67 201.83,1327.86 202.55,1328.06 203.27,1328.26 203.99,1328.45 204.71,1328.65 205.44,1328.84 206.16,1329.03 206.88,1329.23 207.60,1329.42 208.32,1329.61 209.05,1329.80 209.77,1329.99 210.49,1330.18 211.21,1330.37 211.93,1330.56 212.65,1330.75 213.37,1330.93 214.09,1331.12 214.81,1331.30 215.53,1331.49 216.25,1331.67 216.97,1331.86 217.69,1332.04 218.41,1332.22 219.13,1332.40 219.85,1332.58 220.57,1332.76 221.29,1332.94 222.01,1333.11 222.73,1333.29 223.45,1333.46 224.17,1333.64 224.89,1333.81 225.61,1333.98 226.32,1334.15 227.04,1334.32 227.76,1334.49 228.48,1334.66 229.20,1334.83 229.91,1334.99 230.63,1335.16 231.35,1335.32 232.07,1335.49 232.78,1335.65 233.50,1335.81 234.22,1335.97 234.93,1336.13 235.65,1336.29 236.36,1336.44 237.08,1336.60 237.80,1336.75 238.51,1336.90 239.23,1337.06 239.94,1337.21 240.66,1337.35 241.37,1337.50 242.09,1337.65 242.80,1337.79 243.51,1337.94 244.23,1338.08 244.94,1338.22 245.65,1338.36 246.37,1338.50 247.08,1338.64 247.79,1338.77 248.51,1338.91 249.22,1339.04 249.93,1339.18 250.64,1339.31 251.36,1339.44 252.07,1339.56 252.78,1339.69 253.49,1339.82 254.20,1339.94 254.92,1340.06 255.63,1340.18 256.34,1340.30 257.05,1340.42 257.76,1340.54 258.48,1340.65 259.19,1340.77 259.90,1340.88 260.61,1340.99 261.32,1341.10 262.04,1341.21 262.75,1341.32 263.46,1341.42 264.17,1341.53 264.88,1341.63 265.60,1341.73 266.31,1341.83 267.02,1341.93 267.73,1342.03 268.45,1342.12 269.16,1342.22 269.87,1342.31 270.59,1342.40 271.30,1342.49 272.01,1342.58 272.73,1342.66 273.44,1342.75 274.16,1342.83 274.87,1342.91 275.59,1343.00 276.30,1343.07 277.02,1343.15 277.73,1343.23 278.45,1343.30 279.17,1343.37 279.88,1343.44 280.60,1343.51 281.32,1343.58 282.03,1343.65 282.75,1343.71 283.47,1343.78 284.19,1343.84 284.91,1343.90 285.63,1343.96 286.35,1344.01 287.07,1344.07 287.79,1344.12 288.51,1344.17 289.23,1344.22 289.95,1344.27 290.68,1344.32 291.40,1344.36 292.12,1344.41 292.85,1344.45 293.57,1344.49 294.30,1344.53 295.02,1344.57 295.75,1344.60 296.48,1344.63 297.20,1344.67 297.93,1344.70 298.66,1344.72 299.39,1344.75 300.12,1344.78 300.85,1344.80 301.58,1344.82 302.31,1344.84 303.04,1344.86 303.77,1344.88 304.51,1344.89 305.24,1344.90 305.98,1344.91 306.71,1344.92 307.45,1344.93 308.18,1344.94 308.92,1344.94 309.66,1344.94 310.40,1344.94 311.14,1344.94 311.88,1344.94 312.62,1344.93 313.36,1344.93 314.11,1344.92 314.85,1344.91 315.59,1344.90 316.34,1344.88 317.09,1344.87 317.83,1344.85 318.58,1344.83 319.33,1344.81 320.08,1344.79 320.83,1344.76 321.58,1344.74 322.33,1344.71 323.08,1344.68 323.83,1344.65 324.58,1344.62 325.33,1344.59 326.09,1344.56 326.84,1344.53 327.59,1344.49 328.35,1344.45 329.10,1344.42 329.85,1344.38 330.61,1344.34 331.36,1344.30 332.11,1344.26 332.87,1344.22 333.62,1344.18 334.37,1344.14 335.13,1344.10 335.88,1344.06 336.63,1344.01 337.39,1343.97 338.14,1343.93 338.89,1343.89 339.64,1343.84 340.39,1343.80 341.14,1343.76 341.89,1343.71 342.64,1343.67 343.39,1343.63 344.14,1343.58 344.89,1343.54 345.64,1343.50 346.38,1343.46 347.13,1343.42 347.87,1343.37 348.62,1343.33 349.36,1343.29 350.10,1343.26 350.84,1343.22 351.58,1343.18 352.32,1343.14 353.06,1343.11 353.79,1343.07 354.53,1343.04 355.26,1343.01 356.00,1342.97 356.73,1342.94 357.46,1342.91 358.19,1342.89 358.92,1342.86 359.64,1342.84 360.37,1342.81 361.09,1342.79 361.81,1342.77 362.53,1342.75 363.25,1342.73 363.97,1342.72 364.68,1342.70 365.39,1342.69 366.10,1342.68 366.81,1342.67 367.52,1342.67 368.23,1342.66 368.93,1342.66 369.63,1342.66 370.33,1342.66 371.03,1342.67 371.72,1342.67 372.42,1342.68 373.11,1342.69 373.80,1342.71 374.48,1342.73 375.17,1342.75 375.85,1342.77 376.53,1342.79 377.21,1342.82 377.88,1342.85 378.55,1342.88 379.22,1342.92 379.89,1342.96 380.55,1343.00 381.22,1343.05 381.87,1343.10 382.53,1343.15 383.18,1343.20 383.83,1343.26 384.48,1343.32 385.13,1343.39 385.77,1343.46 386.41,1343.53 387.04,1343.61 387.68,1343.69 388.31,1343.77 388.93,1343.86 389.56,1343.95 390.18,1344.04 390.80,1344.14 391.41,1344.24 392.03,1344.34 392.64,1344.45 393.25,1344.56 393.86,1344.67 394.46,1344.79 395.07,1344.91 395.67,1345.03 396.27,1345.15 396.88,1345.28 397.48,1345.41 398.08,1345.54 398.68,1345.67 399.28,1345.81 399.87,1345.95 400.47,1346.09 401.07,1346.23 401.67,1346.37 402.27,1346.52 402.87,1346.66 403.47,1346.81 404.07,1346.96 404.67,1347.11 405.27,1347.26 405.87,1347.42 406.48,1347.57 407.09,1347.73 407.69,1347.88 408.30,1348.04 408.91,1348.20 409.53,1348.36 410.14,1348.51 410.76,1348.67 411.38,1348.83 412.01,1348.99 412.63,1349.15 413.26,1349.31 413.89,1349.47 414.53,1349.63 415.17,1349.79 415.81,1349.95 416.45,1350.11 417.10,1350.27 417.76,1350.43 418.41,1350.59 419.08,1350.75 419.74,1350.90 420.41,1351.06 421.09,1351.22 421.77,1351.37 422.45,1351.52 423.14,1351.67 423.84,1351.82 424.54,1351.97 425.25,1352.12 425.96,1352.27 426.68,1352.41 427.40,1352.55 428.13,1352.69 428.87,1352.83 429.61,1352.97 430.36,1353.10 431.12,1353.23 431.88,1353.36 432.65,1353.49 433.43,1353.62 434.21,1353.74 435.00,1353.86 435.80,1353.98 436.61,1354.09 437.43,1354.20 438.25,1354.31 439.08,1354.42 439.92,1354.52 440.77,1354.62 441.63,1354.72 442.49,1354.81 443.37,1354.90 444.25,1354.98 445.15,1355.06 446.05,1355.14 446.96,1355.22 447.88,1355.29 448.82,1355.35 449.76,1355.42 450.71,1355.47 451.67,1355.53 452.64,1355.58 453.63,1355.62 454.62,1355.66 455.63,1355.70 456.64,1355.73 457.67,1355.75 458.71,1355.77 459.76,1355.79 460.82,1355.80 461.89,1355.81 462.97,1355.81 464.07,1355.80 465.18,1355.79 466.29,1355.78 467.42,1355.76 468.56,1355.74 469.71,1355.71 470.87,1355.68 472.04,1355.64 473.22,1355.60 474.41,1355.55 475.61,1355.50 476.83,1355.45 478.05,1355.39 479.28,1355.32 480.52,1355.26 481.77,1355.18 483.03,1355.11 484.30,1355.03 485.57,1354.94 486.86,1354.85 488.16,1354.76 489.46,1354.67 490.77,1354.57 492.09,1354.46 493.43,1354.36 494.76,1354.24 496.11,1354.13 497.47,1354.01 498.83,1353.89 500.20,1353.76 501.58,1353.64 502.96,1353.50 504.36,1353.37 505.76,1353.23 507.17,1353.09 508.58,1352.94 510.01,1352.80 511.43,1352.64 512.87,1352.49 514.31,1352.33 515.76,1352.17 517.22,1352.01 518.68,1351.84 520.15,1351.68 521.63,1351.51 523.11,1351.33 524.60,1351.16 526.09,1350.98 527.59,1350.80 529.09,1350.61 530.60,1350.43 532.11,1350.24 533.63,1350.05 535.16,1349.85 536.69,1349.66 538.22,1349.46 539.76,1349.26 541.31,1349.06 542.86,1348.86 544.41,1348.65 545.97,1348.44 547.53,1348.23 549.10,1348.02 550.67,1347.81 552.24,1347.60 553.82,1347.38 555.40,1347.16 556.98,1346.94 558.57,1346.72 560.16,1346.50 561.75,1346.28 563.35,1346.05 564.95,1345.83 566.55,1345.60 568.16,1345.37 569.77,1345.14 571.38,1344.91 572.99,1344.68 574.61,1344.45 576.22,1344.22 577.84,1343.98 579.46,1343.75 581.09,1343.51 582.71,1343.27 584.34,1343.04 585.96,1342.80 587.59,1342.56 589.22,1342.32 590.85,1342.08 592.48,1341.84 594.11,1341.60 595.75,1341.36 597.38,1341.12 599.02,1340.88 600.65,1340.64 602.28,1340.40 603.92,1340.16" fill="none" stroke="#0000ff" stroke-width="4.0" stroke-linejoin="round"/>
<polygon points="171.43,1327.73 164.11,1323.51 164.11,1315.06 171.43,1310.83 178.75,1315.06 178.75,1323.51" fill="#0000ff"/>
<polygon points="243.51,1346.39 236.20,1342.16 236.20,1333.71 243.51,1329.49 250.83,1333.71 250.83,1342.16" fill="#0000ff"/>
<polygon points="315.59,1353.35 308.28,1349.12 308.28,1340.67 315.59,1336.45 322.91,1340.67 322.91,1349.12" fill="#0000ff"/>
<polygon points="387.68,1352.14 380.36,1347.91 380.36,1339.46 387.68,1335.24 394.99,1339.46 394.99,1347.91" fill="#0000ff"/>
<polygon points="459.76,1364.24 452.44,1360.01 452.44,1351.56 459.76,1347.34 467.07,1351.56 467.07,1360.01" fill="#0000ff"/>
<polygon points="603.92,1348.61 596.60,1344.38 596.60,1335.93 603.92,1331.71 611.24,1335.93 611.24,1344.38" fill="#0000ff"/>
<polyline points="171.43,1339.75 172.16,1339.83 172.88,1339.91 173.61,1339.99 174.33,1340.07 175.05,1340.15 175.78,1340.23 176.50,1340.31 177.23,1340.39 177.95,1340.47 178.67,1340.55 179.40,1340.63 180.12,1340.71 180.85,1340.79 181.57,1340.87 182.30,1340.95 183.02,1341.03 183.74,1341.11 184.47,1341.19 185.19,1341.27 185.91,1341.35 186.64,1341.43 187.36,1341.51 188.09,1341.59 188.81,1341.67 189.53,1341.75 190.26,1341.83 190.98,1341.91 191.70,1341.99 192.43,1342.07 193.15,1342.15 193.87,1342.23 194.60,1342.31 195.32,1342.39 196.04,1342.47 196.77,1342.55 197.49,1342.63 198.21,1342.71 198.94,1342.79 199.66,1342.87 200.38,1342.95 201.10,1343.03 201.83,1343.11 202.55,1343.19 203.27,1343.26 203.99,1343.34 204.71,1343.42 205.44,1343.50 206.16,1343.58 206.88,1343.66 207.60,1343.74 208.32,1343.82 209.05,1343.90 209.77,1343.98 210.49,1344.06 211.21,1344.14 211.93,1344.22 212.65,1344.30 213.37,1344.38 214.09,1344.46 214.81,1344.54 215.53,1344.62 216.25,1344.70 216.97,1344.78 217.69,1344.86 218.41,1344.94 219.13,1345.02 219.85,1345.10 220.57,1345.18 221.29,1345.26 222.01,1345.34 222.73,1345.42 223.45,1345.50 224.17,1345.58 224.89,1345.65 225.61,1345.73 226.32,1345.81 227.04,1345.89 227.76,1345.97 228.48,1346.05 229.20,1346.13 229.91,1346.21 230.63,1346.29 231.35,1346.37 232.07,1346.45 232.78,1346.53 233.50,1346.61 234.22,1346.69 234.93,1346.77 235.65,1346.85 236.36,1346.93 237.08,1347.01 237.80,1347.09 238.51,1347.17 239.23,1347.24 239.94,1347.32 240.66,1347.40 241.37,1347.48 242.09,1347.56 242.80,1347.64 243.51,1347.72 244.23,1347.80 244.94,1347.88 245.65,1347.96 246.37,1348.04 247.08,1348.12 247.79,1348.20 248.51,1348.28 249.22,1348.35 249.93,1348.43 250.64,1348.51 251.36,1348.59 252.07,1348.67 252.78,1348.75 253.49,1348.82 254.20,1348.90 254.92,1348.98 255.63,1349.06 256.34,1349.13 257.05,1349.21 257.76,1349.29 258.48,1349.36 259.19,1349.44 259.90,1349.51 260.61,1349.59 261.32,1349.66 262.04,1349.74 262.75,1349.81 263.46,1349.88 264.17,1349.96 264.88,1350.03 265.60,1350.10 266.31,1350.17 267.02,1350.24 267.73,1350.31 268.45,1350.38 269.16,1350.45 269.87,1350.52 270.59,1350.59 271.30,1350.66 272.01,1350.72 272.73,1350.79 273.44,1350.86 274.16,1350.92 274.87,1350.99 275.59,1351.05 276.30,1351.11 277.02,1351.18 277.73,1351.24 278.45,1351.30 279.17,1351.36 279.88,1351.42 280.60,1351.48 281.32,1351.53 282.03,1351.59 282.75,1351.65 283.47,1351.70 284.19,1351.76 284.91,1351.81 285.63,1351.86 286.35,1351.92 287.07,1351.97 287.79,1352.02 288.51,1352.06 289.23,1352.11 289.95,1352.16 290.68,1352.21 291.40,1352.25 292.12,1352.29 292.85,1352.34 293.57,1352.38 294.30,1352.42 295.02,1352.46 295.75,1352.50 296.48,1352.54 297.20,1352.57 297.93,1352.61 298.66,1352.64 299.39,1352.67 300.12,1352.71 300.85,1352.74 301.58,1352.77 302.31,1352.79 303.04,1352.82 303.77,1352.85 304.51,1352.87 305.24,1352.89 305.98,1352.91 306.71,1352.93 307.45,1352.95 308.18,1352.97 308.92,1352.99 309.66,1353.00 310.40,1353.01 311.14,1353.03 311.88,1353.04 312.62,1353.05 313.36,1353.05 314.11,1353.06 314.85,1353.06 315.59,1353.07 316.34,1353.07 317.09,1353.07 317.83,1353.07 318.58,1353.06 319.33,1353.06 320.08,1353.05 320.83,1353.05 321.58,1353.04 322.33,1353.03 323.08,1353.02 323.83,1353.01 324.58,1352.99 325.33,1352.98 326.09,1352.96 326.84,1352.95 327.59,1352.93 328.35,1352.91 329.10,1352.90 329.85,1352.88 330.61,1352.86 331.36,1352.84 332.11,1352.82 332.87,1352.79 333.62,1352.77 334.37,1352.75 335.13,1352.72 335.88,1352.70 336.63,1352.68 337.39,1352.65 338.14,1352.63 338.89,1352.60 339.64,1352.57 340.39,1352.55 341.14,1352.52 341.89,1352.50 342.64,1352.47 343.39,1352.44 344.14,1352.42 344.89,1352.39 345.64,1352.36 346.38,1352.34 347.13,1352.31 347.87,1352.29 348.62,1352.26 349.36,1352.23 350.10,1352.21 350.84,1352.18 351.58,1352.16 352.32,1352.14 353.06,1352.11 353.79,1352.09 354.53,1352.07 355.26,1352.05 356.00,1352.02 356.73,1352.00 357.46,1351.98 358.19,1351.97 358.92,1351.95 359.64,1351.93 360.37,1351.91 361.09,1351.90 361.81,1351.88 362.53,1351.87 363.25,1351.86 363.97,1351.85 364.68,1351.84 365.39,1351.83 366.10,1351.82 366.81,1351.81 367.52,1351.81 368.23,1351.80 368.93,1351.80 369.63,1351.80 370.33,1351.80 371.03,1351.80 371.72,1351.81 372.42,1351.81 373.11,1351.82 373.80,1351.83 374.48,1351.84 375.17,1351.85 375.85,1351.86 376.53,1351.88 377.21,1351.89 377.88,1351.91 378.55,1351.94 379.22,1351.96 379.89,1351.98 380.55,1352.01 381.22,1352.04 381.87,1352.07 382.53,1352.11 383.18,1352.14 383.83,1352.18 384.48,1352.22 385.13,1352.26 385.77,1352.31 386.41,1352.36 387.04,1352.41 387.68,1352.46 388.31,1352.52 388.93,1352.57 389.56,1352.63 390.18,1352.70 390.80,1352.76 391.41,1352.83 392.03,1352.90 392.64,1352.97 393.25,1353.05 393.86,1353.12 394.46,1353.20 395.07,1353.28 395.67,1353.36 396.27,1353.45 396.88,1353.53 397.48,1353.62 398.08,1353.71 398.68,1353.80 399.28,1353.89 399.87,1353.98 400.47,1354.07 401.07,1354.17 401.67,1354.27 402.27,1354.37 402.87,1354.46 403.47,1354.57 404.07,1354.67 404.67,1354.77 405.27,1354.87 405.87,1354.98 406.48,1355.08 407.09,1355.19 407.69,1355.29 408.30,1355.40 408.91,1355.51 409.53,1355.61 410.14,1355.72 410.76,1355.83 411.38,1355.94 412.01,1356.05 412.63,1356.16 413.26,1356.27 413.89,1356.38 414.53,1356.49 415.17,1356.59 415.81,1356.70 416.45,1356.81 417.10,1356.92 417.76,1357.03 418.41,1357.14 419.08,1357.25 419.74,1357.35 420.41,1357.46 421.09,1357.56 421.77,1357.67 422.45,1357.77 423.14,1357.88 423.84,1357.98 424.54,1358.08 425.25,1358.18 425.96,1358.28 426.68,1358.38 427.40,1358.48 428.13,1358.58 428.87,1358.67 429.61,1358.77 430.36,1358.86 431.12,1358.95 431.88,1359.04 432.65,1359.13 433.43,1359.21 434.21,1359.30 435.00,1359.38 435.80,1359.46 436.61,1359.54 437.43,1359.62 438.25,1359.69 439.08,1359.77 439.92,1359.84 440.77,1359.91 441.63,1359.97 442.49,1360.04 443.37,1360.10 444.25,1360.16 445.15,1360.21 446.05,1360.27 446.96,1360.32 447.88,1360.37 448.82,1360.42 449.76,1360.46 450.71,1360.50 451.67,1360.54 452.64,1360.57 453.63,1360.61 454.62,1360.63 455.63,1360.66 456.64,1360.68 457.67,1360.70 458.71,1360.72 459.76,1360.73 460.82,1360.74 461.89,1360.75 462.97,1360.75 464.07,1360.75 465.18,1360.74 466.29,1360.74 467.42,1360.72 468.56,1360.71 469.71,1360.69 470.87,1360.67 472.04,1360.65 473.22,1360.62 474.41,1360.59 475.61,1360.56 476.83,1360.53 478.05,1360.49 479.28,1360.45 480.52,1360.40 481.77,1360.36 483.03,1360.31 484.30,1360.25 485.57,1360.20 486.86,1360.14 488.16,1360.08 489.46,1360.02 490.77,1359.95 492.09,1359.88 493.43,1359.81 494.76,1359.74 496.11,1359.66 497.47,1359.58 498.83,1359.50 500.20,1359.42 501.58,1359.34 502.96,1359.25 504.36,1359.16 505.76,1359.07 507.17,1358.97 508.58,1358.88 510.01,1358.78 511.43,1358.68 512.87,1358.58 514.31,1358.47 515.76,1358.37 517.22,1358.26 518.68,1358.15 520.15,1358.04 521.63,1357.92 523.11,1357.81 524.60,1357.69 526.09,1357.57 527.59,1357.45 529.09,1357.33 530.60,1357.20 532.11,1357.08 533.63,1356.95 535.16,1356.82 536.69,1356.69 538.22,1356.56 539.76,1356.43 541.31,1356.29 542.86,1356.16 544.41,1356.02 545.97,1355.88 547.53,1355.74 549.10,1355.60 550.67,1355.46 552.24,1355.32 553.82,1355.17 555.40,1355.03 556.98,1354.88 558.57,1354.73 560.16,1354.58 561.75,1354.43 563.35,1354.28 564.95,1354.13 566.55,1353.98 568.16,1353.83 569.77,1353.68 571.38,1353.52 572.99,1353.37 574.61,1353.21 576.22,1353.06 577.84,1352.90 579.46,1352.74 581.09,1352.58 582.71,1352.43 584.34,1352.27 585.96,1352.11 587.59,1351.95 589.22,1351.79 590.85,1351.63 592.48,1351.47 594.11,1351.31 595.75,1351.15 597.38,1350.99 599.02,1350.83 600.65,1350.67 602.28,1350.50 603.92,1350.34" fill="none" stroke="#ff00ff" stroke-width="4.0" stroke-linejoin="round"/>
<polygon points="164.33,1332.65 178.53,1332.65 178.53,1346.85 164.33,1346.85" fill="#ff00ff"/>
<polygon points="236.41,1340.62 250.61,1340.62 250.61,1354.82 236.41,1354.82" fill="#ff00ff"/>
<polygon points="308.49,1345.97 322.69,1345.97 322.69,1360.17 308.49,1360.17" fill="#ff00ff"/>
<polygon points="380.58,1345.36 394.78,1345.36 394.78,1359.56 380.58,1359.56" fill="#ff00ff"/>
<polygon points="452.66,1353.63 466.86,1353.63 466.86,1367.83 452.66,1367.83" fill="#ff00ff"/>
<polygon points="596.82,1343.24 611.02,1343.24 611.02,1357.44 596.82,1357.44" fill="#ff00ff"/>
<polyline points="171.43,1360.23 172.16,1360.22 172.88,1360.21 173.61,1360.20 174.33,1360.19 175.05,1360.18 175.78,1360.17 176.50,1360.16 177.23,1360.15 177.95,1360.15 178.67,1360.14 179.40,1360.13 180.12,1360.12 180.85,1360.11 181.57,1360.10 182.30,1360.09 183.02,1360.08 183.74,1360.08 184.47,1360.07 185.19,1360.06 185.91,1360.05 186.64,1360.04 187.36,1360.04 188.09,1360.03 188.81,1360.02 189.53,1360.01 190.26,1360.00 190.98,1360.00 191.70,1359.99 192.43,1359.98 193.15,1359.97 193.87,1359.97 194.60,1359.96 195.32,1359.95 196.04,1359.95 196.77,1359.94 197.49,1359.93 198.21,1359.93 198.94,1359.92 199.66,1359.92 200.38,1359.91 201.10,1359.90 201.83,1359.90 202.55,1359.89 203.27,1359.89 203.99,1359.88 204.71,1359.88 205.44,1359.87 206.16,1359.87 206.88,1359.87 207.60,1359.86 208.32,1359.86 209.05,1359.86 209.77,1359.85 210.49,1359.85 211.21,1359.85 211.93,1359.84 212.65,1359.84 213.37,1359.84 214.09,1359.84 214.81,1359.84 215.53,1359.83 216.25,1359.83 216.97,1359.83 217.69,1359.83 218.41,1359.83 219.13,1359.83 219.85,1359.83 220.57,1359.83 221.29,1359.83 222.01,1359.83 222.73,1359.84 223.45,1359.84 224.17,1359.84 224.89,1359.84 225.61,1359.84 226.32,1359.85 227.04,1359.85 227.76,1359.85 228.48,1359.86 229.20,1359.86 229.91,1359.87 230.63,1359.87 231.35,1359.88 232.07,1359.88 232.78,1359.89 233.50,1359.90 234.22,1359.90 234.93,1359.91 235.65,1359.92 236.36,1359.92 237.08,1359.93 237.80,1359.94 238.51,1359.95 239.23,1359.96 239.94,1359.97 240.66,1359.98 241.37,1359.99 242.09,1360.00 242.80,1360.01 243.51,1360.03 244.23,1360.04 244.94,1360.05 245.65,1360.06 246.37,1360.08 247.08,1360.09 247.79,1360.10 248.51,1360.12 249.22,1360.13 249.93,1360.15 250.64,1360.17 251.36,1360.18 252.07,1360.20 252.78,1360.21 253.49,1360.23 254.20,1360.25 254.92,1360.27 255.63,1360.28 256.34,1360.30 257.05,1360.32 257.76,1360.34 258.48,1360.36 259.19,1360.38 259.90,1360.40 260.61,1360.42 261.32,1360.44 262.04,1360.46 262.75,1360.48 263.46,1360.50 264.17,1360.52 264.88,1360.54 265.60,1360.56 266.31,1360.58 267.02,1360.61 267.73,1360.63 268.45,1360.65 269.16,1360.67 269.87,1360.69 270.59,1360.72 271.30,1360.74 272.01,1360.76 272.73,1360.78 273.44,1360.81 274.16,1360.83 274.87,1360.85 275.59,1360.88 276.30,1360.90 277.02,1360.92 277.73,1360.95 278.45,1360.97 279.17,1360.99 279.88,1361.02 280.60,1361.04 281.32,1361.06 282.03,1361.09 282.75,1361.11 283.47,1361.13 284.19,1361.16 284.91,1361.18 285.63,1361.20 286.35,1361.23 287.07,1361.25 287.79,1361.27 288.51,1361.30 289.23,1361.32 289.95,1361.34 290.68,1361.37 291.40,1361.39 292.12,1361.41 292.85,1361.43 293.57,1361.46 294.30,1361.48 295.02,1361.50 295.75,1361.52 296.48,1361.55 297.20,1361.57 297.93,1361.59 298.66,1361.61 299.39,1361.63 300.12,1361.65 300.85,1361.67 301.58,1361.70 302.31,1361.72 303.04,1361.74 303.77,1361.76 304.51,1361.78 305.24,1361.80 305.98,1361.82 306.71,1361.83 307.45,1361.85 308.18,1361.87 308.92,1361.89 309.66,1361.91 310.40,1361.93 311.14,1361.94 311.88,1361.96 312.62,1361.98 313.36,1361.99 314.11,1362.01 314.85,1362.03 315.59,1362.04 316.34,1362.06 317.09,1362.07 317.83,1362.09 318.58,1362.10 319.33,1362.11 320.08,1362.13 320.83,1362.14 321.58,1362.15 322.33,1362.17 323.08,1362.18 323.83,1362.19 324.58,1362.20 325.33,1362.22 326.09,1362.23 326.84,1362.24 327.59,1362.25 328.35,1362.26 329.10,1362.27 329.85,1362.28 330.61,1362.29 331.36,1362.30 332.11,1362.31 332.87,1362.32 333.62,1362.33 334.37,1362.34 335.13,1362.35 335.88,1362.36 336.63,1362.37 337.39,1362.38 338.14,1362.39 338.89,1362.40 339.64,1362.41 340.39,1362.42 341.14,1362.43 341.89,1362.44 342.64,1362.45 343.39,1362.45 344.14,1362.46 344.89,1362.47 345.64,1362.48 346.38,1362.49 347.13,1362.50 347.87,1362.51 348.62,1362.52 349.36,1362.53 350.10,1362.54 350.84,1362.55 351.58,1362.56 352.32,1362.57 353.06,1362.58 353.79,1362.59 354.53,1362.61 355.26,1362.62 356.00,1362.63 356.73,1362.64 357.46,1362.65 358.19,1362.66 358.92,1362.68 359.64,1362.69 360.37,1362.70 361.09,1362.71 361.81,1362.73 362.53,1362.74 363.25,1362.76 363.97,1362.77 364.68,1362.78 365.39,1362.80 366.10,1362.81 366.81,1362.83 367.52,1362.85 368.23,1362.86 368.93,1362.88 369.63,1362.90 370.33,1362.91 371.03,1362.93 371.72,1362.95 372.42,1362.97 373.11,1362.99 373.80,1363.01 374.48,1363.03 375.17,1363.05 375.85,1363.07 376.53,1363.09 377.21,1363.12 377.88,1363.14 378.55,1363.16 379.22,1363.19 379.89,1363.21 380.55,1363.24 381.22,1363.26 381.87,1363.29 382.53,1363.32 383.18,1363.34 383.83,1363.37 384.48,1363.40 385.13,1363.43 385.77,1363.46 386.41,1363.49 387.04,1363.52 387.68,1363.55 388.31,1363.59 388.93,1363.62 389.56,1363.66 390.18,1363.69 390.80,1363.73 391.41,1363.76 392.03,1363.80 392.64,1363.84 393.25,1363.87 393.86,1363.91 394.46,1363.95 395.07,1363.99 395.67,1364.03 396.27,1364.07 396.88,1364.11 397.48,1364.15 398.08,1364.19 398.68,1364.23 399.28,1364.27 399.87,1364.32 400.47,1364.36 401.07,1364.40 401.67,1364.44 402.27,1364.49 402.87,1364.53 403.47,1364.57 404.07,1364.61 404.67,1364.66 405.27,1364.70 405.87,1364.75 406.48,1364.79 407.09,1364.83 407.69,1364.88 408.30,1364.92 408.91,1364.96 409.53,1365.01 410.14,1365.05 410.76,1365.09 411.38,1365.13 412.01,1365.18 412.63,1365.22 413.26,1365.26 413.89,1365.30 414.53,1365.35 415.17,1365.39 415.81,1365.43 416.45,1365.47 417.10,1365.51 417.76,1365.55 418.41,1365.59 419.08,1365.63 419.74,1365.67 420.41,1365.71 421.09,1365.75 421.77,1365.78 422.45,1365.82 423.14,1365.86 423.84,1365.89 424.54,1365.93 425.25,1365.96 425.96,1366.00 426.68,1366.03 427.40,1366.06 428.13,1366.09 428.87,1366.12 429.61,1366.15 430.36,1366.18 431.12,1366.21 431.88,1366.24 432.65,1366.27 433.43,1366.29 434.21,1366.32 435.00,1366.34 435.80,1366.37 436.61,1366.39 437.43,1366.41 438.25,1366.43 439.08,1366.45 439.92,1366.47 440.77,1366.49 441.63,1366.51 442.49,1366.52 443.37,1366.53 444.25,1366.55 445.15,1366.56 446.05,1366.57 446.96,1366.58 447.88,1366.59 448.82,1366.59 449.76,1366.60 450.71,1366.60 451.67,1366.61 452.64,1366.61 453.63,1366.61 454.62,1366.61 455.63,1366.61 456.64,1366.60 457.67,1366.60 458.71,1366.59 459.76,1366.58 460.82,1366.57 461.89,1366.56 462.97,1366.55 464.07,1366.53 465.18,1366.52 466.29,1366.50 467.42,1366.48 468.56,1366.46 469.71,1366.44 470.87,1366.41 472.04,1366.39 473.22,1366.36 474.41,1366.34 475.61,1366.31 476.83,1366.28 478.05,1366.25 479.28,1366.21 480.52,1366.18 481.77,1366.14 483.03,1366.11 484.30,1366.07 485.57,1366.03 486.86,1365.99 488.16,1365.95 489.46,1365.91 490.77,1365.86 492.09,1365.82 493.43,1365.77 494.76,1365.73 496.11,1365.68 497.47,1365.63 498.83,1365.58 500.20,1365.53 501.58,1365.48 502.96,1365.42 504.36,1365.37 505.76,1365.31 507.17,1365.26 508.58,1365.20 510.01,1365.14 511.43,1365.08 512.87,1365.02 514.31,1364.96 515.76,1364.90 517.22,1364.84 518.68,1364.78 520.15,1364.71 521.63,1364.65 523.11,1364.58 524.60,1364.52 526.09,1364.45 527.59,1364.38 529.09,1364.31 530.60,1364.24 532.11,1364.17 533.63,1364.10 535.16,1364.03 536.69,1363.96 538.22,1363.88 539.76,1363.81 541.31,1363.74 542.86,1363.66 544.41,1363.59 545.97,1363.51 547.53,1363.43 549.10,1363.36 550.67,1363.28 552.24,1363.20 553.82,1363.12 555.40,1363.04 556.98,1362.96 558.57,1362.88 560.16,1362.80 561.75,1362.72 563.35,1362.64 564.95,1362.56 566.55,1362.48 568.16,1362.40 569.77,1362.31 571.38,1362.23 572.99,1362.15 574.61,1362.06 576.22,1361.98 577.84,1361.90 579.46,1361.81 581.09,1361.73 582.71,1361.64 584.34,1361.56 585.96,1361.47 587.59,1361.39 589.22,1361.30 590.85,1361.22 592.48,1361.13 594.11,1361.05 595.75,1360.96 597.38,1360.87 599.02,1360.79 600.65,1360.70 602.28,1360.62 603.92,1360.53" fill="none" stroke="#800000" stroke-width="4.0" stroke-linejoin="round"/>
<polygon points="171.43,1351.93 173.55,1357.31 179.33,1357.66 174.86,1361.34 176.31,1366.94 171.43,1363.83 166.55,1366.94 168.01,1361.34 163.54,1357.66 169.32,1357.31" fill="#800000"/>
<polygon points="243.51,1351.73 245.63,1357.11 251.41,1357.46 246.94,1361.14 248.39,1366.74 243.51,1363.62 238.63,1366.74 240.09,1361.14 235.62,1357.46 241.40,1357.11" fill="#800000"/>
<polygon points="315.59,1353.74 317.71,1359.13 323.49,1359.48 319.02,1363.15 320.47,1368.76 315.59,1365.64 310.72,1368.76 312.17,1363.15 307.70,1359.48 313.48,1359.13" fill="#800000"/>
<polygon points="387.68,1355.25 389.79,1360.64 395.57,1360.99 391.10,1364.67 392.55,1370.27 387.68,1367.15 382.80,1370.27 384.25,1364.67 379.78,1360.99 385.56,1360.64" fill="#800000"/>
<polygon points="459.76,1358.28 461.87,1363.67 467.65,1364.02 463.18,1367.69 464.64,1373.30 459.76,1370.18 454.88,1373.30 456.33,1367.69 451.86,1364.02 457.64,1363.67" fill="#800000"/>
<polygon points="603.92,1352.23 606.03,1357.62 611.81,1357.96 607.34,1361.64 608.80,1367.24 603.92,1364.13 599.04,1367.24 600.50,1361.64 596.03,1357.96 601.80,1357.62" fill="#800000"/>
<polyline points="171.43,1360.63 172.16,1360.64 172.88,1360.65 173.61,1360.65 174.33,1360.66 175.05,1360.67 175.78,1360.68 176.50,1360.68 177.23,1360.69 177.95,1360.70 178.67,1360.71 179.40,1360.71 180.12,1360.72 180.85,1360.73 181.57,1360.74 182.30,1360.74 183.02,1360.75 183.74,1360.76 184.47,1360.77 185.19,1360.78 185.91,1360.78 186.64,1360.79 187.36,1360.80 188.09,1360.81 188.81,1360.81 189.53,1360.82 190.26,1360.83 190.98,1360.84 191.70,1360.85 192.43,1360.85 193.15,1360.86 193.87,1360.87 194.60,1360.88 195.32,1360.89 196.04,1360.89 196.77,1360.90 197.49,1360.91 198.21,1360.92 198.94,1360.93 199.66,1360.94 200.38,1360.94 201.10,1360.95 201.83,1360.96 202.55,1360.97 203.27,1360.98 203.99,1360.99 204.71,1360.99 205.44,1361.00 206.16,1361.01 206.88,1361.02 207.60,1361.03 208.32,1361.04 209.05,1361.05 209.77,1361.05 210.49,1361.06 211.21,1361.07 211.93,1361.08 212.65,1361.09 213.37,1361.10 214.09,1361.11 214.81,1361.12 215.53,1361.13 216.25,1361.14 216.97,1361.15 217.69,1361.16 218.41,1361.16 219.13,1361.17 219.85,1361.18 220.57,1361.19 221.29,1361.20 222.01,1361.21 222.73,1361.22 223.45,1361.23 224.17,1361.24 224.89,1361.25 225.61,1361.26 226.32,1361.27 227.04,1361.28 227.76,1361.29 228.48,1361.30 229.20,1361.31 229.91,1361.32 230.63,1361.33 231.35,1361.35 232.07,1361.36 232.78,1361.37 233.50,1361.38 234.22,1361.39 234.93,1361.40 235.65,1361.41 236.36,1361.42 237.08,1361.43 237.80,1361.44 238.51,1361.46 239.23,1361.47 239.94,1361.48 240.66,1361.49 241.37,1361.50 242.09,1361.51 242.80,1361.53 243.51,1361.54 244.23,1361.55 244.94,1361.56 245.65,1361.57 246.37,1361.59 247.08,1361.60 247.79,1361.61 248.51,1361.62 249.22,1361.64 249.93,1361.65 250.64,1361.66 251.36,1361.68 252.07,1361.69 252.78,1361.70 253.49,1361.71 254.20,1361.73 254.92,1361.74 255.63,1361.75 256.34,1361.77 257.05,1361.78 257.76,1361.79 258.48,1361.81 259.19,1361.82 259.90,1361.83 260.61,1361.85 261.32,1361.86 262.04,1361.87 262.75,1361.89 263.46,1361.90 264.17,1361.91 264.88,1361.93 265.60,1361.94 266.31,1361.95 267.02,1361.97 267.73,1361.98 268.45,1361.99 269.16,1362.01 269.87,1362.02 270.59,1362.04 271.30,1362.05 272.01,1362.06 272.73,1362.08 273.44,1362.09 274.16,1362.10 274.87,1362.12 275.59,1362.13 276.30,1362.14 277.02,1362.16 277.73,1362.17 278.45,1362.18 279.17,1362.20 279.88,1362.21 280.60,1362.22 281.32,1362.24 282.03,1362.25 282.75,1362.26 283.47,1362.27 284.19,1362.29 284.91,1362.30 285.63,1362.31 286.35,1362.33 287.07,1362.34 287.79,1362.35 288.51,1362.36 289.23,1362.38 289.95,1362.39 290.68,1362.40 291.40,1362.41 292.12,1362.42 292.85,1362.44 293.57,1362.45 294.30,1362.46 295.02,1362.47 295.75,1362.48 296.48,1362.49 297.20,1362.51 297.93,1362.52 298.66,1362.53 299.39,1362.54 300.12,1362.55 300.85,1362.56 301.58,1362.57 302.31,1362.58 303.04,1362.59 303.77,1362.60 304.51,1362.61 305.24,1362.62 305.98,1362.63 306.71,1362.64 307.45,1362.65 308.18,1362.66 308.92,1362.67 309.66,1362.68 310.40,1362.69 311.14,1362.70 311.88,1362.71 312.62,1362.72 313.36,1362.72 314.11,1362.73 314.85,1362.74 315.59,1362.75 316.34,1362.76 317.09,1362.76 317.83,1362.77 318.58,1362.78 319.33,1362.78 320.08,1362.79 320.83,1362.80 321.58,1362.81 322.33,1362.81 323.08,1362.82 323.83,1362.83 324.58,1362.83 325.33,1362.84 326.09,1362.84 326.84,1362.85 327.59,1362.86 328.35,1362.86 329.10,1362.87 329.85,1362.87 330.61,1362.88 331.36,1362.89 332.11,1362.89 332.87,1362.90 333.62,1362.90 334.37,1362.91 335.13,1362.92 335.88,1362.92 336.63,1362.93 337.39,1362.93 338.14,1362.94 338.89,1362.95 339.64,1362.95 340.39,1362.96 341.14,1362.97 341.89,1362.97 342.64,1362.98 343.39,1362.99 344.14,1363.00 344.89,1363.00 345.64,1363.01 346.38,1363.02 347.13,1363.03 347.87,1363.03 348.62,1363.04 349.36,1363.05 350.10,1363.06 350.84,1363.07 351.58,1363.08 352.32,1363.09 353.06,1363.10 353.79,1363.10 354.53,1363.11 355.26,1363.13 356.00,1363.14 356.73,1363.15 357.46,1363.16 358.19,1363.17 358.92,1363.18 359.64,1363.19 360.37,1363.20 361.09,1363.22 361.81,1363.23 362.53,1363.24 363.25,1363.26 363.97,1363.27 364.68,1363.29 365.39,1363.30 366.10,1363.32 366.81,1363.33 367.52,1363.35 368.23,1363.36 368.93,1363.38 369.63,1363.40 370.33,1363.42 371.03,1363.43 371.72,1363.45 372.42,1363.47 373.11,1363.49 373.80,1363.51 374.48,1363.53 375.17,1363.55 375.85,1363.57 376.53,1363.60 377.21,1363.62 377.88,1363.64 378.55,1363.67 379.22,1363.69 379.89,1363.72 380.55,1363.74 381.22,1363.77 381.87,1363.79 382.53,1363.82 383.18,1363.85 383.83,1363.88 384.48,1363.90 385.13,1363.93 385.77,1363.96 386.41,1364.00 387.04,1364.03 387.68,1364.06 388.31,1364.09 388.93,1364.13 389.56,1364.16 390.18,1364.19 390.80,1364.23 391.41,1364.27 392.03,1364.30 392.64,1364.34 393.25,1364.38 393.86,1364.41 394.46,1364.45 395.07,1364.49 395.67,1364.53 396.27,1364.57 396.88,1364.61 397.48,1364.65 398.08,1364.69 398.68,1364.73 399.28,1364.77 399.87,1364.81 400.47,1364.86 401.07,1364.90 401.67,1364.94 402.27,1364.98 402.87,1365.02 403.47,1365.07 404.07,1365.11 404.67,1365.15 405.27,1365.19 405.87,1365.24 406.48,1365.28 407.09,1365.32 407.69,1365.37 408.30,1365.41 408.91,1365.45 409.53,1365.49 410.14,1365.54 410.76,1365.58 411.38,1365.62 412.01,1365.66 412.63,1365.71 413.26,1365.75 413.89,1365.79 414.53,1365.83 415.17,1365.87 415.81,1365.91 416.45,1365.95 417.10,1365.99 417.76,1366.03 418.41,1366.07 419.08,1366.11 419.74,1366.15 420.41,1366.19 421.09,1366.23 421.77,1366.26 422.45,1366.30 423.14,1366.34 423.84,1366.37 424.54,1366.41 425.25,1366.44 425.96,1366.47 426.68,1366.51 427.40,1366.54 428.13,1366.57 428.87,1366.60 429.61,1366.63 430.36,1366.66 431.12,1366.69 431.88,1366.72 432.65,1366.75 433.43,1366.77 434.21,1366.80 435.00,1366.82 435.80,1366.85 436.61,1366.87 437.43,1366.89 438.25,1366.91 439.08,1366.93 439.92,1366.95 440.77,1366.97 441.63,1366.99 442.49,1367.00 443.37,1367.02 444.25,1367.03 445.15,1367.04 446.05,1367.06 446.96,1367.07 447.88,1367.08 448.82,1367.08 449.76,1367.09 450.71,1367.10 451.67,1367.10 452.64,1367.10 453.63,1367.10 454.62,1367.10 455.63,1367.10 456.64,1367.10 457.67,1367.10 458.71,1367.09 459.76,1367.08 460.82,1367.08 461.89,1367.07 462.97,1367.06 464.07,1367.04 465.18,1367.03 466.29,1367.01 467.42,1367.00 468.56,1366.98 469.71,1366.96 470.87,1366.94 472.04,1366.92 473.22,1366.89 474.41,1366.87 475.61,1366.84 476.83,1366.81 478.05,1366.79 479.28,1366.76 480.52,1366.73 481.77,1366.69 483.03,1366.66 484.30,1366.63 485.57,1366.59 486.86,1366.55 488.16,1366.51 489.46,1366.48 490.77,1366.44 492.09,1366.39 493.43,1366.35 494.76,1366.31 496.11,1366.26 497.47,1366.22 498.83,1366.17 500.20,1366.12 501.58,1366.08 502.96,1366.03 504.36,1365.98 505.76,1365.92 507.17,1365.87 508.58,1365.82 510.01,1365.77 511.43,1365.71 512.87,1365.65 514.31,1365.60 515.76,1365.54 517.22,1365.48 518.68,1365.42 520.15,1365.36 521.63,1365.30 523.11,1365.24 524.60,1365.18 526.09,1365.12 527.59,1365.05 529.09,1364.99 530.60,1364.92 532.11,1364.86 533.63,1364.79 535.16,1364.72 536.69,1364.66 538.22,1364.59 539.76,1364.52 541.31,1364.45 542.86,1364.38 544.41,1364.31 545.97,1364.24 547.53,1364.17 549.10,1364.09 550.67,1364.02 552.24,1363.95 553.82,1363.87 555.40,1363.80 556.98,1363.72 558.57,1363.65 560.16,1363.57 561.75,1363.50 563.35,1363.42 564.95,1363.35 566.55,1363.27 568.16,1363.19 569.77,1363.11 571.38,1363.04 572.99,1362.96 574.61,1362.88 576.22,1362.80 577.84,1362.72 579.46,1362.64 581.09,1362.56 582.71,1362.48 584.34,1362.40 585.96,1362.32 587.59,1362.24 589.22,1362.16 590.85,1362.08 592.48,1362.00 594.11,1361.92 595.75,1361.84 597.38,1361.76 599.02,1361.68 600.65,1361.60 602.28,1361.52 603.92,1361.44" fill="none" stroke="#008000" stroke-width="4.0" stroke-linejoin="round"/>
<polygon points="167.93,1353.23 174.93,1353.23 174.93,1357.13 178.83,1357.13 178.83,1364.13 174.93,1364.13 174.93,1368.03 167.93,1368.03 167.93,1364.13 164.03,1364.13 164.03,1357.13 167.93,1357.13" fill="#008000"/>
<polygon points="240.01,1354.14 247.01,1354.14 247.01,1358.04 250.91,1358.04 250.91,1365.04 247.01,1365.04 247.01,1368.94 240.01,1368.94 240.01,1365.04 236.11,1365.04 236.11,1358.04 240.01,1358.04" fill="#008000"/>
<polygon points="312.09,1355.35 319.09,1355.35 319.09,1359.25 322.99,1359.25 322.99,1366.25 319.09,1366.25 319.09,1370.15 312.09,1370.15 312.09,1366.25 308.19,1366.25 308.19,1359.25 312.09,1359.25" fill="#008000"/>
<polygon points="384.18,1356.66 391.18,1356.66 391.18,1360.56 395.08,1360.56 395.08,1367.56 391.18,1367.56 391.18,1371.46 384.18,1371.46 384.18,1367.56 380.28,1367.56 380.28,1360.56 384.18,1360.56" fill="#008000"/>
<polygon points="456.26,1359.68 463.26,1359.68 463.26,1363.58 467.16,1363.58 467.16,1370.58 463.26,1370.58 463.26,1374.48 456.26,1374.48 456.26,1370.58 452.36,1370.58 452.36,1363.58 456.26,1363.58" fill="#008000"/>
<polygon points="600.42,1354.04 607.42,1354.04 607.42,1357.94 611.32,1357.94 611.32,1364.94 607.42,1364.94 607.42,1368.84 600.42,1368.84 600.42,1364.94 596.52,1364.94 596.52,1357.94 600.42,1357.94" fill="#008000"/>
<polyline points="171.43,1363.25 172.16,1363.26 172.88,1363.26 173.61,1363.27 174.33,1363.27 175.05,1363.27 175.78,1363.28 176.50,1363.28 177.23,1363.29 177.95,1363.29 178.67,1363.30 179.40,1363.30 180.12,1363.31 180.85,1363.31 181.57,1363.32 182.30,1363.32 183.02,1363.32 183.74,1363.33 184.47,1363.33 185.19,1363.34 185.91,1363.34 186.64,1363.35 187.36,1363.35 188.09,1363.36 188.81,1363.36 189.53,1363.37 190.26,1363.37 190.98,1363.38 191.70,1363.38 192.43,1363.39 193.15,1363.39 193.87,1363.40 194.60,1363.40 195.32,1363.41 196.04,1363.41 196.77,1363.42 197.49,1363.42 198.21,1363.43 198.94,1363.44 199.66,1363.44 200.38,1363.45 201.10,1363.45 201.83,1363.46 202.55,1363.46 203.27,1363.47 203.99,1363.48 204.71,1363.48 205.44,1363.49 206.16,1363.49 206.88,1363.50 207.60,1363.51 208.32,1363.51 209.05,1363.52 209.77,1363.53 210.49,1363.53 211.21,1363.54 211.93,1363.55 212.65,1363.55 213.37,1363.56 214.09,1363.57 214.81,1363.58 215.53,1363.58 216.25,1363.59 216.97,1363.60 217.69,1363.60 218.41,1363.61 219.13,1363.62 219.85,1363.63 220.57,1363.64 221.29,1363.64 222.01,1363.65 222.73,1363.66 223.45,1363.67 224.17,1363.68 224.89,1363.69 225.61,1363.70 226.32,1363.70 227.04,1363.71 227.76,1363.72 228.48,1363.73 229.20,1363.74 229.91,1363.75 230.63,1363.76 231.35,1363.77 232.07,1363.78 232.78,1363.79 233.50,1363.80 234.22,1363.81 234.93,1363.82 235.65,1363.83 236.36,1363.84 237.08,1363.85 237.80,1363.86 238.51,1363.88 239.23,1363.89 239.94,1363.90 240.66,1363.91 241.37,1363.92 242.09,1363.93 242.80,1363.95 243.51,1363.96 244.23,1363.97 244.94,1363.98 245.65,1364.00 246.37,1364.01 247.08,1364.02 247.79,1364.03 248.51,1364.05 249.22,1364.06 249.93,1364.08 250.64,1364.09 251.36,1364.10 252.07,1364.12 252.78,1364.13 253.49,1364.14 254.20,1364.16 254.92,1364.17 255.63,1364.19 256.34,1364.20 257.05,1364.22 257.76,1364.23 258.48,1364.25 259.19,1364.26 259.90,1364.28 260.61,1364.29 261.32,1364.31 262.04,1364.32 262.75,1364.34 263.46,1364.35 264.17,1364.37 264.88,1364.38 265.60,1364.40 266.31,1364.41 267.02,1364.43 267.73,1364.44 268.45,1364.46 269.16,1364.48 269.87,1364.49 270.59,1364.51 271.30,1364.52 272.01,1364.54 272.73,1364.55 273.44,1364.57 274.16,1364.59 274.87,1364.60 275.59,1364.62 276.30,1364.63 277.02,1364.65 277.73,1364.66 278.45,1364.68 279.17,1364.69 279.88,1364.71 280.60,1364.73 281.32,1364.74 282.03,1364.76 282.75,1364.77 283.47,1364.79 284.19,1364.80 284.91,1364.82 285.63,1364.83 286.35,1364.85 287.07,1364.86 287.79,1364.88 288.51,1364.89 289.23,1364.91 289.95,1364.92 290.68,1364.94 291.40,1364.95 292.12,1364.97 292.85,1364.98 293.57,1365.00 294.30,1365.01 295.02,1365.03 295.75,1365.04 296.48,1365.05 297.20,1365.07 297.93,1365.08 298.66,1365.10 299.39,1365.11 300.12,1365.12 300.85,1365.14 301.58,1365.15 302.31,1365.16 303.04,1365.18 303.77,1365.19 304.51,1365.20 305.24,1365.21 305.98,1365.23 306.71,1365.24 307.45,1365.25 308.18,1365.26 308.92,1365.27 309.66,1365.29 310.40,1365.30 311.14,1365.31 311.88,1365.32 312.62,1365.33 313.36,1365.34 314.11,1365.35 314.85,1365.36 315.59,1365.37 316.34,1365.38 317.09,1365.39 317.83,1365.40 318.58,1365.41 319.33,1365.42 320.08,1365.43 320.83,1365.43 321.58,1365.44 322.33,1365.45 323.08,1365.46 323.83,1365.47 324.58,1365.48 325.33,1365.48 326.09,1365.49 326.84,1365.50 327.59,1365.51 328.35,1365.51 329.10,1365.52 329.85,1365.53 330.61,1365.54 331.36,1365.54 332.11,1365.55 332.87,1365.56 333.62,1365.56 334.37,1365.57 335.13,1365.58 335.88,1365.59 336.63,1365.59 337.39,1365.60 338.14,1365.61 338.89,1365.61 339.64,1365.62 340.39,1365.63 341.14,1365.64 341.89,1365.64 342.64,1365.65 343.39,1365.66 344.14,1365.66 344.89,1365.67 345.64,1365.68 346.38,1365.69 347.13,1365.70 347.87,1365.70 348.62,1365.71 349.36,1365.72 350.10,1365.73 350.84,1365.74 351.58,1365.74 352.32,1365.75 353.06,1365.76 353.79,1365.77 354.53,1365.78 355.26,1365.79 356.00,1365.80 356.73,1365.81 357.46,1365.82 358.19,1365.83 358.92,1365.84 359.64,1365.85 360.37,1365.86 361.09,1365.87 361.81,1365.88 362.53,1365.90 363.25,1365.91 363.97,1365.92 364.68,1365.93 365.39,1365.95 366.10,1365.96 366.81,1365.97 367.52,1365.99 368.23,1366.00 368.93,1366.01 369.63,1366.03 370.33,1366.04 371.03,1366.06 371.72,1366.08 372.42,1366.09 373.11,1366.11 373.80,1366.12 374.48,1366.14 375.17,1366.16 375.85,1366.18 376.53,1366.20 377.21,1366.21 377.88,1366.23 378.55,1366.25 379.22,1366.27 379.89,1366.29 380.55,1366.32 381.22,1366.34 381.87,1366.36 382.53,1366.38 383.18,1366.41 383.83,1366.43 384.48,1366.45 385.13,1366.48 385.77,1366.50 386.41,1366.53 387.04,1366.55 387.68,1366.58 388.31,1366.61 388.93,1366.64 389.56,1366.66 390.18,1366.69 390.80,1366.72 391.41,1366.75 392.03,1366.78 392.64,1366.81 393.25,1366.84 393.86,1366.87 394.46,1366.91 395.07,1366.94 395.67,1366.97 396.27,1367.00 396.88,1367.04 397.48,1367.07 398.08,1367.10 398.68,1367.14 399.28,1367.17 399.87,1367.20 400.47,1367.24 401.07,1367.27 401.67,1367.31 402.27,1367.34 402.87,1367.38 403.47,1367.41 404.07,1367.45 404.67,1367.48 405.27,1367.52 405.87,1367.55 406.48,1367.59 407.09,1367.62 407.69,1367.66 408.30,1367.69 408.91,1367.73 409.53,1367.76 410.14,1367.80 410.76,1367.83 411.38,1367.87 412.01,1367.90 412.63,1367.94 413.26,1367.97 413.89,1368.00 414.53,1368.04 415.17,1368.07 415.81,1368.10 416.45,1368.14 417.10,1368.17 417.76,1368.20 418.41,1368.23 419.08,1368.27 419.74,1368.30 420.41,1368.33 421.09,1368.36 421.77,1368.39 422.45,1368.42 423.14,1368.45 423.84,1368.47 424.54,1368.50 425.25,1368.53 425.96,1368.56 426.68,1368.58 427.40,1368.61 428.13,1368.63 428.87,1368.66 429.61,1368.68 430.36,1368.71 431.12,1368.73 431.88,1368.75 432.65,1368.77 433.43,1368.79 434.21,1368.81 435.00,1368.83 435.80,1368.85 436.61,1368.87 437.43,1368.89 438.25,1368.90 439.08,1368.92 439.92,1368.93 440.77,1368.94 441.63,1368.96 442.49,1368.97 443.37,1368.98 444.25,1368.99 445.15,1369.00 446.05,1369.01 446.96,1369.01 447.88,1369.02 448.82,1369.02 449.76,1369.03 450.71,1369.03 451.67,1369.03 452.64,1369.03 453.63,1369.03 454.62,1369.03 455.63,1369.03 456.64,1369.02 457.67,1369.02 458.71,1369.01 459.76,1369.00 460.82,1368.99 461.89,1368.98 462.97,1368.97 464.07,1368.96 465.18,1368.94 466.29,1368.93 467.42,1368.91 468.56,1368.89 469.71,1368.87 470.87,1368.85 472.04,1368.83 473.22,1368.81 474.41,1368.79 475.61,1368.76 476.83,1368.74 478.05,1368.71 479.28,1368.68 480.52,1368.66 481.77,1368.63 483.03,1368.60 484.30,1368.56 485.57,1368.53 486.86,1368.50 488.16,1368.46 489.46,1368.43 490.77,1368.39 492.09,1368.35 493.43,1368.32 494.76,1368.28 496.11,1368.24 497.47,1368.19 498.83,1368.15 500.20,1368.11 501.58,1368.07 502.96,1368.02 504.36,1367.98 505.76,1367.93 507.17,1367.88 508.58,1367.84 510.01,1367.79 511.43,1367.74 512.87,1367.69 514.31,1367.64 515.76,1367.59 517.22,1367.54 518.68,1367.48 520.15,1367.43 521.63,1367.37 523.11,1367.32 524.60,1367.26 526.09,1367.21 527.59,1367.15 529.09,1367.10 530.60,1367.04 532.11,1366.98 533.63,1366.92 535.16,1366.86 536.69,1366.80 538.22,1366.74 539.76,1366.68 541.31,1366.62 542.86,1366.56 544.41,1366.49 545.97,1366.43 547.53,1366.37 549.10,1366.30 550.67,1366.24 552.24,1366.17 553.82,1366.11 555.40,1366.04 556.98,1365.98 558.57,1365.91 560.16,1365.84 561.75,1365.78 563.35,1365.71 564.95,1365.64 566.55,1365.57 568.16,1365.51 569.77,1365.44 571.38,1365.37 572.99,1365.30 574.61,1365.23 576.22,1365.16 577.84,1365.09 579.46,1365.02 581.09,1364.95 582.71,1364.88 584.34,1364.81 585.96,1364.74 587.59,1364.67 589.22,1364.60 590.85,1364.53 592.48,1364.46 594.11,1364.39 595.75,1364.31 597.38,1364.24 599.02,1364.17 600.65,1364.10 602.28,1364.03 603.92,1363.96" fill="none" stroke="#808000" stroke-width="4.0" stroke-linejoin="round"/>
<polygon points="171.43,1353.95 180.73,1363.25 171.43,1372.55 162.13,1363.25" fill="#808000"/>
<polygon points="243.51,1354.66 252.81,1363.96 243.51,1373.26 234.21,1363.96" fill="#808000"/>
<polygon points="315.59,1356.07 324.89,1365.37 315.59,1374.67 306.29,1365.37" fill="#808000"/>
<polygon points="387.68,1357.28 396.98,1366.58 387.68,1375.88 378.38,1366.58" fill="#808000"/>
<polygon points="459.76,1359.70 469.06,1369.00 459.76,1378.30 450.46,1369.00" fill="#808000"/>
<polygon points="603.92,1354.66 613.22,1363.96 603.92,1373.26 594.62,1363.96" fill="#808000"/>
<circle cx="499.30" cy="64.20" r="8.10" fill="#000000"/>
<text class="t" x="549.00" y="74.10" font-size="28.3" fill="#000000">50 Hz</text>
<polygon points="491.05,95.93 507.55,95.93 499.30,110.23" fill="#ff0000"/>
<text class="t" x="549.00" y="110.60" font-size="28.3" fill="#e00a0a"> 00 Hz</text><path transform="translate(549.00,110.60) scale(0.01382,-0.01382)" d="M789,0L490,0L490,1040L138,830L138,1090L510,1430L789,1430Z" fill="#e00a0a"/>
<polygon points="491.05,141.97 507.55,141.97 499.30,127.67" fill="#800080"/>
<text class="t" x="549.00" y="147.10" font-size="28.3" fill="#5a005a">  kHz</text><path transform="translate(549.00,147.10) scale(0.01382,-0.01382)" d="M789,0L490,0L490,1040L138,830L138,1090L510,1430L789,1430Z" fill="#5a005a"/>
<polygon points="499.30,182.15 491.98,177.92 491.98,169.47 499.30,165.25 506.62,169.47 506.62,177.92" fill="#0000ff"/>
<text class="t" x="549.00" y="183.60" font-size="28.3" fill="#0400a8"> 0 KHz</text><path transform="translate(549.00,183.60) scale(0.01382,-0.01382)" d="M789,0L490,0L490,1040L138,830L138,1090L510,1430L789,1430Z" fill="#0400a8"/>
<polygon points="492.20,203.10 506.40,203.10 506.40,217.30 492.20,217.30" fill="#ff00ff"/>
<text class="t" x="549.00" y="220.10" font-size="28.3" fill="#e614e6">50 kHz</text>
<polygon points="499.30,238.40 501.42,243.79 507.19,244.14 502.72,247.81 504.18,253.41 499.30,250.30 494.42,253.41 495.88,247.81 491.41,244.14 497.18,243.79" fill="#800000"/>
<text class="t" x="549.00" y="256.60" font-size="28.3" fill="#5e0606">  MHz</text><path transform="translate(549.00,256.60) scale(0.01382,-0.01382)" d="M789,0L490,0L490,1040L138,830L138,1090L510,1430L789,1430Z" fill="#5e0606"/>
<polygon points="495.80,275.80 502.80,275.80 502.80,279.70 506.70,279.70 506.70,286.70 502.80,286.70 502.80,290.60 495.80,290.60 495.80,286.70 491.90,286.70 491.90,279.70 495.80,279.70" fill="#008000"/>
<text class="t" x="549.00" y="293.10" font-size="28.3" fill="#127a12">2 MHz</text>
<polygon points="499.30,310.40 508.60,319.70 499.30,329.00 490.00,319.70" fill="#808000"/>
<text class="t" x="549.00" y="329.60" font-size="28.3" fill="#66620e">5 MHz</text>
<text class="s" x="411" y="1469" font-size="37.5" font-weight="bold" text-anchor="middle">Irradiation dose (kGy)</text>
<g transform="translate(34.6,396.3) rotate(-90)"><text class="s" x="0" y="0" font-size="37.5"><tspan font-weight="bold">Dielectric constant </tspan><tspan dx="1.5">ε</tspan><tspan font-size="23" dx="2" dy="11">1</tspan></text></g>
<g transform="translate(34.6,869.2) rotate(-90)"><text class="s" x="0" y="0" font-size="37.5"><tspan font-weight="bold">Dielectric constant </tspan><tspan dx="1.5">ε</tspan><tspan font-size="23" dx="2" dy="11">1</tspan></text></g>
<g transform="translate(48.4,1342.7) rotate(-90)"><text class="s" x="0" y="0" font-size="37.5"><tspan font-weight="bold">Dielectric constant </tspan><tspan dx="1.5">ε</tspan><tspan font-size="23" dx="2" dy="11">1</tspan></text></g>
</svg></body></html>
